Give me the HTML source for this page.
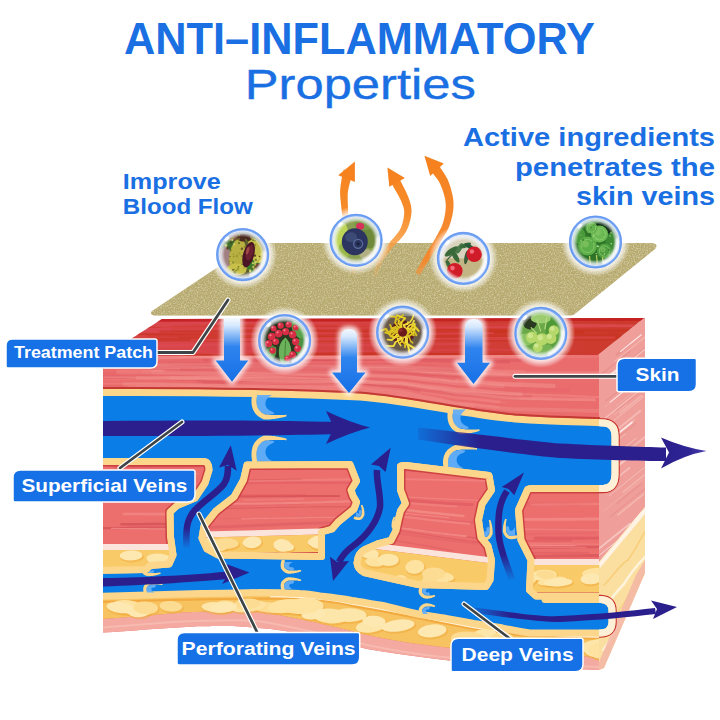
<!DOCTYPE html>
<html><head><meta charset="utf-8">
<style>
html,body{margin:0;padding:0;background:#fff;width:720px;height:720px;overflow:hidden}
svg{display:block}
text{font-family:"Liberation Sans",sans-serif}
</style></head>
<body>
<svg width="720" height="720" viewBox="0 0 720 720">
<defs>
  <clipPath id="front"><path d="M103,356 L599,355 L599,670 C550,668 500,665 453,661 C420,657 390,653 367,649 C330,640 290,630 258,628 C240,626 230,626 227,626 C210,626 195,626.4 195,626.4 C160,628 130,631 103,632.6 Z"/></clipPath>
  <clipPath id="topface"><path d="M162,319 L644,318 L598,355 L103,357 Z"/></clipPath>
  <clipPath id="sideL"><path d="M599,562 L645,507 L645,573 L604,668 L599,670 Z"/></clipPath>
  <clipPath id="sideU"><path d="M598,355 L644,318 L645,318 L645,507 L599,562 Z"/></clipPath>
  <clipPath id="sideOnly"><rect x="599" y="0" width="121" height="720"/></clipPath>
  <clipPath id="leftOfSide"><rect x="0" y="0" width="599" height="720"/></clipPath>
  <clipPath id="rightOfLeft"><rect x="103" y="300" width="560" height="400"/></clipPath>
  <clipPath id="islA"><path d="M95,461.5 L204,461.5 Q209,462 209,470 L205,483 L195,498 L177,505.5 L170,512 L170.5,537 L173,555 L169,564 L150,565.5 L146,569.5 L95,570.5 Z"/></clipPath>
  <clipPath id="islB"><path d="M247,465 L350,464.5 L356.5,481 L351,490 L353,496 L356.5,502 L354,509 L338,522 L332,529 L321.5,532 L321.5,556.5 L218,555 L207,549 L202,538 L204,526 L216,511 L234,497 L243.5,480 Z"/></clipPath>
  <clipPath id="islC"><path d="M400.5,466 Q401,465 406,465.5 L489,475.5 L491.5,490 L482,504 L478.5,520 L481,537.5 L488,546 L491.5,560 L490,580 L486,586.5 L418,584.5 L364,572.5 Q357.5,569 357,563 Q358,553 365,549.5 L377.5,544 L391,540.5 L396,530.5 L398,521 L400.5,511 L405.5,503.5 L400.5,490 Z"/></clipPath>
  <clipPath id="islD"><path d="M527,491 Q527,488.5 532,488.5 L625,488.5 L625,596 L536,596 L529.5,590 L531,560 L521,540 L518.5,510 Z"/></clipPath>
  <linearGradient id="dnArrow" x1="0" y1="0" x2="0" y2="1">
    <stop offset="0" stop-color="#f4f9ff"/>
    <stop offset="0.12" stop-color="#d6e8fd"/>
    <stop offset="0.45" stop-color="#2f84ee"/>
    <stop offset="1" stop-color="#1670e6"/>
  </linearGradient>
  <linearGradient id="fadeB" x1="418" y1="0" x2="480" y2="0" gradientUnits="userSpaceOnUse">
    <stop offset="0" stop-color="#2a1f8c" stop-opacity="0.15"/>
    <stop offset="1" stop-color="#2a1f8c"/>
  </linearGradient>
  <linearGradient id="topGrad" x1="103" y1="0" x2="644" y2="0" gradientUnits="userSpaceOnUse">
    <stop offset="0" stop-color="#da4850"/>
    <stop offset="0.5" stop-color="#d3403e"/>
    <stop offset="1" stop-color="#cc3a2c"/>
  </linearGradient>
  <linearGradient id="headB" x1="661" y1="0" x2="707" y2="0" gradientUnits="userSpaceOnUse">
    <stop offset="0" stop-color="#2a1f8c"/>
    <stop offset="0.6" stop-color="#2e2494"/>
    <stop offset="1" stop-color="#4a42ae"/>
  </linearGradient>
  <linearGradient id="fadeD" x1="470" y1="0" x2="510" y2="0" gradientUnits="userSpaceOnUse">
    <stop offset="0" stop-color="#2a1f8c" stop-opacity="0.1"/>
    <stop offset="1" stop-color="#2a1f8c"/>
  </linearGradient>
  <linearGradient id="fadeP1" x1="0" y1="549" x2="0" y2="528" gradientUnits="userSpaceOnUse">
    <stop offset="0" stop-color="#2a1f8c" stop-opacity="0"/>
    <stop offset="1" stop-color="#2a1f8c"/>
  </linearGradient>
  <linearGradient id="fadeP3" x1="0" y1="581" x2="0" y2="555" gradientUnits="userSpaceOnUse">
    <stop offset="0" stop-color="#2a1f8c" stop-opacity="0"/>
    <stop offset="1" stop-color="#2a1f8c"/>
  </linearGradient>
  <linearGradient id="fadeUp" x1="0" y1="1" x2="0" y2="0">
    <stop offset="0" stop-color="#2a1f8c" stop-opacity="0.1"/>
    <stop offset="0.3" stop-color="#2a1f8c"/>
    <stop offset="1" stop-color="#2a1f8c"/>
  </linearGradient>
  <linearGradient id="orange" x1="0" y1="278" x2="0" y2="160" gradientUnits="userSpaceOnUse">
    <stop offset="0" stop-color="#f9a850" stop-opacity="0.1"/>
    <stop offset="0.3" stop-color="#f89a3c" stop-opacity="0.85"/>
    <stop offset="0.55" stop-color="#f78c2a"/>
    <stop offset="1" stop-color="#f5821f"/>
  </linearGradient>
  <linearGradient id="orange3" x1="0" y1="278" x2="0" y2="160" gradientUnits="userSpaceOnUse">
    <stop offset="0" stop-color="#f7923a" stop-opacity="0.5"/>
    <stop offset="0.15" stop-color="#f6862a" stop-opacity="0.95"/>
    <stop offset="1" stop-color="#f5821f"/>
  </linearGradient>
  <radialGradient id="bubGlow" cx="0.5" cy="0.5" r="0.5">
    <stop offset="0.7" stop-color="#ffffff" stop-opacity="1"/>
    <stop offset="0.82" stop-color="#ffffff" stop-opacity="0.7"/>
    <stop offset="1" stop-color="#ffffff" stop-opacity="0"/>
  </radialGradient>
  <radialGradient id="bubIn" cx="0.5" cy="0.5" r="0.5">
    <stop offset="0.7" stop-color="#ffffff" stop-opacity="0"/>
    <stop offset="0.84" stop-color="#f2f6ff" stop-opacity="0.75"/>
    <stop offset="0.94" stop-color="#e4edfd" stop-opacity="0.95"/>
    <stop offset="1" stop-color="#c9dafb" stop-opacity="1"/>
  </radialGradient>
  <filter id="noise" x="0" y="0" width="100%" height="100%">
    <feTurbulence type="fractalNoise" baseFrequency="0.9" numOctaves="2" seed="3" result="n"/>
    <feColorMatrix type="matrix" values="0 0 0 0 0.62  0 0 0 0 0.56  0 0 0 0 0.34  0 0 0 1.4 -0.62" in="n" result="c"/>
    <feComposite in="c" in2="SourceGraphic" operator="in"/>
  </filter>
  <filter id="noise2" x="0" y="0" width="100%" height="100%">
    <feTurbulence type="fractalNoise" baseFrequency="0.7" numOctaves="2" seed="11" result="n"/>
    <feColorMatrix type="matrix" values="0 0 0 0 0.86  0 0 0 0 0.80  0 0 0 0 0.60  0 0 0 1.4 -0.62" in="n" result="c"/>
    <feComposite in="c" in2="SourceGraphic" operator="in"/>
  </filter>
  <filter id="blur2"><feGaussianBlur stdDeviation="2"/></filter>
  <filter id="blur1"><feGaussianBlur stdDeviation="1"/></filter>
</defs>

<!-- ===== SIDE FACE ===== -->
<path d="M598,355 L644,318 L645,318 L645,507 L599,562 Z" fill="#ef9e99"/>
<g clip-path="url(#sideU)"><line x1="620.5" y1="456.6" x2="657.4" y2="426.9" stroke="#fad4ce" stroke-width="2.0" stroke-opacity="0.43" stroke-linecap="round"/>
<line x1="610.3" y1="516.5" x2="652.4" y2="482.6" stroke="#e48886" stroke-width="0.9" stroke-opacity="0.71" stroke-linecap="round"/>
<line x1="614.4" y1="414.6" x2="627.5" y2="404.1" stroke="#fad4ce" stroke-width="0.9" stroke-opacity="0.41" stroke-linecap="round"/>
<line x1="604.8" y1="407.1" x2="639.7" y2="379.1" stroke="#fad4ce" stroke-width="0.8" stroke-opacity="0.37" stroke-linecap="round"/>
<line x1="616.1" y1="410.5" x2="648.7" y2="384.2" stroke="#e48886" stroke-width="1.3" stroke-opacity="0.56" stroke-linecap="round"/>
<line x1="599.4" y1="454.5" x2="625.7" y2="433.5" stroke="#fad4ce" stroke-width="1.3" stroke-opacity="0.38" stroke-linecap="round"/>
<line x1="598.2" y1="456.4" x2="618.9" y2="439.8" stroke="#e48886" stroke-width="2.4" stroke-opacity="0.50" stroke-linecap="round"/>
<line x1="598.2" y1="556.2" x2="638.9" y2="523.5" stroke="#ffffff" stroke-width="1.0" stroke-opacity="0.56" stroke-linecap="round"/>
<line x1="619.8" y1="564.4" x2="635.6" y2="551.6" stroke="#f7c2bc" stroke-width="2.2" stroke-opacity="0.63" stroke-linecap="round"/>
<line x1="610.1" y1="402.1" x2="649.8" y2="370.2" stroke="#ffffff" stroke-width="1.1" stroke-opacity="0.73" stroke-linecap="round"/>
<line x1="617.1" y1="503.4" x2="641.4" y2="483.8" stroke="#e48886" stroke-width="1.4" stroke-opacity="0.48" stroke-linecap="round"/>
<line x1="617.8" y1="539.1" x2="629.5" y2="529.6" stroke="#e48886" stroke-width="1.0" stroke-opacity="0.72" stroke-linecap="round"/>
<line x1="604.4" y1="510.4" x2="644.2" y2="478.4" stroke="#f7c2bc" stroke-width="0.9" stroke-opacity="0.51" stroke-linecap="round"/>
<line x1="622.8" y1="545.7" x2="636.9" y2="534.4" stroke="#f7c2bc" stroke-width="2.2" stroke-opacity="0.46" stroke-linecap="round"/>
<line x1="614.4" y1="361.6" x2="646.7" y2="335.6" stroke="#fad4ce" stroke-width="1.2" stroke-opacity="0.46" stroke-linecap="round"/>
<line x1="606.8" y1="465.0" x2="624.4" y2="450.8" stroke="#e48886" stroke-width="2.2" stroke-opacity="0.67" stroke-linecap="round"/>
<line x1="623.3" y1="492.0" x2="663.4" y2="459.7" stroke="#fad4ce" stroke-width="2.0" stroke-opacity="0.37" stroke-linecap="round"/>
<line x1="617.8" y1="514.8" x2="643.6" y2="494.1" stroke="#f7c2bc" stroke-width="1.6" stroke-opacity="0.71" stroke-linecap="round"/>
<line x1="608.0" y1="473.8" x2="625.0" y2="460.1" stroke="#f7c2bc" stroke-width="1.3" stroke-opacity="0.65" stroke-linecap="round"/>
<line x1="615.0" y1="569.7" x2="634.8" y2="553.7" stroke="#f7c2bc" stroke-width="1.6" stroke-opacity="0.62" stroke-linecap="round"/>
<line x1="598.2" y1="376.9" x2="629.9" y2="351.4" stroke="#e48886" stroke-width="1.7" stroke-opacity="0.53" stroke-linecap="round"/>
<line x1="608.4" y1="424.9" x2="643.7" y2="396.5" stroke="#fad4ce" stroke-width="1.2" stroke-opacity="0.42" stroke-linecap="round"/>
<line x1="606.7" y1="475.1" x2="628.3" y2="457.7" stroke="#fad4ce" stroke-width="2.2" stroke-opacity="0.65" stroke-linecap="round"/>
<line x1="611.2" y1="442.9" x2="635.8" y2="423.1" stroke="#e48886" stroke-width="1.2" stroke-opacity="0.65" stroke-linecap="round"/>
<line x1="606.4" y1="462.1" x2="636.0" y2="438.3" stroke="#fad4ce" stroke-width="0.9" stroke-opacity="0.71" stroke-linecap="round"/>
<line x1="608.5" y1="436.5" x2="640.3" y2="410.9" stroke="#f7c2bc" stroke-width="2.2" stroke-opacity="0.70" stroke-linecap="round"/>
<line x1="616.6" y1="354.9" x2="629.3" y2="344.7" stroke="#e48886" stroke-width="2.3" stroke-opacity="0.55" stroke-linecap="round"/>
<line x1="622.9" y1="366.5" x2="663.6" y2="333.7" stroke="#e48886" stroke-width="2.4" stroke-opacity="0.45" stroke-linecap="round"/>
<line x1="611.1" y1="374.5" x2="627.6" y2="361.3" stroke="#ffffff" stroke-width="2.3" stroke-opacity="0.64" stroke-linecap="round"/>
<line x1="609.3" y1="495.7" x2="644.8" y2="467.1" stroke="#ffffff" stroke-width="0.8" stroke-opacity="0.40" stroke-linecap="round"/>
<line x1="616.7" y1="478.1" x2="629.6" y2="467.8" stroke="#fad4ce" stroke-width="1.8" stroke-opacity="0.56" stroke-linecap="round"/>
<line x1="598.9" y1="448.4" x2="634.4" y2="419.9" stroke="#f7c2bc" stroke-width="1.6" stroke-opacity="0.58" stroke-linecap="round"/>
<line x1="613.4" y1="437.3" x2="632.1" y2="422.3" stroke="#ffffff" stroke-width="1.7" stroke-opacity="0.75" stroke-linecap="round"/>
<line x1="620.3" y1="412.7" x2="641.9" y2="395.4" stroke="#fad4ce" stroke-width="1.6" stroke-opacity="0.44" stroke-linecap="round"/>
<line x1="616.4" y1="405.6" x2="658.1" y2="372.1" stroke="#f7c2bc" stroke-width="0.9" stroke-opacity="0.43" stroke-linecap="round"/>
<line x1="598.4" y1="549.1" x2="630.2" y2="523.5" stroke="#fad4ce" stroke-width="1.9" stroke-opacity="0.72" stroke-linecap="round"/>
<line x1="605.8" y1="401.0" x2="618.6" y2="390.8" stroke="#e48886" stroke-width="1.4" stroke-opacity="0.51" stroke-linecap="round"/>
<line x1="620.5" y1="351.5" x2="641.3" y2="334.8" stroke="#ffffff" stroke-width="1.1" stroke-opacity="0.74" stroke-linecap="round"/>
<line x1="602.7" y1="420.1" x2="639.9" y2="390.2" stroke="#fad4ce" stroke-width="1.2" stroke-opacity="0.71" stroke-linecap="round"/>
<line x1="613.7" y1="374.5" x2="644.8" y2="349.5" stroke="#fad4ce" stroke-width="1.6" stroke-opacity="0.71" stroke-linecap="round"/></g>
<path d="M599,562 L645,507 L645,573 L604,668 L599,670 Z" fill="#fbdfa0"/>
<path d="M599,563 L645,508 L645,514 L600,568 Z" fill="#fff3e6"/>
<g clip-path="url(#sideL)" fill="none" stroke-linecap="round">
  <path d="M604,585 C612,578 618,566 628,560 C634,552 640,540 646,530" stroke="#f6c66a" stroke-width="1.5" opacity="0.7"/>
  <path d="M603,610 C610,600 616,592 624,584 C630,574 636,566 646,556" stroke="#fff8ea" stroke-width="2.5" opacity="0.8"/>
  <path d="M606,628 C612,620 618,612 626,600 C632,592 638,582 646,572" stroke="#f6c66a" stroke-width="1.3" opacity="0.6"/>
  <path d="M603,650 C610,640 616,630 622,620" stroke="#fff8ea" stroke-width="2" opacity="0.8"/>
  <path d="M610,540 C618,534 626,528 632,522 C638,516 642,512 646,509" stroke="#fff8ea" stroke-width="2" opacity="0.8"/>
</g>
<path d="M645,560 L645,573 L604,668 L599,670 L599,662 L636,575 Z" fill="#f4b3a6" opacity="0.8"/>
<!-- ===== TOP FACE ===== -->
<path d="M162,319 L644,318 L598,355 L103,357 Z" fill="url(#topGrad)"/>
<g clip-path="url(#topface)"><polyline points="171.2,330.7 179.2,330.7 187.2,330.8 195.2,330.8 203.2,330.9 211.2,331.0 219.2,331.1 227.2,331.2 235.2,331.2 243.2,331.3 251.2,331.4 259.2,331.4 267.2,331.4 275.2,331.4 283.2,331.4 291.2,331.3 299.2,331.3 307.2,331.2 315.2,331.1 323.2,330.9 331.2,330.8 339.2,330.7 347.2,330.6 355.2,330.4 363.2,330.3 371.2,330.2 379.2,330.2 387.2,330.1 395.2,330.1 403.2,330.1 411.2,330.1 419.2,330.1 427.2,330.2 435.2,330.2 443.2,330.3 451.2,330.4 459.2,330.5 467.2,330.6 475.2,330.6 483.2,330.7 491.2,330.7 499.2,330.8 507.2,330.8 515.2,330.7" fill="none" stroke="#c8321e" stroke-width="1.4" stroke-opacity="0.38" stroke-linecap="round"/>
<polyline points="111.6,338.1 119.6,338.0 127.6,337.9 135.6,337.8 143.6,337.8 151.6,337.7 159.6,337.7 167.6,337.7 175.6,337.7 183.6,337.7 191.6,337.8 199.6,337.8 207.6,337.9 215.6,338.0 223.6,338.1 231.6,338.2 239.6,338.2 247.6,338.3 255.6,338.3 263.6,338.4 271.6,338.4 279.6,338.3 287.6,338.3 295.6,338.2 303.6,338.1 311.6,338.0 319.6,337.9 327.6,337.8 335.6,337.6 343.6,337.5 351.6,337.4 359.6,337.3 367.6,337.2 375.6,337.1 383.6,337.0 391.6,337.0 399.6,336.9 407.6,336.9 415.6,337.0 423.6,337.0 431.6,337.1 439.6,337.1 447.6,337.2 455.6,337.3 463.6,337.4 471.6,337.5 479.6,337.5 487.6,337.6 495.6,337.6 503.6,337.6 511.6,337.6 519.6,337.5 527.6,337.5 535.6,337.4 543.6,337.3 551.6,337.2 559.6,337.1 567.6,336.9" fill="none" stroke="#e0505a" stroke-width="1.1" stroke-opacity="0.54" stroke-linecap="round"/>
<polyline points="143.1,340.0 151.1,339.9 159.1,339.9 167.1,339.9 175.1,339.9 183.1,339.9 191.1,339.9 199.1,340.0 207.1,340.1 215.1,340.1 223.1,340.2 231.1,340.3 239.1,340.4 247.1,340.4 255.1,340.5 263.1,340.5 271.1,340.5 279.1,340.5 287.1,340.5 295.1,340.4 303.1,340.3 311.1,340.2 319.1,340.1 327.1,340.0 335.1,339.9 343.1,339.7 351.1,339.6 359.1,339.5 367.1,339.4 375.1,339.3 383.1,339.2 391.1,339.1 399.1,339.1 407.1,339.1 415.1,339.1 423.1,339.2 431.1,339.2 439.1,339.3 447.1,339.4 455.1,339.4 463.1,339.5 471.1,339.6 479.1,339.7 487.1,339.7 495.1,339.7 503.1,339.7 511.1,339.7 519.1,339.7 527.1,339.7 535.1,339.6 543.1,339.5 551.1,339.4 559.1,339.3 567.1,339.1 575.1,339.0 583.1,338.9 591.1,338.8 599.1,338.7 607.1,338.6 615.1,338.5 623.1,338.5 631.1,338.5 639.1,338.5 647.1,338.5 655.1,338.5 663.1,338.6 671.1,338.7" fill="none" stroke="#c8321e" stroke-width="3.4" stroke-opacity="0.61" stroke-linecap="round"/>
<polyline points="178.3,351.6 186.3,351.5 194.3,351.3 202.3,351.2 210.3,351.1 218.3,351.0 226.3,350.9 234.3,350.8 242.3,350.7 250.3,350.7 258.3,350.7 266.3,350.7 274.3,350.7 282.3,350.8 290.3,350.8 298.3,350.9 306.3,351.0 314.3,351.0 322.3,351.1 330.3,351.2 338.3,351.2 346.3,351.2 354.3,351.2 362.3,351.2 370.3,351.2 378.3,351.1 386.3,351.1 394.3,350.9 402.3,350.8 410.3,350.7 418.3,350.6 426.3,350.4 434.3,350.3 442.3,350.2 450.3,350.0 458.3,349.9 466.3,349.8 474.3,349.8 482.3,349.7 490.3,349.7 498.3,349.7 506.3,349.8 514.3,349.8 522.3,349.9 530.3,350.0 538.3,350.0 546.3,350.1 554.3,350.2 562.3,350.3 570.3,350.3" fill="none" stroke="#dc4650" stroke-width="1.7" stroke-opacity="0.59" stroke-linecap="round"/>
<polyline points="173.6,322.3 181.6,322.4 189.6,322.4 197.6,322.5 205.6,322.6 213.6,322.7 221.6,322.8 229.6,322.8 237.6,322.9 245.6,323.0 253.6,323.1 261.6,323.1 269.6,323.1 277.6,323.1 285.6,323.1 293.6,323.0 301.6,322.9 309.6,322.8 317.6,322.7 325.6,322.6 333.6,322.5 341.6,322.3 349.6,322.2 357.6,322.1 365.6,322.0 373.6,321.9 381.6,321.9 389.6,321.8 397.6,321.8 405.6,321.8 413.6,321.8 421.6,321.9 429.6,321.9 437.6,322.0" fill="none" stroke="#dc4650" stroke-width="2.4" stroke-opacity="0.52" stroke-linecap="round"/>
<polyline points="157.1,326.9 165.1,326.9 173.1,327.0 181.1,327.1 189.1,327.1 197.1,327.1 205.1,327.1 213.1,327.1 221.1,327.1 229.1,327.0 237.1,326.9 245.1,326.8 253.1,326.7 261.1,326.6 269.1,326.4 277.1,326.3 285.1,326.2 293.1,326.1 301.1,326.0 309.1,325.9 317.1,325.9 325.1,325.9 333.1,325.8 341.1,325.9 349.1,325.9 357.1,326.0 365.1,326.0 373.1,326.1 381.1,326.2 389.1,326.3 397.1,326.4 405.1,326.4 413.1,326.5 421.1,326.5 429.1,326.6 437.1,326.5 445.1,326.5 453.1,326.5 461.1,326.4 469.1,326.3 477.1,326.2 485.1,326.1 493.1,326.0 501.1,325.8 509.1,325.7 517.1,325.6 525.1,325.5 533.1,325.4 541.1,325.3 549.1,325.3 557.1,325.3 565.1,325.3 573.1,325.3 581.1,325.3 589.1,325.4 597.1,325.5 605.1,325.6 613.1,325.7 621.1,325.8 629.1,325.9 637.1,325.9 645.1,326.0 653.1,326.1 661.1,326.1" fill="none" stroke="#e0505a" stroke-width="2.7" stroke-opacity="0.70" stroke-linecap="round"/>
<polyline points="123.7,328.1 131.7,328.1 139.7,328.2 147.7,328.3 155.7,328.4 163.7,328.5 171.7,328.6 179.7,328.6 187.7,328.7 195.7,328.7 203.7,328.7 211.7,328.7 219.7,328.7 227.7,328.7 235.7,328.6 243.7,328.5 251.7,328.4 259.7,328.2 267.7,328.1 275.7,328.0 283.7,327.9 291.7,327.8 299.7,327.6 307.7,327.6 315.7,327.5 323.7,327.5 331.7,327.4 339.7,327.4 347.7,327.5 355.7,327.5 363.7,327.6 371.7,327.6 379.7,327.7 387.7,327.8 395.7,327.9 403.7,328.0 411.7,328.0 419.7,328.1 427.7,328.1 435.7,328.1 443.7,328.1 451.7,328.1 459.7,328.0 467.7,328.0 475.7,327.9 483.7,327.7 491.7,327.6 499.7,327.5 507.7,327.4 515.7,327.2 523.7,327.1 531.7,327.0 539.7,327.0 547.7,326.9" fill="none" stroke="#dc4650" stroke-width="1.4" stroke-opacity="0.39" stroke-linecap="round"/>
<polyline points="147.5,335.5 155.5,335.5 163.5,335.5 171.5,335.6 179.5,335.7 187.5,335.8 195.5,335.8 203.5,335.9 211.5,336.0 219.5,336.1 227.5,336.1 235.5,336.2 243.5,336.2 251.5,336.2 259.5,336.2 267.5,336.1 275.5,336.1 283.5,336.0 291.5,335.9 299.5,335.8 307.5,335.6 315.5,335.5 323.5,335.4 331.5,335.2 339.5,335.1 347.5,335.0 355.5,334.9 363.5,334.9 371.5,334.8 379.5,334.8 387.5,334.8 395.5,334.9 403.5,334.9 411.5,335.0 419.5,335.0 427.5,335.1 435.5,335.2 443.5,335.3 451.5,335.4 459.5,335.4 467.5,335.5 475.5,335.5 483.5,335.5 491.5,335.5 499.5,335.4 507.5,335.3 515.5,335.3 523.5,335.2 531.5,335.0 539.5,334.9 547.5,334.8 555.5,334.7 563.5,334.5 571.5,334.4 579.5,334.3 587.5,334.3 595.5,334.2 603.5,334.2 611.5,334.2 619.5,334.2" fill="none" stroke="#c8321e" stroke-width="2.5" stroke-opacity="0.40" stroke-linecap="round"/>
<polyline points="178.8,337.7 186.8,337.7 194.8,337.8 202.8,337.8 210.8,337.8 218.8,337.8 226.8,337.8 234.8,337.7 242.8,337.6 250.8,337.5 258.8,337.4 266.8,337.3 274.8,337.2 282.8,337.0 290.8,336.9 298.8,336.8 306.8,336.7 314.8,336.6 322.8,336.5 330.8,336.5 338.8,336.5 346.8,336.5 354.8,336.5 362.8,336.5 370.8,336.6 378.8,336.6 386.8,336.7 394.8,336.8 402.8,336.9 410.8,337.0 418.8,337.0 426.8,337.1 434.8,337.1 442.8,337.1 450.8,337.1 458.8,337.0 466.8,337.0 474.8,336.9 482.8,336.8 490.8,336.7 498.8,336.6 506.8,336.4 514.8,336.3 522.8,336.2 530.8,336.1 538.8,336.0 546.8,335.9 554.8,335.8 562.8,335.8 570.8,335.7 578.8,335.7 586.8,335.8 594.8,335.8 602.8,335.9 610.8,336.0 618.8,336.1 626.8,336.2 634.8,336.3 642.8,336.3 650.8,336.4" fill="none" stroke="#c8321e" stroke-width="1.1" stroke-opacity="0.69" stroke-linecap="round"/>
<polyline points="81.9,345.6 89.9,345.7 97.9,345.8 105.9,345.8 113.9,345.9 121.9,345.9 129.9,345.9 137.9,345.8 145.9,345.8 153.9,345.7 161.9,345.6 169.9,345.5 177.9,345.4 185.9,345.2 193.9,345.1 201.9,345.0 209.9,344.9 217.9,344.8 225.9,344.7 233.9,344.6 241.9,344.6 249.9,344.5 257.9,344.5 265.9,344.5 273.9,344.6 281.9,344.6 289.9,344.7 297.9,344.8 305.9,344.9 313.9,344.9 321.9,345.0 329.9,345.1 337.9,345.1 345.9,345.1 353.9,345.1 361.9,345.1 369.9,345.1 377.9,345.0 385.9,344.9 393.9,344.8 401.9,344.7 409.9,344.6 417.9,344.4 425.9,344.3 433.9,344.1 441.9,344.0 449.9,343.9 457.9,343.8 465.9,343.7 473.9,343.7 481.9,343.7 489.9,343.7" fill="none" stroke="#e0505a" stroke-width="2.5" stroke-opacity="0.38" stroke-linecap="round"/>
<polyline points="263.6,321.4 271.6,321.3 279.6,321.2 287.6,321.1 295.6,320.9 303.6,320.8 311.6,320.7 319.6,320.6 327.6,320.6 335.6,320.5 343.6,320.5 351.6,320.5 359.6,320.5 367.6,320.6 375.6,320.6 383.6,320.7 391.6,320.8 399.6,320.9 407.6,321.0 415.6,321.1 423.6,321.1 431.6,321.2 439.6,321.2 447.6,321.2 455.6,321.2 463.6,321.2 471.6,321.2 479.6,321.1 487.6,321.0 495.6,320.9 503.6,320.8 511.6,320.7 519.6,320.5 527.6,320.4 535.6,320.3 543.6,320.2 551.6,320.1 559.6,320.1 567.6,320.0 575.6,320.0 583.6,320.0 591.6,320.0 599.6,320.1 607.6,320.2 615.6,320.2 623.6,320.3 631.6,320.4" fill="none" stroke="#cc3626" stroke-width="2.8" stroke-opacity="0.64" stroke-linecap="round"/>
<polyline points="134.8,333.8 142.8,333.9 150.8,334.0 158.8,334.0 166.8,334.0 174.8,334.0 182.8,334.0 190.8,333.9 198.8,333.9 206.8,333.8 214.8,333.7 222.8,333.6 230.8,333.4 238.8,333.3 246.8,333.2 254.8,333.1 262.8,332.9 270.8,332.9 278.8,332.8 286.8,332.7 294.8,332.7 302.8,332.7 310.8,332.7 318.8,332.8 326.8,332.8 334.8,332.9 342.8,333.0 350.8,333.0 358.8,333.1 366.8,333.2 374.8,333.3 382.8,333.3 390.8,333.4 398.8,333.4 406.8,333.4 414.8,333.3 422.8,333.3 430.8,333.2 438.8,333.1 446.8,333.0 454.8,332.9 462.8,332.7 470.8,332.6 478.8,332.5 486.8,332.4 494.8,332.3 502.8,332.2 510.8,332.1 518.8,332.0 526.8,332.0 534.8,332.0 542.8,332.0 550.8,332.1 558.8,332.1 566.8,332.2 574.8,332.3 582.8,332.4" fill="none" stroke="#c8321e" stroke-width="2.7" stroke-opacity="0.77" stroke-linecap="round"/>
<polyline points="248.2,327.5 256.2,327.5 264.2,327.4 272.2,327.4 280.2,327.3 288.2,327.2 296.2,327.1 304.2,326.9 312.2,326.8 320.2,326.7 328.2,326.6 336.2,326.5 344.2,326.4 352.2,326.3 360.2,326.2 368.2,326.2 376.2,326.2 384.2,326.2 392.2,326.2 400.2,326.3 408.2,326.4 416.2,326.4 424.2,326.5 432.2,326.6 440.2,326.7 448.2,326.8 456.2,326.8 464.2,326.9 472.2,326.9 480.2,326.9 488.2,326.9 496.2,326.8 504.2,326.8 512.2,326.7 520.2,326.6 528.2,326.5 536.2,326.4 544.2,326.2 552.2,326.1" fill="none" stroke="#dc4650" stroke-width="1.7" stroke-opacity="0.53" stroke-linecap="round"/>
<polyline points="237.5,334.2 245.5,334.0 253.5,333.9 261.5,333.8 269.5,333.7 277.5,333.5 285.5,333.4 293.5,333.4 301.5,333.3 309.5,333.3 317.5,333.2 325.5,333.3 333.5,333.3 341.5,333.3 349.5,333.4 357.5,333.5 365.5,333.5 373.5,333.6 381.5,333.7 389.5,333.8 397.5,333.8 405.5,333.9 413.5,333.9 421.5,333.9 429.5,333.9 437.5,333.8 445.5,333.8 453.5,333.7 461.5,333.6 469.5,333.5 477.5,333.3 485.5,333.2 493.5,333.1" fill="none" stroke="#dc4650" stroke-width="1.7" stroke-opacity="0.72" stroke-linecap="round"/>
<polyline points="98.6,332.2 106.6,332.2 114.6,332.1 122.6,332.1 130.6,332.1 138.6,332.1 146.6,332.2 154.6,332.2 162.6,332.3 170.6,332.4 178.6,332.5 186.6,332.6 194.6,332.7 202.6,332.7 210.6,332.8 218.6,332.8 226.6,332.9 234.6,332.9 242.6,332.8 250.6,332.8 258.6,332.7 266.6,332.6 274.6,332.5 282.6,332.4 290.6,332.3 298.6,332.1 306.6,332.0 314.6,331.9 322.6,331.8 330.6,331.7 338.6,331.6 346.6,331.5 354.6,331.5 362.6,331.5 370.6,331.5 378.6,331.6 386.6,331.6 394.6,331.7 402.6,331.8 410.6,331.8 418.6,331.9 426.6,332.0 434.6,332.1 442.6,332.1 450.6,332.2 458.6,332.2 466.6,332.2 474.6,332.1 482.6,332.1" fill="none" stroke="#dc4650" stroke-width="3.2" stroke-opacity="0.42" stroke-linecap="round"/>
<polyline points="92.4,337.5 100.4,337.5 108.4,337.6 116.4,337.7 124.4,337.8 132.4,337.8 140.4,337.8 148.4,337.8 156.4,337.8 164.4,337.8 172.4,337.7 180.4,337.6 188.4,337.5 196.4,337.4 204.4,337.2 212.4,337.1 220.4,337.0 228.4,336.9 236.4,336.8 244.4,336.7 252.4,336.6 260.4,336.6 268.4,336.5 276.4,336.5 284.4,336.5 292.4,336.6 300.4,336.6 308.4,336.7 316.4,336.8 324.4,336.9 332.4,336.9 340.4,337.0 348.4,337.1 356.4,337.1 364.4,337.2 372.4,337.2 380.4,337.2 388.4,337.1 396.4,337.1 404.4,337.0 412.4,336.9 420.4,336.8 428.4,336.6 436.4,336.5 444.4,336.4 452.4,336.3 460.4,336.1 468.4,336.0 476.4,335.9 484.4,335.9 492.4,335.8 500.4,335.8 508.4,335.8 516.4,335.8 524.4,335.8 532.4,335.9 540.4,336.0 548.4,336.0 556.4,336.1" fill="none" stroke="#cc3626" stroke-width="2.5" stroke-opacity="0.48" stroke-linecap="round"/>
<polyline points="238.9,330.3 246.9,330.3 254.9,330.3 262.9,330.3 270.9,330.3 278.9,330.4 286.9,330.4 294.9,330.5 302.9,330.6 310.9,330.7 318.9,330.8 326.9,330.8 334.9,330.9 342.9,330.9 350.9,331.0 358.9,331.0 366.9,331.0 374.9,330.9 382.9,330.9 390.9,330.8 398.9,330.7 406.9,330.6 414.9,330.4 422.9,330.3 430.9,330.2 438.9,330.0 446.9,329.9 454.9,329.8 462.9,329.7 470.9,329.7 478.9,329.6 486.9,329.6 494.9,329.6 502.9,329.7 510.9,329.7 518.9,329.8 526.9,329.9 534.9,329.9 542.9,330.0 550.9,330.1 558.9,330.2 566.9,330.3 574.9,330.3 582.9,330.4 590.9,330.4 598.9,330.4 606.9,330.3 614.9,330.3 622.9,330.2 630.9,330.1 638.9,330.0 646.9,329.9 654.9,329.8 662.9,329.7" fill="none" stroke="#c8321e" stroke-width="1.3" stroke-opacity="0.56" stroke-linecap="round"/>
<polyline points="191.1,339.7 199.1,339.8 207.1,339.9 215.1,340.0 223.1,340.1 231.1,340.1 239.1,340.2 247.1,340.3 255.1,340.3 263.1,340.3 271.1,340.3 279.1,340.3 287.1,340.2 295.1,340.2 303.1,340.1 311.1,340.0 319.1,339.8 327.1,339.7 335.1,339.6 343.1,339.4 351.1,339.3 359.1,339.2 367.1,339.1 375.1,339.0 383.1,338.9 391.1,338.9 399.1,338.9 407.1,338.9 415.1,338.9 423.1,339.0 431.1,339.0 439.1,339.1" fill="none" stroke="#e0505a" stroke-width="2.0" stroke-opacity="0.40" stroke-linecap="round"/>
<polyline points="83.7,326.6 91.7,326.7 99.7,326.8 107.7,326.9 115.7,327.0 123.7,327.1 131.7,327.2 139.7,327.3 147.7,327.3 155.7,327.3 163.7,327.3 171.7,327.3 179.7,327.3 187.7,327.2 195.7,327.1 203.7,327.0 211.7,326.9 219.7,326.8 227.7,326.7 235.7,326.5 243.7,326.4 251.7,326.3 259.7,326.2 267.7,326.1 275.7,326.1 283.7,326.1 291.7,326.1 299.7,326.1 307.7,326.1 315.7,326.2 323.7,326.2 331.7,326.3 339.7,326.4 347.7,326.5 355.7,326.6 363.7,326.6 371.7,326.7 379.7,326.7 387.7,326.8 395.7,326.8 403.7,326.7 411.7,326.7 419.7,326.6 427.7,326.5 435.7,326.4 443.7,326.3 451.7,326.2 459.7,326.1 467.7,325.9 475.7,325.8 483.7,325.7 491.7,325.6 499.7,325.5 507.7,325.5 515.7,325.5 523.7,325.5 531.7,325.5 539.7,325.5 547.7,325.6 555.7,325.7 563.7,325.7 571.7,325.8" fill="none" stroke="#cc3626" stroke-width="1.4" stroke-opacity="0.62" stroke-linecap="round"/>
<polyline points="187.0,355.0 195.0,355.1 203.0,355.1 211.0,355.2 219.0,355.2 227.0,355.2 235.0,355.2 243.0,355.1 251.0,355.0 259.0,354.9 267.0,354.8 275.0,354.7 283.0,354.6 291.0,354.4 299.0,354.3 307.0,354.1 315.0,354.0 323.0,353.9 331.0,353.8 339.0,353.7 347.0,353.7 355.0,353.7 363.0,353.7 371.0,353.7 379.0,353.7 387.0,353.8 395.0,353.8 403.0,353.9 411.0,354.0 419.0,354.1 427.0,354.1 435.0,354.2 443.0,354.2 451.0,354.2 459.0,354.2" fill="none" stroke="#c8321e" stroke-width="2.5" stroke-opacity="0.74" stroke-linecap="round"/>
<polyline points="161.6,332.5 169.6,332.6 177.6,332.6 185.6,332.5 193.6,332.5 201.6,332.4 209.6,332.3 217.6,332.2 225.6,332.1 233.6,332.0 241.6,331.8 249.6,331.7 257.6,331.6 265.6,331.5 273.6,331.4 281.6,331.3 289.6,331.3 297.6,331.3 305.6,331.2 313.6,331.3 321.6,331.3 329.6,331.4 337.6,331.4 345.6,331.5 353.6,331.6 361.6,331.7 369.6,331.7 377.6,331.8 385.6,331.9 393.6,331.9 401.6,331.9 409.6,331.9 417.6,331.9 425.6,331.8 433.6,331.8 441.6,331.7 449.6,331.6 457.6,331.4 465.6,331.3 473.6,331.2 481.6,331.0 489.6,330.9 497.6,330.8 505.6,330.7 513.6,330.7 521.6,330.6 529.6,330.6 537.6,330.6 545.6,330.6 553.6,330.6 561.6,330.7 569.6,330.8 577.6,330.9 585.6,331.0 593.6,331.0 601.6,331.1 609.6,331.2 617.6,331.3 625.6,331.3 633.6,331.4 641.6,331.4 649.6,331.3 657.6,331.3 665.6,331.3 673.6,331.2" fill="none" stroke="#c8321e" stroke-width="1.9" stroke-opacity="0.40" stroke-linecap="round"/>
<polyline points="159.7,331.2 167.7,331.2 175.7,331.2 183.7,331.2 191.7,331.1 199.7,331.0 207.7,330.9 215.7,330.8 223.7,330.7 231.7,330.5 239.7,330.4 247.7,330.3 255.7,330.2 263.7,330.1 271.7,330.0 279.7,330.0 287.7,329.9 295.7,329.9 303.7,329.9 311.7,330.0 319.7,330.0 327.7,330.1 335.7,330.2 343.7,330.3 351.7,330.3 359.7,330.4 367.7,330.5 375.7,330.6 383.7,330.6 391.7,330.6 399.7,330.6 407.7,330.6 415.7,330.5 423.7,330.5 431.7,330.4 439.7,330.3 447.7,330.2 455.7,330.0 463.7,329.9 471.7,329.8 479.7,329.6 487.7,329.5 495.7,329.4 503.7,329.4 511.7,329.3 519.7,329.3 527.7,329.3 535.7,329.3 543.7,329.3 551.7,329.4 559.7,329.5 567.7,329.5 575.7,329.6 583.7,329.7 591.7,329.8 599.7,329.9" fill="none" stroke="#cc3626" stroke-width="1.4" stroke-opacity="0.68" stroke-linecap="round"/>
<polyline points="172.7,327.2 180.7,327.1 188.7,327.1 196.7,327.0 204.7,326.9 212.7,326.8 220.7,326.7 228.7,326.5 236.7,326.4 244.7,326.3 252.7,326.2 260.7,326.1 268.7,326.0 276.7,326.0 284.7,325.9 292.7,325.9 300.7,325.9 308.7,326.0 316.7,326.0 324.7,326.1 332.7,326.2 340.7,326.3 348.7,326.3 356.7,326.4 364.7,326.5 372.7,326.6 380.7,326.6 388.7,326.6 396.7,326.6 404.7,326.6 412.7,326.6 420.7,326.5 428.7,326.4" fill="none" stroke="#cc3626" stroke-width="3.4" stroke-opacity="0.42" stroke-linecap="round"/>
<polyline points="246.5,356.2 254.5,356.2 262.5,356.1 270.5,356.0 278.5,355.8 286.5,355.7 294.5,355.6 302.5,355.4 310.5,355.3 318.5,355.2 326.5,355.0 334.5,354.9 342.5,354.9 350.5,354.8 358.5,354.8 366.5,354.7 374.5,354.8 382.5,354.8 390.5,354.8 398.5,354.9 406.5,355.0 414.5,355.0 422.5,355.1 430.5,355.2 438.5,355.2 446.5,355.3 454.5,355.3 462.5,355.3 470.5,355.3 478.5,355.2 486.5,355.2 494.5,355.1 502.5,355.0 510.5,354.9" fill="none" stroke="#cc3626" stroke-width="3.2" stroke-opacity="0.58" stroke-linecap="round"/>
<polyline points="222.3,339.7 230.3,339.7 238.3,339.7 246.3,339.7 254.3,339.7 262.3,339.6 270.3,339.5 278.3,339.4 286.3,339.3 294.3,339.2 302.3,339.1 310.3,338.9 318.3,338.8 326.3,338.7 334.3,338.6 342.3,338.5 350.3,338.4 358.3,338.4 366.3,338.3 374.3,338.3 382.3,338.4 390.3,338.4 398.3,338.4 406.3,338.5 414.3,338.6 422.3,338.7 430.3,338.8 438.3,338.8 446.3,338.9 454.3,338.9 462.3,339.0 470.3,339.0 478.3,339.0 486.3,338.9 494.3,338.9 502.3,338.8 510.3,338.7 518.3,338.6 526.3,338.4 534.3,338.3 542.3,338.2 550.3,338.1 558.3,337.9 566.3,337.8 574.3,337.8 582.3,337.7 590.3,337.6 598.3,337.6 606.3,337.6 614.3,337.7" fill="none" stroke="#dc4650" stroke-width="2.3" stroke-opacity="0.63" stroke-linecap="round"/>
<polyline points="162.5,327.5 170.5,327.5 178.5,327.5 186.5,327.5 194.5,327.5 202.5,327.5 210.5,327.6 218.5,327.7 226.5,327.7 234.5,327.8 242.5,327.9 250.5,328.0 258.5,328.1 266.5,328.1 274.5,328.2 282.5,328.2 290.5,328.2 298.5,328.2 306.5,328.1 314.5,328.1 322.5,328.0 330.5,327.9 338.5,327.7 346.5,327.6 354.5,327.5 362.5,327.4 370.5,327.2 378.5,327.1 386.5,327.0 394.5,327.0 402.5,326.9 410.5,326.9 418.5,326.9 426.5,326.9 434.5,326.9 442.5,327.0 450.5,327.0 458.5,327.1 466.5,327.2 474.5,327.3 482.5,327.4 490.5,327.5 498.5,327.5 506.5,327.6 514.5,327.6 522.5,327.6 530.5,327.6 538.5,327.5 546.5,327.5 554.5,327.4 562.5,327.3 570.5,327.2 578.5,327.0 586.5,326.9 594.5,326.8 602.5,326.7 610.5,326.6" fill="none" stroke="#dc4650" stroke-width="2.0" stroke-opacity="0.44" stroke-linecap="round"/><path d="M150,320 L650,319" stroke="#c21e22" stroke-width="3.5" opacity="0.85"/></g>

<!-- ===== FRONT FACE ===== -->
<g clip-path="url(#front)">
  <rect x="100" y="350" width="500" height="330" fill="#ea6c6d"/>
  <polyline points="243.6,382.1 251.6,382.3 259.6,382.6 267.6,383.0 275.6,383.3 283.6,383.7 291.6,384.0 299.6,384.3 307.6,384.6 315.6,384.8 323.6,384.9 331.6,385.0 339.6,385.0 347.6,385.2 355.6,385.5 363.6,385.9 371.6,386.3 379.6,386.8 387.6,387.1 395.6,387.4 403.6,388.0 411.6,389.2 419.6,390.6 427.6,392.1 435.6,393.1 443.6,394.4 451.6,396.2 459.6,397.2 467.6,398.0 475.6,398.9 483.6,399.9 491.6,401.0 499.6,401.9" fill="none" stroke="#f48c8a" stroke-width="2.9" stroke-opacity="0.46" stroke-linecap="round"/>
<polyline points="82.3,386.9 90.3,386.8 98.3,386.8 106.3,386.9 114.3,387.0 122.3,387.2 130.3,387.3 138.3,387.5 146.3,387.8 154.3,388.0 162.3,388.2 170.3,388.4 178.3,388.7 186.3,388.8 194.3,389.0 202.3,389.1 210.3,389.2 218.3,389.2 226.3,389.3 234.3,389.2 242.3,389.1 250.3,389.0 258.3,389.0 266.3,389.1 274.3,389.2 282.3,389.3 290.3,389.5 298.3,389.7 306.3,389.9 314.3,390.1 322.3,390.3 330.3,390.6 338.3,390.8 346.3,391.2 354.3,391.8 362.3,392.7 370.3,393.6 378.3,394.5 386.3,395.3 394.3,396.0 402.3,396.9 410.3,398.5 418.3,400.5 426.3,402.4 434.3,403.9 442.3,405.2 450.3,407.3 458.3,408.7 466.3,409.3 474.3,410.1 482.3,411.0 490.3,411.9 498.3,412.8 506.3,413.5" fill="none" stroke="#e6646a" stroke-width="4.4" stroke-opacity="0.27" stroke-linecap="round"/>
<polyline points="153.5,372.3 161.5,372.1 169.5,372.0 177.5,371.9 185.5,371.7 193.5,371.6 201.5,371.5 209.5,371.5 217.5,371.5 225.5,371.5 233.5,371.5 241.5,371.6 249.5,371.7 257.5,371.9 265.5,372.2 273.5,372.5 281.5,372.8 289.5,373.1 297.5,373.4 305.5,373.7 313.5,374.0 321.5,374.2 329.5,374.3 337.5,374.4 345.5,374.5 353.5,374.8 361.5,375.0 369.5,375.2 377.5,375.4 385.5,375.6 393.5,375.7 401.5,375.8 409.5,376.3 417.5,377.1 425.5,377.8 433.5,378.4 441.5,378.9 449.5,379.9 457.5,380.7 465.5,381.0 473.5,381.5 481.5,382.1 489.5,382.8 497.5,383.4 505.5,384.0 513.5,384.5 521.5,384.8 529.5,385.1 537.5,385.4 545.5,385.7 553.5,386.0" fill="none" stroke="#f29490" stroke-width="4.5" stroke-opacity="0.50" stroke-linecap="round"/>
<polyline points="204.6,359.8 212.6,360.0 220.6,360.1 228.6,360.2 236.6,360.2 244.6,360.3 252.6,360.3 260.6,360.2 268.6,360.2 276.6,360.1 284.6,359.9 292.6,359.8 300.6,359.6 308.6,359.5 316.6,359.3 324.6,359.2 332.6,359.0 340.6,358.9 348.6,358.8 356.6,358.8 364.6,358.8 372.6,358.9 380.6,359.0 388.6,359.1 396.6,359.2 404.6,359.5 412.6,359.7 420.6,360.0 428.6,360.4 436.6,360.6 444.6,360.9 452.6,361.2 460.6,361.4 468.6,361.5 476.6,361.6 484.6,361.7 492.6,361.7 500.6,361.7 508.6,361.7" fill="none" stroke="#d85058" stroke-width="3.5" stroke-opacity="0.48" stroke-linecap="round"/>
<polyline points="203.3,382.2 211.3,382.4 219.3,382.6 227.3,382.7 235.3,382.9 243.3,382.9 251.3,383.0 259.3,383.1 267.3,383.3 275.3,383.4 283.3,383.5 291.3,383.7 299.3,383.8 307.3,383.8 315.3,383.9 323.3,384.0 331.3,384.0 339.3,384.0 347.3,384.2 355.3,384.5 363.3,385.1 371.3,385.7 379.3,386.3 387.3,386.8 395.3,387.3 403.3,388.1 411.3,389.5 419.3,391.2" fill="none" stroke="#d85058" stroke-width="2.5" stroke-opacity="0.39" stroke-linecap="round"/>
<polyline points="215.3,387.8 223.3,387.9 231.3,388.0 239.3,388.1 247.3,388.3 255.3,388.5 263.3,388.9 271.3,389.3 279.3,389.8 287.3,390.3 295.3,390.7 303.3,391.2 311.3,391.6 319.3,392.0 327.3,392.3 335.3,392.5 343.3,392.7 351.3,393.1 359.3,393.7 367.3,394.3 375.3,394.9 383.3,395.4 391.3,395.8 399.3,396.1 407.3,397.3 415.3,398.9 423.3,400.7 431.3,402.2" fill="none" stroke="#f29490" stroke-width="1.6" stroke-opacity="0.52" stroke-linecap="round"/>
<polyline points="166.5,387.8 174.5,387.6 182.5,387.6 190.5,387.5 198.5,387.4 206.5,387.4 214.5,387.4 222.5,387.4 230.5,387.5 238.5,387.6 246.5,387.7 254.5,388.0 262.5,388.3 270.5,388.7 278.5,389.2 286.5,389.6 294.5,390.1 302.5,390.6 310.5,391.0 318.5,391.4 326.5,391.8 334.5,392.0 342.5,392.2 350.5,392.6 358.5,393.2 366.5,393.8 374.5,394.5 382.5,395.0 390.5,395.4 398.5,395.7" fill="none" stroke="#e6646a" stroke-width="3.5" stroke-opacity="0.30" stroke-linecap="round"/>
<polyline points="227.6,380.9 235.6,380.9 243.6,381.0 251.6,381.0 259.6,381.0 267.6,381.1 275.6,381.2 283.6,381.2 291.6,381.3 299.6,381.4 307.6,381.4 315.6,381.5 323.6,381.5 331.6,381.6 339.6,381.6 347.6,381.8 355.6,382.2 363.6,382.7 371.6,383.3 379.6,384.0 387.6,384.5 395.6,385.0 403.6,385.8 411.6,387.1 419.6,388.7 427.6,390.1 435.6,391.2 443.6,392.4 451.6,394.1 459.6,395.1 467.6,395.6 475.6,396.3 483.6,397.1 491.6,397.8 499.6,398.5 507.6,399.0 515.6,399.2 523.6,399.2 531.6,399.3 539.6,399.3 547.6,399.5 555.6,399.6 563.6,399.8 571.6,400.0 579.6,400.1 587.6,400.3 595.6,400.5" fill="none" stroke="#f48c8a" stroke-width="1.8" stroke-opacity="0.38" stroke-linecap="round"/>
<polyline points="124.5,365.4 132.5,365.3 140.5,365.1 148.5,365.0 156.5,364.8 164.5,364.6 172.5,364.5 180.5,364.3 188.5,364.2 196.5,364.1 204.5,364.1 212.5,364.1 220.5,364.1 228.5,364.1 236.5,364.2 244.5,364.3 252.5,364.5 260.5,364.7 268.5,364.9 276.5,365.1 284.5,365.4 292.5,365.6 300.5,365.8 308.5,366.0 316.5,366.1 324.5,366.2 332.5,366.2 340.5,366.2 348.5,366.2 356.5,366.3 364.5,366.3 372.5,366.4 380.5,366.4 388.5,366.3 396.5,366.3 404.5,366.3 412.5,366.6 420.5,366.9 428.5,367.3 436.5,367.5 444.5,367.9 452.5,368.4 460.5,368.7 468.5,369.0 476.5,369.3 484.5,369.7 492.5,370.2 500.5,370.6 508.5,370.9 516.5,371.2 524.5,371.4" fill="none" stroke="#f48c8a" stroke-width="2.4" stroke-opacity="0.48" stroke-linecap="round"/>
<polyline points="216.9,358.0 224.9,358.0 232.9,358.0 240.9,358.1 248.9,358.2 256.9,358.4 264.9,358.5 272.9,358.7 280.9,358.9 288.9,359.0 296.9,359.2 304.9,359.3 312.9,359.4 320.9,359.5 328.9,359.5 336.9,359.5 344.9,359.4 352.9,359.4 360.9,359.3 368.9,359.2 376.9,359.0 384.9,358.9 392.9,358.7 400.9,358.6 408.9,358.5 416.9,358.4 424.9,358.4 432.9,358.4 440.9,358.4 448.9,358.5 456.9,358.6 464.9,358.7 472.9,358.9 480.9,359.0 488.9,359.2 496.9,359.5 504.9,359.7 512.9,359.9 520.9,360.0" fill="none" stroke="#d85058" stroke-width="3.7" stroke-opacity="0.45" stroke-linecap="round"/>
<polyline points="66.5,384.4 74.5,384.2 82.5,384.0 90.5,383.9 98.5,383.7 106.5,383.6 114.5,383.6 122.5,383.6 130.5,383.6 138.5,383.6 146.5,383.7 154.5,383.9 162.5,384.0 170.5,384.2 178.5,384.4 186.5,384.7 194.5,384.9 202.5,385.1 210.5,385.3 218.5,385.5 226.5,385.7 234.5,385.8 242.5,385.8 250.5,385.9 258.5,386.0 266.5,386.1 274.5,386.3 282.5,386.4 290.5,386.5 298.5,386.7 306.5,386.8 314.5,386.9 322.5,387.0 330.5,387.0 338.5,387.0 346.5,387.3 354.5,387.7 362.5,388.3 370.5,389.0 378.5,389.7 386.5,390.4 394.5,390.9 402.5,391.7 410.5,393.2 418.5,395.0 426.5,396.8 434.5,398.2 442.5,399.5 450.5,401.6 458.5,402.9 466.5,403.5 474.5,404.4 482.5,405.4 490.5,406.3 498.5,407.2" fill="none" stroke="#f48c8a" stroke-width="1.9" stroke-opacity="0.41" stroke-linecap="round"/>
<polyline points="179.9,356.3 187.9,356.4 195.9,356.5 203.9,356.7 211.9,356.8 219.9,357.0 227.9,357.1 235.9,357.3 243.9,357.4 251.9,357.5 259.9,357.6 267.9,357.6 275.9,357.6 283.9,357.6 291.9,357.5 299.9,357.4 307.9,357.3 315.9,357.1 323.9,356.9 331.9,356.7 339.9,356.5 347.9,356.4 355.9,356.2 363.9,356.0 371.9,355.9 379.9,355.8 387.9,355.8 395.9,355.7 403.9,355.8 411.9,355.8 419.9,355.9 427.9,356.0" fill="none" stroke="#f48c8a" stroke-width="3.9" stroke-opacity="0.29" stroke-linecap="round"/>
<polyline points="83.0,377.7 91.0,377.5 99.0,377.4 107.0,377.4 115.0,377.4 123.0,377.4 131.0,377.5 139.0,377.6 147.0,377.8 155.0,378.0 163.0,378.2 171.0,378.4 179.0,378.6 187.0,378.8 195.0,379.0 203.0,379.2 211.0,379.3 219.0,379.4 227.0,379.5 235.0,379.5 243.0,379.5 251.0,379.5 259.0,379.5 267.0,379.5 275.0,379.5 283.0,379.6 291.0,379.6 299.0,379.7 307.0,379.7 315.0,379.8 323.0,379.8 331.0,379.9 339.0,379.9 347.0,380.2 355.0,380.6 363.0,381.1 371.0,381.7 379.0,382.3 387.0,382.9 395.0,383.4 403.0,384.1 411.0,385.3 419.0,386.8 427.0,388.2 435.0,389.2 443.0,390.3 451.0,391.9 459.0,392.8 467.0,393.3 475.0,393.9 483.0,394.5 491.0,395.2 499.0,395.8 507.0,396.2 515.0,396.5 523.0,396.4 531.0,396.5" fill="none" stroke="#d85058" stroke-width="3.1" stroke-opacity="0.49" stroke-linecap="round"/>
<polyline points="68.3,366.2 76.3,366.1 84.3,365.9 92.3,365.8 100.3,365.6 108.3,365.4 116.3,365.3 124.3,365.1 132.3,365.0 140.3,364.9 148.3,364.9 156.3,364.8 164.3,364.8 172.3,364.9 180.3,365.0 188.3,365.1 196.3,365.2 204.3,365.4 212.3,365.6 220.3,365.7 228.3,365.9 236.3,366.1 244.3,366.2 252.3,366.3 260.3,366.4 268.3,366.6 276.3,366.6 284.3,366.7 292.3,366.7 300.3,366.7 308.3,366.6 316.3,366.6 324.3,366.5 332.3,366.4 340.3,366.2 348.3,366.2 356.3,366.2 364.3,366.2 372.3,366.3 380.3,366.4 388.3,366.6 396.3,366.7 404.3,367.0 412.3,367.5 420.3,368.1 428.3,368.7 436.3,369.2 444.3,369.8 452.3,370.5 460.3,371.0 468.3,371.3 476.3,371.7 484.3,372.1 492.3,372.5 500.3,372.9 508.3,373.1 516.3,373.2 524.3,373.2 532.3,373.2 540.3,373.2 548.3,373.1 556.3,373.1 564.3,373.0 572.3,372.9 580.3,372.9 588.3,372.8 596.3,372.7 604.3,372.6 612.3,372.6" fill="none" stroke="#f29490" stroke-width="3.8" stroke-opacity="0.39" stroke-linecap="round"/>
<polyline points="193.8,367.8 201.8,367.7 209.8,367.5 217.8,367.4 225.8,367.2 233.8,367.1 241.8,366.9 249.8,366.7 257.8,366.7 265.8,366.6 273.8,366.6 281.8,366.7 289.8,366.8 297.8,367.0 305.8,367.1 313.8,367.3 321.8,367.6 329.8,367.8 337.8,368.0 345.8,368.3 353.8,368.6 361.8,369.0 369.8,369.3 377.8,369.7 385.8,370.0 393.8,370.2 401.8,370.4 409.8,370.8 417.8,371.4 425.8,371.8 433.8,372.2 441.8,372.4 449.8,372.9 457.8,373.3 465.8,373.3 473.8,373.4 481.8,373.6 489.8,373.8 497.8,374.1 505.8,374.3" fill="none" stroke="#f29490" stroke-width="4.4" stroke-opacity="0.40" stroke-linecap="round"/>
<polyline points="240.9,371.7 248.9,371.6 256.9,371.5 264.9,371.6 272.9,371.6 280.9,371.8 288.9,371.9 296.9,372.2 304.9,372.4 312.9,372.7 320.9,373.0 328.9,373.2 336.9,373.5 344.9,373.8 352.9,374.2 360.9,374.7 368.9,375.1 376.9,375.6 384.9,376.0 392.9,376.2 400.9,376.5 408.9,377.1 416.9,377.9 424.9,378.7 432.9,379.2 440.9,379.6 448.9,380.5 456.9,381.1" fill="none" stroke="#f29490" stroke-width="4.3" stroke-opacity="0.51" stroke-linecap="round"/>
<polyline points="137.1,387.3 145.1,387.3 153.1,387.3 161.1,387.2 169.1,387.2 177.1,387.1 185.1,387.0 193.1,386.9 201.1,386.7 209.1,386.6 217.1,386.5 225.1,386.5 233.1,386.4 241.1,386.4 249.1,386.4 257.1,386.5 265.1,386.8 273.1,387.1 281.1,387.5 289.1,387.9 297.1,388.4 305.1,388.9 313.1,389.4 321.1,389.8 329.1,390.2 337.1,390.5 345.1,390.9 353.1,391.5 361.1,392.2 369.1,392.9 377.1,393.6 385.1,394.2 393.1,394.6 401.1,395.1 409.1,396.3 417.1,397.8 425.1,399.4 433.1,400.7 441.1,401.6 449.1,403.5 457.1,404.9 465.1,405.4 473.1,406.2" fill="none" stroke="#f48c8a" stroke-width="4.0" stroke-opacity="0.37" stroke-linecap="round"/>
<polyline points="232.4,369.8 240.4,369.8 248.4,369.8 256.4,369.9 264.4,370.0 272.4,370.3 280.4,370.5 288.4,370.8 296.4,371.1 304.4,371.4 312.4,371.7 320.4,372.0 328.4,372.2 336.4,372.4 344.4,372.6 352.4,372.8 360.4,373.1 368.4,373.4 376.4,373.6 384.4,373.8 392.4,373.9 400.4,374.0 408.4,374.4 416.4,375.0 424.4,375.6 432.4,376.1" fill="none" stroke="#e6646a" stroke-width="2.1" stroke-opacity="0.49" stroke-linecap="round"/>
<polyline points="104.5,376.8 112.5,377.0 120.5,377.1 128.5,377.3 136.5,377.5 144.5,377.7 152.5,377.9 160.5,378.1 168.5,378.3 176.5,378.4 184.5,378.6 192.5,378.6 200.5,378.7 208.5,378.7 216.5,378.7 224.5,378.6 232.5,378.5 240.5,378.4 248.5,378.2 256.5,378.1 264.5,378.1 272.5,378.1 280.5,378.1 288.5,378.2 296.5,378.3 304.5,378.5 312.5,378.6 320.5,378.8 328.5,379.0 336.5,379.2 344.5,379.5 352.5,380.0 360.5,380.6 368.5,381.3 376.5,382.0 384.5,382.6 392.5,383.1 400.5,383.6 408.5,384.6 416.5,385.9 424.5,387.2 432.5,388.2 440.5,388.9 448.5,390.2 456.5,391.3 464.5,391.6 472.5,392.0 480.5,392.5 488.5,393.1 496.5,393.6 504.5,394.1 512.5,394.4 520.5,394.5 528.5,394.5 536.5,394.7 544.5,394.9 552.5,395.2 560.5,395.5 568.5,395.8 576.5,396.2 584.5,396.5 592.5,396.9 600.5,397.2 608.5,397.3 616.5,397.5 624.5,397.7" fill="none" stroke="#f48c8a" stroke-width="1.9" stroke-opacity="0.54" stroke-linecap="round"/>
<polyline points="144.5,372.0 152.5,372.2 160.5,372.4 168.5,372.6 176.5,372.8 184.5,372.9 192.5,373.0 200.5,373.1 208.5,373.2 216.5,373.2 224.5,373.2 232.5,373.1 240.5,373.0 248.5,372.9 256.5,372.8 264.5,372.7 272.5,372.7 280.5,372.6 288.5,372.6 296.5,372.6 304.5,372.7 312.5,372.7 320.5,372.8 328.5,372.9 336.5,373.0 344.5,373.2 352.5,373.5 360.5,374.0 368.5,374.5 376.5,375.0 384.5,375.5 392.5,375.9 400.5,376.4 408.5,377.2 416.5,378.2 424.5,379.2 432.5,380.0 440.5,380.6 448.5,381.6 456.5,382.4 464.5,382.7 472.5,383.0 480.5,383.3 488.5,383.7 496.5,384.1 504.5,384.4 512.5,384.5 520.5,384.5" fill="none" stroke="#f48c8a" stroke-width="4.5" stroke-opacity="0.30" stroke-linecap="round"/>
<polyline points="167.6,362.3 175.6,362.3 183.6,362.3 191.6,362.4 199.6,362.5 207.6,362.7 215.6,362.8 223.6,363.0 231.6,363.1 239.6,363.3 247.6,363.5 255.6,363.6 263.6,363.7 271.6,363.9 279.6,364.0 287.6,364.0 295.6,364.0 303.6,364.0 311.6,364.0 319.6,363.9 327.6,363.8 335.6,363.6 343.6,363.5 351.6,363.4 359.6,363.4 367.6,363.4 375.6,363.4 383.6,363.4 391.6,363.4 399.6,363.5 407.6,363.7 415.6,364.1 423.6,364.5 431.6,364.9 439.6,365.3 447.6,365.8 455.6,366.3 463.6,366.6 471.6,366.9 479.6,367.3 487.6,367.6 495.6,367.9 503.6,368.2" fill="none" stroke="#e6646a" stroke-width="2.5" stroke-opacity="0.26" stroke-linecap="round"/>
<polyline points="84.3,366.8 92.3,366.7 100.3,366.6 108.3,366.5 116.3,366.5 124.3,366.5 132.3,366.5 140.3,366.6 148.3,366.7 156.3,366.9 164.3,367.0 172.3,367.2 180.3,367.4 188.3,367.6 196.3,367.8 204.3,367.9 212.3,368.0 220.3,368.1 228.3,368.2 236.3,368.2 244.3,368.2 252.3,368.2 260.3,368.1 268.3,368.1 276.3,368.0 284.3,368.0 292.3,367.9 300.3,367.8 308.3,367.7 316.3,367.7 324.3,367.6 332.3,367.6 340.3,367.5 348.3,367.6 356.3,367.8 364.3,368.1 372.3,368.4 380.3,368.7 388.3,369.0 396.3,369.3 404.3,369.8 412.3,370.5 420.3,371.3 428.3,372.0 436.3,372.6 444.3,373.2 452.3,374.0 460.3,374.4 468.3,374.7 476.3,375.0 484.3,375.3 492.3,375.5 500.3,375.8 508.3,375.9 516.3,375.9 524.3,375.8 532.3,375.7 540.3,375.6 548.3,375.6 556.3,375.6 564.3,375.6 572.3,375.7 580.3,375.7 588.3,375.8 596.3,375.9 604.3,376.0 612.3,376.1" fill="none" stroke="#f29490" stroke-width="3.4" stroke-opacity="0.54" stroke-linecap="round"/>
<polyline points="210.1,385.0 218.1,385.2 226.1,385.4 234.1,385.6 242.1,385.7 250.1,385.8 258.1,386.0 266.1,386.1 274.1,386.3 282.1,386.5 290.1,386.7 298.1,386.8 306.1,387.0 314.1,387.1 322.1,387.1 330.1,387.2 338.1,387.2 346.1,387.3 354.1,387.7 362.1,388.3 370.1,388.9 378.1,389.5 386.1,390.1 394.1,390.7 402.1,391.4 410.1,392.8 418.1,394.6 426.1,396.4 434.1,397.8 442.1,399.1 450.1,401.1 458.1,402.6" fill="none" stroke="#e6646a" stroke-width="1.8" stroke-opacity="0.26" stroke-linecap="round"/>
<polyline points="164.3,371.0 172.3,371.0 180.3,371.1 188.3,371.0 196.3,371.0 204.3,370.9 212.3,370.8 220.3,370.6 228.3,370.5 236.3,370.3 244.3,370.1 252.3,370.0 260.3,369.9 268.3,369.9 276.3,369.9 284.3,370.0 292.3,370.1 300.3,370.2 308.3,370.4 316.3,370.6 324.3,370.8 332.3,371.1 340.3,371.3 348.3,371.6 356.3,372.1 364.3,372.5 372.3,373.0 380.3,373.4 388.3,373.8 396.3,374.1 404.3,374.5 412.3,375.2 420.3,375.9 428.3,376.6 436.3,377.0 444.3,377.5 452.3,378.3 460.3,378.5 468.3,378.7 476.3,378.9 484.3,379.2 492.3,379.5 500.3,379.8 508.3,380.1 516.3,380.2" fill="none" stroke="#e6646a" stroke-width="4.2" stroke-opacity="0.37" stroke-linecap="round"/>
<polyline points="76.7,367.0 84.7,367.1 92.7,367.3 100.7,367.5 108.7,367.6 116.7,367.8 124.7,367.9 132.7,367.9 140.7,368.0 148.7,368.0 156.7,368.0 164.7,367.9 172.7,367.8 180.7,367.7 188.7,367.5 196.7,367.4 204.7,367.2 212.7,367.0 220.7,366.9 228.7,366.7 236.7,366.6 244.7,366.6 252.7,366.5 260.7,366.5 268.7,366.6 276.7,366.8 284.7,367.0 292.7,367.2 300.7,367.4 308.7,367.7 316.7,367.9 324.7,368.2 332.7,368.4 340.7,368.6 348.7,368.9 356.7,369.2 364.7,369.4 372.7,369.7 380.7,369.9 388.7,370.1 396.7,370.2 404.7,370.4 412.7,370.8 420.7,371.2 428.7,371.6 436.7,371.8 444.7,372.2 452.7,372.7 460.7,372.9 468.7,373.0 476.7,373.2 484.7,373.5 492.7,373.8 500.7,374.2 508.7,374.5 516.7,374.8 524.7,374.9 532.7,375.2 540.7,375.4 548.7,375.7 556.7,376.0 564.7,376.3 572.7,376.6 580.7,376.8 588.7,377.0 596.7,377.2 604.7,377.2 612.7,377.2 620.7,377.2" fill="none" stroke="#f48c8a" stroke-width="2.3" stroke-opacity="0.38" stroke-linecap="round"/>
<polyline points="225.9,383.3 233.9,383.2 241.9,383.1 249.9,383.0 257.9,383.0 265.9,383.0 273.9,383.0 281.9,383.1 289.9,383.2 297.9,383.3 305.9,383.5 313.9,383.6 321.9,383.8 329.9,384.0 337.9,384.2 345.9,384.5 353.9,385.0 361.9,385.7 369.9,386.5 377.9,387.2 385.9,388.0 393.9,388.6 401.9,389.3 409.9,390.6 417.9,392.2 425.9,393.8 433.9,395.0 441.9,396.0 449.9,397.8 457.9,398.9 465.9,399.4 473.9,400.0 481.9,400.7 489.9,401.4 497.9,402.1 505.9,402.7" fill="none" stroke="#f48c8a" stroke-width="1.8" stroke-opacity="0.27" stroke-linecap="round"/>
<polyline points="71.2,374.9 79.2,374.9 87.2,374.9 95.2,374.8 103.2,374.7 111.2,374.6 119.2,374.4 127.2,374.3 135.2,374.1 143.2,374.0 151.2,373.9 159.2,373.8 167.2,373.7 175.2,373.6 183.2,373.6 191.2,373.6 199.2,373.7 207.2,373.8 215.2,373.9 223.2,374.1 231.2,374.2 239.2,374.4 247.2,374.6 255.2,374.8 263.2,375.1 271.2,375.4 279.2,375.6 287.2,375.9 295.2,376.1 303.2,376.3 311.2,376.5 319.2,376.6 327.2,376.7 335.2,376.6 343.2,376.6 351.2,376.7 359.2,376.9 367.2,377.2 375.2,377.4 383.2,377.7 391.2,377.8 399.2,378.0 407.2,378.6 415.2,379.5 423.2,380.6 431.2,381.5 439.2,382.1 447.2,383.3 455.2,384.5 463.2,385.0 471.2,385.7 479.2,386.4 487.2,387.2 495.2,387.9 503.2,388.6 511.2,389.2 519.2,389.4 527.2,389.6 535.2,389.8 543.2,390.0 551.2,390.2 559.2,390.3 567.2,390.4" fill="none" stroke="#e6646a" stroke-width="4.3" stroke-opacity="0.44" stroke-linecap="round"/>
<polyline points="121.9,387.9 129.9,387.9 137.9,387.9 145.9,387.8 153.9,387.8 161.9,387.7 169.9,387.6 177.9,387.4 185.9,387.3 193.9,387.2 201.9,387.2 209.9,387.1 217.9,387.1 225.9,387.1 233.9,387.1 241.9,387.2 249.9,387.3 257.9,387.6 265.9,387.9 273.9,388.3 281.9,388.8 289.9,389.3 297.9,389.8 305.9,390.3 313.9,390.7 321.9,391.1 329.9,391.4 337.9,391.6 345.9,392.0 353.9,392.5 361.9,393.2 369.9,393.8 377.9,394.4 385.9,395.0 393.9,395.3 401.9,395.8 409.9,397.1 417.9,398.7 425.9,400.3 433.9,401.6 441.9,402.7 449.9,404.7 457.9,406.1 465.9,406.8" fill="none" stroke="#f48c8a" stroke-width="2.3" stroke-opacity="0.31" stroke-linecap="round"/>
<polyline points="214.7,365.9 222.7,366.1 230.7,366.2 238.7,366.4 246.7,366.6 254.7,366.7 262.7,366.8 270.7,367.0 278.7,367.1 286.7,367.2 294.7,367.2 302.7,367.2 310.7,367.2 318.7,367.1 326.7,367.0 334.7,366.9 342.7,366.8 350.7,366.7 358.7,366.8 366.7,366.8 374.7,366.9 382.7,367.0 390.7,367.1 398.7,367.2 406.7,367.6 414.7,368.2 422.7,368.8 430.7,369.4 438.7,369.8 446.7,370.5 454.7,371.3 462.7,371.6 470.7,372.0 478.7,372.5 486.7,372.9 494.7,373.3 502.7,373.7 510.7,373.9 518.7,374.0 526.7,374.0 534.7,374.0 542.7,374.0 550.7,374.0 558.7,374.0 566.7,373.9 574.7,373.8 582.7,373.8 590.7,373.7 598.7,373.6 606.7,373.5 614.7,373.4 622.7,373.3 630.7,373.3" fill="none" stroke="#f48c8a" stroke-width="3.0" stroke-opacity="0.33" stroke-linecap="round"/>
<polyline points="109.4,358.1 117.4,358.2 125.4,358.3 133.4,358.3 141.4,358.3 149.4,358.3 157.4,358.2 165.4,358.1 173.4,357.9 181.4,357.8 189.4,357.6 197.4,357.4 205.4,357.2 213.4,357.0 221.4,356.9 229.4,356.7 237.4,356.6 245.4,356.6 253.4,356.5 261.4,356.5 269.4,356.6 277.4,356.6 285.4,356.7 293.4,356.9 301.4,357.0 309.4,357.2 317.4,357.3 325.4,357.5 333.4,357.6 341.4,357.7 349.4,357.8 357.4,357.9 365.4,357.9 373.4,357.9 381.4,357.9 389.4,357.8 397.4,357.7 405.4,357.6 413.4,357.4 421.4,357.3 429.4,357.1 437.4,357.0 445.4,356.8 453.4,356.7 461.4,356.6 469.4,356.5 477.4,356.4 485.4,356.4 493.4,356.4 501.4,356.5" fill="none" stroke="#f48c8a" stroke-width="3.0" stroke-opacity="0.40" stroke-linecap="round"/>
<polyline points="137.2,378.1 145.2,378.1 153.2,378.0 161.2,377.9 169.2,377.8 177.2,377.7 185.2,377.6 193.2,377.4 201.2,377.3 209.2,377.2 217.2,377.1 225.2,377.0 233.2,376.9 241.2,376.9 249.2,376.9 257.2,377.0 265.2,377.2 273.2,377.5 281.2,377.8 289.2,378.2 297.2,378.5 305.2,378.9 313.2,379.3 321.2,379.6 329.2,379.9 337.2,380.2 345.2,380.5 353.2,380.9 361.2,381.3 369.2,381.8 377.2,382.3 385.2,382.6 393.2,382.9 401.2,383.1 409.2,383.9 417.2,384.9 425.2,386.0 433.2,386.8 441.2,387.4 449.2,388.6 457.2,389.6 465.2,389.9 473.2,390.4 481.2,391.1 489.2,391.8 497.2,392.6 505.2,393.3 513.2,393.8 521.2,394.2" fill="none" stroke="#f29490" stroke-width="3.5" stroke-opacity="0.50" stroke-linecap="round"/>
<polyline points="128.6,386.9 136.6,386.9 144.6,386.9 152.6,387.0 160.6,387.1 168.6,387.3 176.6,387.5 184.6,387.7 192.6,387.9 200.6,388.1 208.6,388.4 216.6,388.6 224.6,388.8 232.6,388.9 240.6,389.1 248.6,389.2 256.6,389.4 264.6,389.6 272.6,389.8 280.6,390.0 288.6,390.2 296.6,390.4 304.6,390.6 312.6,390.7 320.6,390.8 328.6,390.9 336.6,390.9 344.6,391.1 352.6,391.5 360.6,392.1 368.6,392.8 376.6,393.5 384.6,394.2 392.6,394.8 400.6,395.5 408.6,396.9" fill="none" stroke="#f48c8a" stroke-width="2.5" stroke-opacity="0.37" stroke-linecap="round"/>
<polyline points="73.5,358.4 81.5,358.4 89.5,358.4 97.5,358.4 105.5,358.5 113.5,358.6 121.5,358.7 129.5,358.9 137.5,359.0 145.5,359.2 153.5,359.3 161.5,359.5 169.5,359.6 177.5,359.8 185.5,359.8 193.5,359.9 201.5,359.9 209.5,359.9 217.5,359.8 225.5,359.7 233.5,359.6 241.5,359.4 249.5,359.2 257.5,359.1 265.5,358.9 273.5,358.7 281.5,358.6 289.5,358.5 297.5,358.3 305.5,358.3 313.5,358.2 321.5,358.2 329.5,358.3 337.5,358.3 345.5,358.4 353.5,358.6 361.5,358.8 369.5,359.0 377.5,359.2 385.5,359.4 393.5,359.6 401.5,359.7 409.5,359.9 417.5,360.2 425.5,360.3 433.5,360.4 441.5,360.5 449.5,360.6 457.5,360.6 465.5,360.5 473.5,360.4 481.5,360.3 489.5,360.2 497.5,360.1 505.5,360.0 513.5,359.9 521.5,359.7 529.5,359.6 537.5,359.6 545.5,359.5 553.5,359.5" fill="none" stroke="#e6646a" stroke-width="3.7" stroke-opacity="0.38" stroke-linecap="round"/>
<polyline points="118.3,372.0 126.3,372.0 134.3,372.0 142.3,372.0 150.3,372.1 158.3,372.2 166.3,372.3 174.3,372.4 182.3,372.6 190.3,372.8 198.3,373.0 206.3,373.2 214.3,373.4 222.3,373.5 230.3,373.7 238.3,373.8 246.3,373.8 254.3,373.9 262.3,374.0 270.3,374.0 278.3,374.1 286.3,374.1 294.3,374.1 302.3,374.1 310.3,374.1 318.3,374.1 326.3,374.0 334.3,374.0 342.3,373.9 350.3,374.1 358.3,374.3 366.3,374.6 374.3,375.0 382.3,375.4 390.3,375.8 398.3,376.1 406.3,376.8 414.3,377.9 422.3,379.0 430.3,380.0 438.3,380.7 446.3,381.8 454.3,383.0 462.3,383.5 470.3,384.0 478.3,384.5 486.3,385.1 494.3,385.6 502.3,386.1" fill="none" stroke="#f29490" stroke-width="4.4" stroke-opacity="0.32" stroke-linecap="round"/>
<polyline points="166.3,370.2 174.3,370.2 182.3,370.2 190.3,370.2 198.3,370.3 206.3,370.4 214.3,370.6 222.3,370.7 230.3,370.9 238.3,371.1 246.3,371.2 254.3,371.4 262.3,371.7 270.3,371.9 278.3,372.1 286.3,372.3 294.3,372.5 302.3,372.7 310.3,372.7 318.3,372.8 326.3,372.8 334.3,372.8 342.3,372.7 350.3,372.7 358.3,372.8 366.3,373.0 374.3,373.2 382.3,373.3 390.3,373.5 398.3,373.6 406.3,374.0 414.3,374.8 422.3,375.6 430.3,376.4 438.3,377.0 446.3,377.9 454.3,379.0" fill="none" stroke="#e6646a" stroke-width="2.3" stroke-opacity="0.54" stroke-linecap="round"/>
<polyline points="78.8,366.6 86.8,366.7 94.8,366.9 102.8,367.1 110.8,367.2 118.8,367.3 126.8,367.4 134.8,367.4 142.8,367.4 150.8,367.4 158.8,367.3 166.8,367.2 174.8,367.1 182.8,367.0 190.8,366.8 198.8,366.7 206.8,366.5 214.8,366.3 222.8,366.2 230.8,366.1 238.8,366.0 246.8,365.9 254.8,365.9 262.8,366.0 270.8,366.1 278.8,366.3 286.8,366.5 294.8,366.7 302.8,367.0 310.8,367.2 318.8,367.5 326.8,367.7 334.8,367.9 342.8,368.1 350.8,368.4 358.8,368.6 366.8,368.9 374.8,369.1 382.8,369.3 390.8,369.4 398.8,369.4 406.8,369.6 414.8,370.0 422.8,370.4 430.8,370.8 438.8,370.9 446.8,371.3 454.8,371.8 462.8,371.9" fill="none" stroke="#de5a60" stroke-width="2.6" stroke-opacity="0.35" stroke-linecap="round"/>
<polyline points="79.9,365.2 87.9,365.1 95.9,364.9 103.9,364.8 111.9,364.6 119.9,364.4 127.9,364.3 135.9,364.1 143.9,364.0 151.9,364.0 159.9,363.9 167.9,363.9 175.9,364.0 183.9,364.0 191.9,364.2 199.9,364.3 207.9,364.4 215.9,364.6 223.9,364.8 231.9,364.9 239.9,365.1 247.9,365.2 255.9,365.4 263.9,365.5 271.9,365.6 279.9,365.7 287.9,365.8 295.9,365.8 303.9,365.8 311.9,365.7 319.9,365.6 327.9,365.5 335.9,365.4 343.9,365.3 351.9,365.2 359.9,365.2 367.9,365.2 375.9,365.3 383.9,365.4 391.9,365.5 399.9,365.6 407.9,365.9 415.9,366.4 423.9,367.0 431.9,367.5 439.9,367.9 447.9,368.6 455.9,369.2 463.9,369.5 471.9,369.9 479.9,370.3 487.9,370.7" fill="none" stroke="#de5a60" stroke-width="3.8" stroke-opacity="0.33" stroke-linecap="round"/>
<polyline points="243.8,358.2 251.8,358.3 259.8,358.2 267.8,358.2 275.8,358.1 283.8,358.0 291.8,357.8 299.8,357.7 307.8,357.5 315.8,357.3 323.8,357.1 331.8,356.9 339.8,356.8 347.8,356.7 355.8,356.6 363.8,356.5 371.8,356.5 379.8,356.5 387.8,356.6 395.8,356.7 403.8,356.8 411.8,356.9 419.8,357.1 427.8,357.3 435.8,357.5 443.8,357.7 451.8,357.9 459.8,358.0 467.8,358.1 475.8,358.2 483.8,358.2 491.8,358.2 499.8,358.2 507.8,358.1 515.8,358.0 523.8,357.9 531.8,357.7 539.8,357.5 547.8,357.4 555.8,357.2 563.8,357.0 571.8,356.9 579.8,356.8 587.8,356.7 595.8,356.6 603.8,356.6" fill="none" stroke="#f48c8a" stroke-width="2.4" stroke-opacity="0.28" stroke-linecap="round"/>
<polyline points="124.6,384.1 132.6,384.1 140.6,384.1 148.6,384.2 156.6,384.3 164.6,384.4 172.6,384.6 180.6,384.8 188.6,385.0 196.6,385.3 204.6,385.5 212.6,385.7 220.6,385.9 228.6,386.1 236.6,386.2 244.6,386.3 252.6,386.4 260.6,386.5 268.6,386.7 276.6,386.9 284.6,387.1 292.6,387.2 300.6,387.4 308.6,387.5 316.6,387.6 324.6,387.6 332.6,387.7 340.6,387.7 348.6,388.0 356.6,388.4 364.6,389.0 372.6,389.7 380.6,390.4 388.6,391.0 396.6,391.5 404.6,392.5 412.6,394.1 420.6,396.0 428.6,397.7 436.6,399.0 444.6,400.6 452.6,402.7 460.6,403.7 468.6,404.5 476.6,405.4 484.6,406.4 492.6,407.4 500.6,408.3 508.6,409.0 516.6,409.3 524.6,409.4 532.6,409.5 540.6,409.6 548.6,409.8 556.6,410.0 564.6,410.2 572.6,410.4 580.6,410.6 588.6,410.8 596.6,410.9 604.6,411.0 612.6,411.0 620.6,411.1 628.6,411.2" fill="none" stroke="#f29490" stroke-width="3.9" stroke-opacity="0.37" stroke-linecap="round"/>
<polyline points="198.0,380.7 206.0,380.7 214.0,380.6 222.0,380.6 230.0,380.4 238.0,380.3 246.0,380.2 254.0,380.0 262.0,380.0 270.0,380.0 278.0,380.1 286.0,380.2 294.0,380.4 302.0,380.6 310.0,380.8 318.0,381.0 326.0,381.3 334.0,381.5 342.0,381.8 350.0,382.3 358.0,382.9 366.0,383.6 374.0,384.4 382.0,385.0 390.0,385.6 398.0,386.1 406.0,387.0 414.0,388.3 422.0,389.7 430.0,390.9 438.0,391.7 446.0,392.9 454.0,394.3 462.0,394.7 470.0,395.1 478.0,395.7 486.0,396.3 494.0,396.9 502.0,397.5 510.0,398.0 518.0,398.1" fill="none" stroke="#de5a60" stroke-width="3.4" stroke-opacity="0.50" stroke-linecap="round"/>
<polyline points="170.3,378.2 178.3,378.3 186.3,378.4 194.3,378.5 202.3,378.7 210.3,378.9 218.3,379.0 226.3,379.2 234.3,379.4 242.3,379.6 250.3,379.8 258.3,380.0 266.3,380.3 274.3,380.6 282.3,380.8 290.3,381.0 298.3,381.2 306.3,381.4 314.3,381.5 322.3,381.6 330.3,381.6 338.3,381.5 346.3,381.6 354.3,381.8 362.3,382.1 370.3,382.5 378.3,382.9 386.3,383.3 394.3,383.6 402.3,384.1 410.3,385.2 418.3,386.5 426.3,387.9 434.3,389.0 442.3,390.0 450.3,391.7 458.3,392.9 466.3,393.5 474.3,394.3 482.3,395.2 490.3,396.1 498.3,397.0 506.3,397.7 514.3,398.2 522.3,398.3 530.3,398.5 538.3,398.6 546.3,398.8 554.3,399.0 562.3,399.1 570.3,399.2 578.3,399.3 586.3,399.3 594.3,399.4" fill="none" stroke="#f29490" stroke-width="3.0" stroke-opacity="0.48" stroke-linecap="round"/>
<polyline points="70.9,379.1 78.9,379.0 86.9,379.0 94.9,378.9 102.9,378.8 110.9,378.6 118.9,378.5 126.9,378.4 134.9,378.2 142.9,378.1 150.9,378.0 158.9,377.9 166.9,377.8 174.9,377.8 182.9,377.8 190.9,377.9 198.9,378.0 206.9,378.1 214.9,378.3 222.9,378.4 230.9,378.6 238.9,378.8 246.9,379.0 254.9,379.2 262.9,379.5 270.9,379.8 278.9,380.1 286.9,380.4 294.9,380.7 302.9,380.9 310.9,381.1 318.9,381.2 326.9,381.3 334.9,381.3 342.9,381.3 350.9,381.5 358.9,381.7 366.9,382.1 374.9,382.4 382.9,382.8 390.9,383.1 398.9,383.3 406.9,384.1 414.9,385.3 422.9,386.6 430.9,387.7 438.9,388.6 446.9,390.0 454.9,391.5 462.9,392.2 470.9,392.9 478.9,393.8 486.9,394.7 494.9,395.6 502.9,396.4 510.9,397.0 518.9,397.3 526.9,397.6 534.9,397.8 542.9,398.0 550.9,398.2" fill="none" stroke="#f48c8a" stroke-width="3.9" stroke-opacity="0.28" stroke-linecap="round"/>
<polyline points="181.2,369.6 189.2,369.6 197.2,369.5 205.2,369.4 213.2,369.3 221.2,369.2 229.2,369.0 237.2,368.8 245.2,368.7 253.2,368.5 261.2,368.4 269.2,368.4 277.2,368.4 285.2,368.5 293.2,368.6 301.2,368.7 309.2,368.9 317.2,369.0 325.2,369.3 333.2,369.5 341.2,369.7 349.2,370.0 357.2,370.4 365.2,370.8 373.2,371.3 381.2,371.7 389.2,372.0 397.2,372.2 405.2,372.7 413.2,373.3 421.2,374.0 429.2,374.5 437.2,374.8 445.2,375.4 453.2,376.0 461.2,376.2 469.2,376.3 477.2,376.5 485.2,376.7 493.2,377.0 501.2,377.2 509.2,377.4 517.2,377.5 525.2,377.6 533.2,377.7 541.2,377.9 549.2,378.1 557.2,378.4" fill="none" stroke="#de5a60" stroke-width="2.9" stroke-opacity="0.44" stroke-linecap="round"/>
<polyline points="80.4,357.5 88.4,357.7 96.4,357.8 104.4,357.8 112.4,357.9 120.4,357.9 128.4,357.8 136.4,357.7 144.4,357.6 152.4,357.5 160.4,357.3 168.4,357.2 176.4,357.0 184.4,356.8 192.4,356.6 200.4,356.4 208.4,356.3 216.4,356.2 224.4,356.1 232.4,356.1 240.4,356.1 248.4,356.1 256.4,356.2 264.4,356.3 272.4,356.4 280.4,356.5 288.4,356.7 296.4,356.8 304.4,357.0 312.4,357.1 320.4,357.2 328.4,357.3 336.4,357.4 344.4,357.4 352.4,357.4 360.4,357.4 368.4,357.3 376.4,357.2 384.4,357.0 392.4,356.8 400.4,356.7 408.4,356.5 416.4,356.3 424.4,356.1 432.4,356.0 440.4,355.8 448.4,355.7 456.4,355.6 464.4,355.6 472.4,355.6 480.4,355.6 488.4,355.7 496.4,355.8 504.4,355.9 512.4,356.1 520.4,356.2" fill="none" stroke="#f29490" stroke-width="3.9" stroke-opacity="0.52" stroke-linecap="round"/>
  <!-- bottom pink band & fat layer -->
  <path d="M95,619.5 C150,616 180,612 195,612 C230,610.5 250,610.5 258,611.5 C300,618 340,628 367,635 C400,642 430,646 453,648 C500,652 550,655 600,657 L600,690 L95,690 Z" fill="#f4aaa0"/>
  <path d="M95,628 C150,624 180,621 195,621 C230,620 250,620 258,621 C300,628 340,638 367,645 C400,652 430,656 453,658 C500,662 550,665 600,667" fill="none" stroke="#f7c0b6" stroke-width="2" opacity="0.7"/>
  <path d="M95,592 C200,590 260,588 300,589 C330,590 345,592 352,594 C390,601 430,612 474,623 C500,628 530,630 600,631 L600,657 C550,655 500,652 453,648 C430,646 400,642 367,635 C340,628 300,618 258,611.5 C250,610.5 230,610.5 195,612 C180,612 150,616 95,619.5 Z" fill="#f7c260"/>
  <path d="M95,602 C200,599 260,598 300,599 C330,601 345,604 352,606 C390,612 430,621 474,629 C500,634 530,637 600,638.5" fill="none" stroke="#f0a032" stroke-width="2.2" stroke-opacity="0.7"/><path d="M270,596.5 C300,597 330,599 352,604 C390,610 430,619 474,627.5 C500,632 530,635 600,637" fill="none" stroke="#fff6e6" stroke-width="1.6" stroke-opacity="0.9"/><ellipse cx="129.0" cy="608.5" rx="17.0" ry="7.4" fill="#f0ac3e" opacity="0.55" transform="rotate(7.6 128.2 607.1)"/>
<ellipse cx="171.8" cy="607.7" rx="12.1" ry="5.8" fill="#f0ac3e" opacity="0.55" transform="rotate(3.7 171.0 606.3)"/>
<ellipse cx="599.6" cy="646.7" rx="20.0" ry="6.9" fill="#f0ac3e" opacity="0.55" transform="rotate(-7.5 598.8 645.3)"/>
<ellipse cx="433.0" cy="632.3" rx="15.0" ry="7.1" fill="#f0ac3e" opacity="0.55" transform="rotate(-6.3 432.2 630.9)"/>
<ellipse cx="139.9" cy="612.2" rx="12.3" ry="7.1" fill="#f0ac3e" opacity="0.55" transform="rotate(-1.9 139.1 610.8)"/>
<ellipse cx="485.2" cy="638.5" rx="14.4" ry="8.8" fill="#f0ac3e" opacity="0.55" transform="rotate(-4.9 484.4 637.1)"/>
<ellipse cx="371.6" cy="627.7" rx="15.6" ry="6.9" fill="#f0ac3e" opacity="0.55" transform="rotate(-7.5 370.8 626.3)"/>
<ellipse cx="306.2" cy="607.6" rx="18.9" ry="8.7" fill="#f0ac3e" opacity="0.55" transform="rotate(-0.6 305.4 606.2)"/>
<ellipse cx="502.5" cy="639.8" rx="12.2" ry="6.4" fill="#f0ac3e" opacity="0.55" transform="rotate(-2.2 501.7 638.4)"/>
<ellipse cx="268.3" cy="608.6" rx="20.2" ry="5.8" fill="#f0ac3e" opacity="0.55" transform="rotate(6.8 267.5 607.2)"/>
<ellipse cx="249.5" cy="607.8" rx="18.1" ry="6.1" fill="#f0ac3e" opacity="0.55" transform="rotate(-7.6 248.7 606.4)"/>
<ellipse cx="217.7" cy="608.9" rx="15.9" ry="5.9" fill="#f0ac3e" opacity="0.55" transform="rotate(4.6 216.9 607.5)"/>
<ellipse cx="557.6" cy="647.8" rx="18.9" ry="6.1" fill="#f0ac3e" opacity="0.55" transform="rotate(4.8 556.8 646.4)"/>
<ellipse cx="470.0" cy="641.1" rx="19.0" ry="8.7" fill="#f0ac3e" opacity="0.55" transform="rotate(5.8 469.2 639.7)"/>
<ellipse cx="331.2" cy="617.4" rx="18.7" ry="8.0" fill="#f0ac3e" opacity="0.55" transform="rotate(4.0 330.4 616.0)"/>
<ellipse cx="224.5" cy="607.1" rx="12.2" ry="5.7" fill="#f0ac3e" opacity="0.55" transform="rotate(-5.4 223.7 605.7)"/>
<ellipse cx="314.1" cy="615.4" rx="12.5" ry="5.9" fill="#f0ac3e" opacity="0.55" transform="rotate(-6.5 313.3 614.0)"/>
<ellipse cx="350.0" cy="616.5" rx="18.0" ry="7.4" fill="#f0ac3e" opacity="0.55" transform="rotate(-0.6 349.2 615.1)"/>
<ellipse cx="546.4" cy="648.8" rx="13.7" ry="7.7" fill="#f0ac3e" opacity="0.55" transform="rotate(4.5 545.6 647.4)"/>
<ellipse cx="247.8" cy="605.4" rx="14.1" ry="6.0" fill="#f0ac3e" opacity="0.55" transform="rotate(-4.8 247.0 604.0)"/>
<ellipse cx="224.5" cy="608.5" rx="13.8" ry="5.9" fill="#f0ac3e" opacity="0.55" transform="rotate(-2.8 223.7 607.1)"/>
<ellipse cx="298.8" cy="608.3" rx="20.5" ry="7.6" fill="#f0ac3e" opacity="0.55" transform="rotate(2.5 298.0 606.9)"/>
<ellipse cx="596.3" cy="651.8" rx="12.5" ry="7.5" fill="#f0ac3e" opacity="0.55" transform="rotate(6.6 595.5 650.4)"/>
<ellipse cx="121.0" cy="609.0" rx="14.2" ry="6.1" fill="#f0ac3e" opacity="0.55" transform="rotate(6.9 120.2 607.6)"/>
<ellipse cx="286.9" cy="607.5" rx="19.4" ry="7.4" fill="#f0ac3e" opacity="0.55" transform="rotate(-6.3 286.1 606.1)"/>
<ellipse cx="398.9" cy="627.0" rx="17.2" ry="6.5" fill="#f0ac3e" opacity="0.55" transform="rotate(-7.3 398.1 625.6)"/>
<ellipse cx="600.7" cy="652.1" rx="11.9" ry="8.5" fill="#f0ac3e" opacity="0.55" transform="rotate(5.1 599.9 650.7)"/>
<ellipse cx="305.3" cy="607.6" rx="14.9" ry="8.1" fill="#f0ac3e" opacity="0.55" transform="rotate(4.7 304.5 606.2)"/>
<ellipse cx="374.8" cy="622.6" rx="12.2" ry="6.0" fill="#f0ac3e" opacity="0.55" transform="rotate(2.2 374.0 621.2)"/>
<ellipse cx="146.4" cy="609.3" rx="13.1" ry="6.9" fill="#f0ac3e" opacity="0.55" transform="rotate(2.7 145.6 607.9)"/>
<ellipse cx="128.2" cy="607.1" rx="16.4" ry="6.8" fill="#fde2a0" transform="rotate(7.6 128.2 607.1)"/>
<ellipse cx="171.0" cy="606.3" rx="11.5" ry="5.2" fill="#fcdc92" transform="rotate(3.7 171.0 606.3)"/>
<ellipse cx="598.8" cy="645.3" rx="19.4" ry="6.3" fill="#fde6aa" transform="rotate(-7.5 598.8 645.3)"/>
<ellipse cx="432.2" cy="630.9" rx="14.4" ry="6.5" fill="#fee8b2" transform="rotate(-6.3 432.2 630.9)"/>
<ellipse cx="139.1" cy="610.8" rx="11.7" ry="6.5" fill="#fee8b2" transform="rotate(-1.9 139.1 610.8)"/>
<ellipse cx="484.4" cy="637.1" rx="13.8" ry="8.2" fill="#fde6aa" transform="rotate(-4.9 484.4 637.1)"/>
<ellipse cx="370.8" cy="626.3" rx="15.0" ry="6.3" fill="#fde6aa" transform="rotate(-7.5 370.8 626.3)"/>
<ellipse cx="305.4" cy="606.2" rx="18.3" ry="8.1" fill="#fde2a0" transform="rotate(-0.6 305.4 606.2)"/>
<ellipse cx="501.7" cy="638.4" rx="11.6" ry="5.8" fill="#fcdc92" transform="rotate(-2.2 501.7 638.4)"/>
<ellipse cx="267.5" cy="607.2" rx="19.6" ry="5.2" fill="#fcdc92" transform="rotate(6.8 267.5 607.2)"/>
<ellipse cx="248.7" cy="606.4" rx="17.5" ry="5.5" fill="#fde2a0" transform="rotate(-7.6 248.7 606.4)"/>
<ellipse cx="216.9" cy="607.5" rx="15.3" ry="5.3" fill="#fde6aa" transform="rotate(4.6 216.9 607.5)"/>
<ellipse cx="556.8" cy="646.4" rx="18.3" ry="5.5" fill="#fde2a0" transform="rotate(4.8 556.8 646.4)"/>
<ellipse cx="469.2" cy="639.7" rx="18.4" ry="8.1" fill="#fcdc92" transform="rotate(5.8 469.2 639.7)"/>
<ellipse cx="330.4" cy="616.0" rx="18.1" ry="7.4" fill="#fde6aa" transform="rotate(4.0 330.4 616.0)"/>
<ellipse cx="223.7" cy="605.7" rx="11.6" ry="5.1" fill="#fcdc92" transform="rotate(-5.4 223.7 605.7)"/>
<ellipse cx="313.3" cy="614.0" rx="11.9" ry="5.3" fill="#fee8b2" transform="rotate(-6.5 313.3 614.0)"/>
<ellipse cx="349.2" cy="615.1" rx="17.4" ry="6.8" fill="#fde6aa" transform="rotate(-0.6 349.2 615.1)"/>
<ellipse cx="545.6" cy="647.4" rx="13.1" ry="7.1" fill="#fde2a0" transform="rotate(4.5 545.6 647.4)"/>
<ellipse cx="247.0" cy="604.0" rx="13.5" ry="5.4" fill="#fcdc92" transform="rotate(-4.8 247.0 604.0)"/>
<ellipse cx="223.7" cy="607.1" rx="13.2" ry="5.3" fill="#fee8b2" transform="rotate(-2.8 223.7 607.1)"/>
<ellipse cx="298.0" cy="606.9" rx="19.9" ry="7.0" fill="#fde2a0" transform="rotate(2.5 298.0 606.9)"/>
<ellipse cx="595.5" cy="650.4" rx="11.9" ry="6.9" fill="#fde6aa" transform="rotate(6.6 595.5 650.4)"/>
<ellipse cx="120.2" cy="607.6" rx="13.6" ry="5.5" fill="#fee8b2" transform="rotate(6.9 120.2 607.6)"/>
<ellipse cx="286.1" cy="606.1" rx="18.8" ry="6.8" fill="#fde2a0" transform="rotate(-6.3 286.1 606.1)"/>
<ellipse cx="398.1" cy="625.6" rx="16.6" ry="5.9" fill="#fee8b2" transform="rotate(-7.3 398.1 625.6)"/>
<ellipse cx="599.9" cy="650.7" rx="11.3" ry="7.9" fill="#fde2a0" transform="rotate(5.1 599.9 650.7)"/>
<ellipse cx="304.5" cy="606.2" rx="14.3" ry="7.5" fill="#fde2a0" transform="rotate(4.7 304.5 606.2)"/>
<ellipse cx="374.0" cy="621.2" rx="11.6" ry="5.4" fill="#fee8b2" transform="rotate(2.2 374.0 621.2)"/>
<ellipse cx="145.6" cy="607.9" rx="12.5" ry="6.3" fill="#fcdc92" transform="rotate(2.7 145.6 607.9)"/>
</g>

<!-- ===== BLUE VEIN NETWORK ===== -->
<path d="M95,392.5 C200,392 300,394 360,397 C420,402 460,414 515,419 C560,422 590,422 604,423 Q615,424 615,436 L615,474 Q615,488.5 603,488.5 L545,488.5 L545,599.5 L601,599.5 Q612,600 612,611 L612,622 Q612,633 600,633 L530,633 C515,631 505,628.5 500,627.5 C490,626 480,624.5 474,623.5 C460,621 450,619 440,617.5 C430,616 425,615 420,614.5 C405,611.5 395,608 380,605 C370,603.5 360,601.5 352,600.5 C340,598 330,597 320,596 C310,594 305,593.5 300,593.5 C280,592.5 270,592.5 260,592.5 C240,593 220,593.5 200,593.5 L95,596.5 Z" fill="none" stroke="#c83434" stroke-width="9.5" stroke-linejoin="round" clip-path="url(#sideOnly)"/>
<g clip-path="url(#rightOfLeft)">
<path d="M95,392.5 C200,392 300,394 360,397 C420,402 460,414 515,419 C560,422 590,422 604,423 Q615,424 615,436 L615,474 Q615,488.5 603,488.5 L545,488.5 L545,599.5 L601,599.5 Q612,600 612,611 L612,622 Q612,633 600,633 L530,633 C515,631 505,628.5 500,627.5 C490,626 480,624.5 474,623.5 C460,621 450,619 440,617.5 C430,616 425,615 420,614.5 C405,611.5 395,608 380,605 C370,603.5 360,601.5 352,600.5 C340,598 330,597 320,596 C310,594 305,593.5 300,593.5 C280,592.5 270,592.5 260,592.5 C240,593 220,593.5 200,593.5 L95,596.5 Z" fill="#0b7de6" stroke="#fcd68a" stroke-width="7" stroke-linejoin="round"/>
</g>
<path d="M95,392.5 C200,392 300,394 360,397 C420,402 460,414 515,419 C560,422 590,422 604,423 Q615,424 615,436 L615,474 Q615,488.5 603,488.5 L545,488.5 L545,599.5 L601,599.5 Q612,600 612,611 L612,622 Q612,633 600,633 L530,633 C515,631 505,628.5 500,627.5 C490,626 480,624.5 474,623.5 C460,621 450,619 440,617.5 C430,616 425,615 420,614.5 C405,611.5 395,608 380,605 C370,603.5 360,601.5 352,600.5 C340,598 330,597 320,596 C310,594 305,593.5 300,593.5 C280,592.5 270,592.5 260,592.5 C240,593 220,593.5 200,593.5 L95,596.5 Z" fill="none" stroke="#fdf0d6" stroke-width="7" stroke-linejoin="round" clip-path="url(#sideOnly)"/>
<path d="M95,388 C200,387.5 300,389.5 360,392.5 C420,397.5 460,409.5 515,414.5 C560,417.5 590,417.5 600,418" fill="none" stroke="#c33a34" stroke-width="2" clip-path="url(#rightOfLeft)"/>
<path d="M257.0,395.0 C255.5,406.0 257.0,413.5 267.5,414.5 C277.1,414.5 274.3,413.0 272.1,411.5 C262.5,408.2 264.1,398.3 272.1,395.0 Z" fill="#64aef7" opacity="0.95"/><path d="M252.5,392.5 L252.3,393.7 L252.1,395.0 L251.9,396.3 L251.7,397.5 L251.6,398.8 L251.5,400.0 L251.5,401.3 L251.5,402.5 L251.6,403.8 L251.7,405.0 L252.0,406.2 L252.3,407.5 L252.7,408.7 L253.1,409.8 L253.7,411.0 L254.4,412.1 L255.1,413.2 L256.0,414.2 L257.0,415.2 L258.0,416.1 L259.2,417.0 L260.5,417.8 L261.9,418.6 L263.7,419.4 L265.4,419.5 L266.4,419.6 L267.5,419.5 L268.5,419.5 L269.5,419.4 L270.6,419.3 L271.6,419.2 L272.5,419.1 L273.5,419.0 L274.5,418.9 L275.4,418.7 L276.4,418.6 L277.3,418.4 L278.2,418.3 L279.1,418.1 L280.0,418.0 L280.9,417.8 L281.7,417.6 L282.6,417.4 L283.4,417.2 L284.3,417.0 L285.1,416.8 L285.9,416.5 L286.7,416.3 L286.3,414.7 L285.5,414.8 L284.7,414.9 L283.9,414.9 L283.1,415.0 L282.3,415.0 L281.4,415.1 L280.6,415.1 L279.7,415.1 L278.8,415.1 L277.9,415.1 L277.0,415.1 L276.1,415.1 L275.2,415.1 L274.3,415.1 L273.4,415.0 L272.4,415.0 L271.5,414.9 L270.5,414.9 L269.5,414.8 L268.5,414.7 L267.5,414.6 L266.5,414.6 L265.5,414.5 L265.1,414.6 L264.2,414.1 L263.1,413.5 L262.1,412.9 L261.2,412.2 L260.4,411.5 L259.7,410.8 L259.1,410.1 L258.5,409.4 L258.1,408.6 L257.7,407.8 L257.4,407.0 L257.1,406.1 L256.9,405.2 L256.7,404.3 L256.6,403.3 L256.5,402.3 L256.5,401.3 L256.5,400.3 L256.6,399.2 L256.7,398.1 L256.8,397.0 L257.0,395.8 L257.2,394.7 L257.5,393.5 Z" fill="#fcd68a"/>
<path d="M257.0,461.0 C255.5,449.5 257.0,441.5 267.5,440.5 C277.1,440.5 274.3,442.0 272.1,443.5 C262.5,447.2 264.1,457.6 272.1,461.0 Z" fill="#64aef7" opacity="0.95"/><path d="M257.5,462.5 L257.2,461.3 L257.0,460.1 L256.8,458.9 L256.7,457.7 L256.6,456.6 L256.5,455.4 L256.5,454.3 L256.5,453.3 L256.6,452.2 L256.7,451.2 L256.9,450.2 L257.1,449.2 L257.4,448.3 L257.7,447.4 L258.1,446.6 L258.6,445.8 L259.1,445.0 L259.7,444.2 L260.4,443.5 L261.2,442.8 L262.1,442.1 L263.1,441.5 L264.2,440.9 L265.1,440.4 L265.5,440.5 L266.5,440.4 L267.5,440.4 L268.5,440.3 L269.5,440.2 L270.5,440.1 L271.5,440.1 L272.4,440.0 L273.4,440.0 L274.3,439.9 L275.2,439.9 L276.1,439.9 L277.0,439.9 L277.9,439.9 L278.8,439.9 L279.7,439.9 L280.6,439.9 L281.4,439.9 L282.3,440.0 L283.1,440.0 L283.9,440.1 L284.7,440.1 L285.5,440.2 L286.3,440.3 L286.7,438.7 L285.9,438.5 L285.1,438.2 L284.3,438.0 L283.4,437.8 L282.6,437.6 L281.7,437.4 L280.9,437.2 L280.0,437.0 L279.1,436.9 L278.2,436.7 L277.3,436.6 L276.4,436.4 L275.4,436.3 L274.5,436.1 L273.5,436.0 L272.5,435.9 L271.6,435.8 L270.6,435.7 L269.5,435.6 L268.5,435.5 L267.5,435.5 L266.4,435.4 L265.4,435.5 L263.7,435.6 L261.9,436.4 L260.5,437.2 L259.2,438.0 L258.0,438.9 L256.9,439.9 L256.0,440.9 L255.1,442.0 L254.3,443.1 L253.7,444.3 L253.1,445.5 L252.6,446.7 L252.3,447.9 L252.0,449.2 L251.7,450.5 L251.6,451.8 L251.5,453.1 L251.5,454.4 L251.5,455.7 L251.6,457.0 L251.7,458.3 L251.9,459.6 L252.1,460.9 L252.3,462.2 L252.5,463.5 Z" fill="#fcd68a"/>
<path d="M453.0,409.5 C451.5,420.5 453.0,428.0 463.5,429.0 C471.4,429.0 468.5,427.5 466.4,426.0 C457.8,422.7 459.2,412.8 466.4,409.5 Z" fill="#64aef7" opacity="0.95"/><path d="M448.5,407.0 L448.3,408.2 L448.1,409.5 L447.9,410.8 L447.7,412.0 L447.6,413.3 L447.5,414.5 L447.5,415.8 L447.5,417.0 L447.6,418.3 L447.7,419.5 L448.0,420.7 L448.3,422.0 L448.7,423.2 L449.1,424.3 L449.7,425.5 L450.4,426.6 L451.1,427.7 L452.0,428.7 L453.0,429.7 L454.0,430.6 L455.2,431.5 L456.5,432.3 L457.9,433.1 L459.7,433.9 L461.2,434.0 L462.2,434.1 L463.1,434.0 L464.0,434.0 L464.9,433.9 L465.8,433.8 L466.7,433.7 L467.5,433.6 L468.4,433.5 L469.2,433.4 L470.0,433.2 L470.8,433.1 L471.6,432.9 L472.4,432.8 L473.2,432.6 L474.0,432.5 L474.7,432.3 L475.5,432.1 L476.2,431.9 L476.9,431.7 L477.6,431.5 L478.3,431.2 L479.0,431.0 L479.7,430.8 L479.3,429.2 L478.6,429.3 L477.9,429.4 L477.2,429.4 L476.5,429.5 L475.8,429.5 L475.1,429.6 L474.4,429.6 L473.6,429.6 L472.9,429.6 L472.1,429.6 L471.3,429.6 L470.6,429.6 L469.8,429.6 L469.0,429.6 L468.2,429.5 L467.4,429.5 L466.5,429.4 L465.7,429.4 L464.9,429.3 L464.0,429.2 L463.2,429.1 L462.3,429.1 L461.4,429.0 L461.1,429.1 L460.2,428.6 L459.1,428.0 L458.1,427.4 L457.2,426.7 L456.4,426.0 L455.7,425.3 L455.1,424.6 L454.5,423.9 L454.1,423.1 L453.7,422.3 L453.4,421.5 L453.1,420.6 L452.9,419.7 L452.7,418.8 L452.6,417.8 L452.5,416.8 L452.5,415.8 L452.5,414.8 L452.6,413.7 L452.7,412.6 L452.8,411.5 L453.0,410.3 L453.2,409.2 L453.5,408.0 Z" fill="#fcd68a"/>
<path d="M448.5,468.0 C447.0,457.8 448.5,451.0 459.0,450.0 C468.0,450.0 465.2,451.5 463.1,453.0 C453.8,455.7 455.3,464.9 463.1,468.0 Z" fill="#64aef7" opacity="0.95"/><path d="M448.9,469.5 L448.7,468.4 L448.5,467.3 L448.3,466.2 L448.2,465.2 L448.1,464.2 L448.0,463.2 L448.0,462.2 L448.0,461.3 L448.1,460.4 L448.2,459.5 L448.4,458.7 L448.6,457.9 L448.8,457.1 L449.2,456.4 L449.5,455.6 L450.0,454.9 L450.5,454.2 L451.1,453.6 L451.8,452.9 L452.6,452.2 L453.5,451.6 L454.5,451.0 L455.7,450.4 L456.6,449.9 L457.0,450.0 L458.0,449.9 L458.9,449.9 L459.9,449.8 L460.8,449.7 L461.7,449.6 L462.7,449.6 L463.6,449.5 L464.5,449.5 L465.4,449.4 L466.2,449.4 L467.1,449.4 L468.0,449.4 L468.8,449.4 L469.7,449.4 L470.5,449.4 L471.3,449.4 L472.1,449.4 L472.9,449.5 L473.7,449.5 L474.5,449.6 L475.3,449.6 L476.1,449.7 L476.8,449.8 L477.2,448.2 L476.4,448.0 L475.7,447.8 L474.9,447.5 L474.1,447.3 L473.3,447.1 L472.5,446.9 L471.7,446.7 L470.8,446.5 L470.0,446.4 L469.1,446.2 L468.2,446.1 L467.4,445.9 L466.5,445.8 L465.6,445.6 L464.6,445.5 L463.7,445.4 L462.8,445.3 L461.8,445.2 L460.8,445.1 L459.8,445.0 L458.9,445.0 L457.8,444.9 L456.8,445.0 L455.2,445.1 L453.4,445.9 L452.0,446.6 L450.8,447.4 L449.6,448.3 L448.5,449.1 L447.5,450.1 L446.7,451.0 L445.9,452.1 L445.2,453.1 L444.7,454.2 L444.2,455.3 L443.8,456.4 L443.5,457.6 L443.3,458.7 L443.1,459.9 L443.0,461.1 L443.0,462.2 L443.0,463.4 L443.1,464.6 L443.2,465.8 L443.4,467.0 L443.6,468.2 L443.8,469.3 L444.1,470.5 Z" fill="#fcd68a"/>
<path d="M146.1,569.0 C144.6,571.8 146.1,571.9 149.5,572.9 C154.7,572.9 154.4,571.4 153.3,569.9 C148.5,572.3 149.3,569.8 153.3,569.0 Z" fill="#64aef7" opacity="0.95"/><path d="M143.6,566.3 L143.3,566.8 L143.1,567.3 L142.9,567.8 L142.7,568.3 L142.5,568.7 L142.4,569.2 L142.3,569.7 L142.2,570.2 L142.1,570.6 L142.1,571.1 L142.1,571.6 L142.2,572.1 L142.4,572.5 L142.5,573.0 L142.8,573.4 L143.1,573.8 L143.4,574.2 L143.8,574.5 L144.2,574.9 L144.6,575.1 L145.1,575.4 L145.6,575.6 L146.2,575.8 L146.9,576.1 L147.7,576.1 L148.4,576.2 L149.0,576.2 L149.6,576.1 L150.2,576.1 L150.8,576.0 L151.4,576.0 L152.0,575.9 L152.6,575.9 L153.2,575.8 L153.8,575.7 L154.4,575.6 L154.9,575.5 L155.5,575.4 L156.0,575.2 L156.6,575.1 L157.1,575.0 L157.7,574.8 L158.2,574.7 L158.7,574.5 L159.2,574.3 L159.8,574.1 L160.3,574.0 L160.7,573.8 L160.3,572.2 L159.8,572.4 L159.3,572.5 L158.8,572.6 L158.3,572.7 L157.8,572.7 L157.2,572.8 L156.7,572.9 L156.2,573.0 L155.7,573.0 L155.2,573.1 L154.6,573.1 L154.1,573.1 L153.5,573.1 L153.0,573.1 L152.4,573.1 L151.9,573.1 L151.3,573.1 L150.8,573.1 L150.2,573.1 L149.6,573.0 L149.1,573.0 L148.5,573.0 L147.9,572.9 L147.5,572.9 L147.3,572.8 L146.9,572.7 L146.5,572.5 L146.3,572.4 L146.0,572.2 L145.8,572.1 L145.7,571.9 L145.6,571.8 L145.5,571.7 L145.4,571.6 L145.4,571.5 L145.3,571.4 L145.3,571.2 L145.3,571.0 L145.3,570.8 L145.3,570.6 L145.4,570.4 L145.5,570.1 L145.6,569.7 L145.7,569.4 L145.8,569.0 L146.0,568.6 L146.2,568.2 L146.4,567.7 Z" fill="#fcd68a"/>
<path d="M147.1,592.5 C145.6,587.8 147.1,585.6 152.7,584.6 C157.2,584.6 156.0,586.1 154.8,587.6 C149.8,586.8 150.6,591.1 154.8,592.5 Z" fill="#64aef7" opacity="0.95"/><path d="M147.5,594.0 L147.3,593.3 L147.1,592.7 L146.9,592.1 L146.7,591.6 L146.6,591.0 L146.5,590.5 L146.5,590.1 L146.4,589.6 L146.4,589.2 L146.4,588.8 L146.5,588.4 L146.6,588.1 L146.7,587.7 L146.8,587.4 L147.0,587.1 L147.2,586.8 L147.4,586.5 L147.7,586.2 L148.1,585.9 L148.5,585.6 L149.0,585.3 L149.5,585.0 L150.1,584.8 L150.6,584.6 L150.9,584.6 L151.4,584.5 L152.0,584.5 L152.5,584.5 L153.0,584.4 L153.6,584.4 L154.1,584.4 L154.6,584.4 L155.1,584.4 L155.6,584.4 L156.1,584.4 L156.6,584.4 L157.1,584.4 L157.6,584.4 L158.1,584.5 L158.6,584.5 L159.0,584.6 L159.5,584.7 L160.0,584.7 L160.4,584.8 L160.9,584.9 L161.3,585.0 L161.8,585.1 L162.2,585.3 L162.8,583.7 L162.3,583.6 L161.9,583.4 L161.4,583.2 L160.9,583.0 L160.5,582.8 L160.0,582.7 L159.5,582.5 L159.0,582.4 L158.5,582.3 L158.0,582.1 L157.4,582.0 L156.9,581.9 L156.4,581.8 L155.8,581.7 L155.3,581.6 L154.7,581.6 L154.2,581.5 L153.6,581.5 L153.0,581.4 L152.5,581.4 L151.9,581.3 L151.3,581.3 L150.7,581.4 L149.8,581.4 L148.8,581.8 L148.1,582.2 L147.4,582.6 L146.7,583.0 L146.1,583.4 L145.6,583.9 L145.1,584.4 L144.6,584.9 L144.3,585.4 L143.9,586.0 L143.7,586.6 L143.5,587.2 L143.3,587.8 L143.3,588.5 L143.2,589.1 L143.2,589.7 L143.3,590.4 L143.4,591.0 L143.5,591.7 L143.6,592.4 L143.8,593.0 L144.0,593.7 L144.3,594.4 L144.5,595.0 Z" fill="#fcd68a"/>
<path d="M284.7,562.0 C283.2,567.0 284.7,569.3 290.5,570.3 C295.4,570.3 294.2,568.8 292.9,567.3 C287.5,568.0 288.4,563.5 292.9,562.0 Z" fill="#64aef7" opacity="0.95"/><path d="M281.9,559.4 L281.7,560.1 L281.4,560.8 L281.2,561.5 L281.0,562.2 L280.9,562.9 L280.8,563.6 L280.7,564.3 L280.6,564.9 L280.6,565.6 L280.7,566.3 L280.8,566.9 L280.9,567.6 L281.1,568.2 L281.4,568.9 L281.7,569.5 L282.1,570.0 L282.6,570.6 L283.1,571.1 L283.7,571.6 L284.3,572.0 L285.0,572.5 L285.7,572.9 L286.5,573.2 L287.5,573.6 L288.5,573.7 L289.1,573.8 L289.7,573.7 L290.4,573.7 L291.0,573.7 L291.6,573.6 L292.2,573.6 L292.8,573.5 L293.3,573.4 L293.9,573.3 L294.5,573.2 L295.1,573.1 L295.6,573.0 L296.2,572.9 L296.7,572.8 L297.2,572.6 L297.8,572.5 L298.3,572.4 L298.8,572.2 L299.3,572.0 L299.8,571.8 L300.3,571.7 L300.8,571.5 L301.3,571.3 L300.7,569.7 L300.3,569.9 L299.8,570.0 L299.3,570.1 L298.8,570.1 L298.3,570.2 L297.8,570.3 L297.3,570.4 L296.8,570.4 L296.3,570.5 L295.8,570.5 L295.3,570.5 L294.8,570.6 L294.2,570.6 L293.7,570.6 L293.2,570.6 L292.6,570.6 L292.1,570.6 L291.5,570.5 L290.9,570.5 L290.4,570.5 L289.8,570.4 L289.2,570.4 L288.6,570.3 L288.4,570.4 L287.9,570.1 L287.2,569.8 L286.7,569.5 L286.2,569.2 L285.8,568.9 L285.4,568.6 L285.1,568.3 L284.8,568.0 L284.6,567.7 L284.4,567.4 L284.3,567.0 L284.2,566.7 L284.1,566.3 L284.1,565.9 L284.0,565.5 L284.0,565.1 L284.1,564.6 L284.1,564.1 L284.2,563.6 L284.3,563.0 L284.5,562.4 L284.7,561.8 L284.9,561.2 L285.1,560.6 Z" fill="#fcd68a"/>
<path d="M284.7,589.0 C283.2,584.0 284.7,581.7 290.5,580.7 C295.4,580.7 294.2,582.2 292.9,583.7 C287.5,583.0 288.4,587.5 292.9,589.0 Z" fill="#64aef7" opacity="0.95"/><path d="M285.1,590.4 L284.9,589.8 L284.7,589.2 L284.5,588.6 L284.3,588.0 L284.2,587.4 L284.1,586.9 L284.1,586.4 L284.0,585.9 L284.0,585.5 L284.1,585.1 L284.1,584.7 L284.2,584.3 L284.3,584.0 L284.4,583.6 L284.6,583.3 L284.8,583.0 L285.1,582.7 L285.4,582.4 L285.8,582.1 L286.2,581.8 L286.7,581.5 L287.2,581.2 L287.9,580.9 L288.4,580.6 L288.6,580.7 L289.2,580.6 L289.8,580.6 L290.4,580.5 L290.9,580.5 L291.5,580.5 L292.1,580.4 L292.6,580.4 L293.2,580.4 L293.7,580.4 L294.2,580.4 L294.8,580.4 L295.3,580.5 L295.8,580.5 L296.3,580.5 L296.8,580.6 L297.3,580.6 L297.8,580.7 L298.3,580.8 L298.8,580.9 L299.3,580.9 L299.8,581.0 L300.3,581.1 L300.7,581.3 L301.3,579.7 L300.8,579.5 L300.3,579.3 L299.8,579.2 L299.3,579.0 L298.8,578.8 L298.3,578.6 L297.8,578.5 L297.2,578.4 L296.7,578.2 L296.2,578.1 L295.6,578.0 L295.1,577.9 L294.5,577.8 L293.9,577.7 L293.3,577.6 L292.8,577.5 L292.2,577.4 L291.6,577.4 L291.0,577.3 L290.4,577.3 L289.7,577.3 L289.1,577.2 L288.5,577.3 L287.5,577.4 L286.5,577.8 L285.7,578.1 L285.0,578.5 L284.3,579.0 L283.7,579.4 L283.1,579.9 L282.6,580.4 L282.1,581.0 L281.7,581.5 L281.4,582.1 L281.1,582.8 L280.9,583.4 L280.8,584.1 L280.7,584.7 L280.6,585.4 L280.6,586.1 L280.7,586.7 L280.8,587.4 L280.9,588.1 L281.0,588.8 L281.2,589.5 L281.4,590.2 L281.7,590.9 L281.9,591.6 Z" fill="#fcd68a"/>
<path d="M422.7,588.0 C421.2,592.5 422.7,594.3 427.9,595.3 C430.9,595.3 429.7,593.8 428.7,592.3 C424.5,593.4 425.2,589.4 428.7,588.0 Z" fill="#64aef7" opacity="0.95"/><path d="M419.9,585.4 L419.7,586.1 L419.4,586.7 L419.2,587.4 L419.0,588.0 L418.9,588.7 L418.8,589.3 L418.7,589.9 L418.6,590.6 L418.6,591.2 L418.6,591.8 L418.7,592.4 L418.9,593.0 L419.0,593.6 L419.3,594.2 L419.6,594.8 L420.0,595.3 L420.4,595.8 L420.9,596.3 L421.4,596.8 L422.0,597.2 L422.7,597.6 L423.3,597.9 L424.1,598.3 L425.0,598.6 L425.8,598.7 L426.3,598.8 L426.8,598.7 L427.2,598.7 L427.7,598.7 L428.2,598.6 L428.6,598.6 L429.1,598.5 L429.5,598.4 L429.9,598.3 L430.4,598.2 L430.8,598.1 L431.2,598.0 L431.6,597.9 L432.0,597.8 L432.4,597.6 L432.8,597.5 L433.2,597.3 L433.6,597.2 L433.9,597.0 L434.3,596.8 L434.7,596.6 L435.0,596.4 L435.3,596.2 L434.7,594.8 L434.3,594.9 L434.0,595.0 L433.6,595.1 L433.3,595.2 L432.9,595.3 L432.6,595.3 L432.2,595.4 L431.9,595.4 L431.5,595.5 L431.1,595.5 L430.8,595.5 L430.4,595.6 L430.0,595.6 L429.6,595.6 L429.2,595.6 L428.9,595.6 L428.5,595.6 L428.1,595.5 L427.7,595.5 L427.3,595.5 L426.9,595.4 L426.4,595.4 L426.0,595.3 L425.9,595.4 L425.4,595.2 L424.8,594.9 L424.3,594.6 L423.9,594.4 L423.5,594.1 L423.2,593.8 L422.9,593.5 L422.7,593.3 L422.5,593.0 L422.4,592.7 L422.2,592.4 L422.1,592.2 L422.1,591.8 L422.0,591.5 L422.0,591.1 L422.0,590.7 L422.0,590.3 L422.1,589.9 L422.2,589.4 L422.3,588.9 L422.5,588.3 L422.7,587.8 L422.9,587.2 L423.1,586.6 Z" fill="#fcd68a"/>
<path d="M422.7,614.0 C421.2,609.5 422.7,607.7 427.9,606.7 C430.9,606.7 429.7,608.2 428.7,609.7 C424.5,608.6 425.2,612.6 428.7,614.0 Z" fill="#64aef7" opacity="0.95"/><path d="M423.1,615.4 L422.9,614.8 L422.7,614.2 L422.5,613.7 L422.3,613.1 L422.2,612.6 L422.1,612.1 L422.0,611.7 L422.0,611.3 L422.0,610.9 L422.0,610.5 L422.1,610.2 L422.1,609.8 L422.2,609.6 L422.4,609.3 L422.5,609.0 L422.7,608.7 L422.9,608.5 L423.2,608.2 L423.5,607.9 L423.9,607.6 L424.3,607.4 L424.8,607.1 L425.4,606.8 L425.9,606.6 L426.0,606.7 L426.4,606.6 L426.9,606.6 L427.3,606.5 L427.7,606.5 L428.1,606.5 L428.5,606.4 L428.9,606.4 L429.2,606.4 L429.6,606.4 L430.0,606.4 L430.4,606.4 L430.8,606.5 L431.1,606.5 L431.5,606.5 L431.9,606.6 L432.2,606.6 L432.6,606.7 L432.9,606.7 L433.3,606.8 L433.6,606.9 L434.0,607.0 L434.3,607.1 L434.7,607.2 L435.3,605.8 L435.0,605.6 L434.7,605.4 L434.3,605.2 L433.9,605.0 L433.6,604.8 L433.2,604.7 L432.8,604.5 L432.4,604.4 L432.0,604.2 L431.6,604.1 L431.2,604.0 L430.8,603.9 L430.4,603.8 L429.9,603.7 L429.5,603.6 L429.1,603.5 L428.6,603.4 L428.2,603.4 L427.7,603.3 L427.2,603.3 L426.8,603.3 L426.3,603.2 L425.8,603.3 L425.0,603.4 L424.1,603.7 L423.3,604.1 L422.7,604.4 L422.0,604.8 L421.4,605.2 L420.9,605.7 L420.4,606.2 L420.0,606.7 L419.6,607.2 L419.3,607.8 L419.0,608.4 L418.9,609.0 L418.7,609.6 L418.6,610.2 L418.6,610.8 L418.6,611.4 L418.7,612.1 L418.8,612.7 L418.9,613.3 L419.0,614.0 L419.2,614.6 L419.4,615.3 L419.7,615.9 L419.9,616.6 Z" fill="#fcd68a"/>
<g transform="translate(482,538) rotate(-90)"><path d="M1.6,0.0 C0.1,4.5 1.6,6.4 7.0,7.4 C12.1,7.4 11.2,5.9 9.9,4.4 C4.5,5.4 5.4,1.3 9.9,0.0 Z" fill="#64aef7" opacity="0.95"/><path d="M-1.0,-2.6 L-1.2,-1.9 L-1.5,-1.3 L-1.7,-0.6 L-1.9,0.0 L-2.0,0.7 L-2.1,1.3 L-2.2,1.9 L-2.3,2.6 L-2.3,3.2 L-2.3,3.8 L-2.2,4.4 L-2.0,5.0 L-1.9,5.6 L-1.6,6.2 L-1.3,6.7 L-0.9,7.3 L-0.5,7.8 L-0.0,8.2 L0.5,8.7 L1.1,9.1 L1.7,9.5 L2.4,9.8 L3.1,10.2 L4.1,10.6 L5.0,10.6 L5.7,10.7 L6.3,10.7 L6.9,10.6 L7.6,10.6 L8.2,10.5 L8.8,10.5 L9.4,10.4 L10.0,10.4 L10.6,10.3 L11.2,10.2 L11.8,10.1 L12.4,10.0 L12.9,9.9 L13.5,9.7 L14.1,9.6 L14.6,9.5 L15.2,9.3 L15.7,9.2 L16.2,9.0 L16.7,8.8 L17.3,8.6 L17.8,8.5 L18.2,8.3 L17.8,6.7 L17.3,6.9 L16.8,7.0 L16.3,7.1 L15.8,7.2 L15.2,7.2 L14.7,7.3 L14.2,7.4 L13.7,7.5 L13.1,7.5 L12.6,7.5 L12.1,7.6 L11.5,7.6 L11.0,7.6 L10.4,7.6 L9.8,7.6 L9.3,7.6 L8.7,7.6 L8.1,7.6 L7.5,7.6 L7.0,7.5 L6.4,7.5 L5.8,7.5 L5.2,7.4 L4.8,7.4 L4.4,7.2 L3.8,7.0 L3.3,6.7 L2.8,6.4 L2.5,6.2 L2.1,5.9 L1.8,5.6 L1.6,5.3 L1.4,5.1 L1.3,4.8 L1.1,4.5 L1.0,4.2 L1.0,3.9 L0.9,3.5 L0.9,3.1 L0.9,2.7 L0.9,2.3 L1.0,1.8 L1.1,1.4 L1.2,0.9 L1.4,0.3 L1.6,-0.2 L1.8,-0.8 L2.0,-1.4 Z" fill="#fcd68a"/></g>
<g transform="translate(515,537) rotate(-90) scale(1,-1)"><path d="M1.6,0.0 C0.1,5.2 1.6,7.9 7.8,8.9 C12.5,8.9 11.2,7.4 9.9,5.9 C4.5,6.3 5.4,1.6 9.9,0.0 Z" fill="#64aef7" opacity="0.95"/><path d="M-1.0,-2.5 L-1.3,-1.8 L-1.5,-1.1 L-1.7,-0.4 L-1.9,0.4 L-2.0,1.1 L-2.1,1.8 L-2.2,2.4 L-2.3,3.1 L-2.3,3.8 L-2.2,4.5 L-2.1,5.2 L-2.0,5.8 L-1.7,6.5 L-1.5,7.1 L-1.1,7.7 L-0.7,8.3 L-0.3,8.9 L0.3,9.4 L0.8,9.9 L1.5,10.4 L2.2,10.8 L2.9,11.2 L3.7,11.6 L4.8,12.0 L5.7,12.1 L6.3,12.2 L7.0,12.2 L7.6,12.1 L8.2,12.1 L8.8,12.0 L9.4,12.0 L9.9,11.9 L10.5,11.9 L11.1,11.8 L11.6,11.7 L12.2,11.6 L12.7,11.5 L13.3,11.4 L13.8,11.2 L14.3,11.1 L14.9,11.0 L15.4,10.8 L15.9,10.7 L16.4,10.5 L16.8,10.3 L17.3,10.1 L17.8,10.0 L18.3,9.8 L17.7,8.2 L17.3,8.4 L16.8,8.5 L16.3,8.6 L15.9,8.7 L15.4,8.8 L14.9,8.8 L14.4,8.9 L13.9,9.0 L13.4,9.0 L12.9,9.1 L12.4,9.1 L11.9,9.1 L11.4,9.1 L10.9,9.1 L10.3,9.1 L9.8,9.1 L9.2,9.1 L8.7,9.1 L8.1,9.1 L7.6,9.0 L7.0,9.0 L6.5,9.0 L5.9,8.9 L5.6,9.0 L5.0,8.7 L4.4,8.4 L3.8,8.1 L3.3,7.7 L2.8,7.4 L2.4,7.1 L2.1,6.7 L1.8,6.4 L1.6,6.1 L1.4,5.7 L1.3,5.3 L1.1,5.0 L1.0,4.6 L1.0,4.2 L0.9,3.7 L0.9,3.2 L1.0,2.7 L1.0,2.2 L1.1,1.7 L1.2,1.1 L1.4,0.5 L1.6,-0.2 L1.8,-0.8 L2.0,-1.5 Z" fill="#fcd68a"/></g>
<g transform="translate(356,518) rotate(-90)"><path d="M1.4,0.0 C-0.1,3.5 1.4,4.6 5.9,5.6 C8.9,5.6 8.1,4.1 7.2,2.6 C3.2,4.2 3.9,1.1 7.2,0.0 Z" fill="#64aef7" opacity="0.95"/><path d="M-0.8,-2.6 L-1.0,-2.0 L-1.3,-1.4 L-1.5,-0.9 L-1.7,-0.3 L-1.8,0.2 L-1.9,0.7 L-2.0,1.3 L-2.1,1.8 L-2.1,2.3 L-2.1,2.8 L-2.1,3.3 L-2.0,3.9 L-1.8,4.4 L-1.6,4.8 L-1.4,5.3 L-1.1,5.8 L-0.7,6.2 L-0.3,6.5 L0.2,6.9 L0.6,7.2 L1.2,7.5 L1.7,7.8 L2.3,8.1 L3.1,8.4 L3.8,8.4 L4.3,8.5 L4.8,8.5 L5.2,8.4 L5.7,8.4 L6.1,8.4 L6.6,8.3 L7.0,8.3 L7.4,8.2 L7.9,8.1 L8.3,8.1 L8.7,8.0 L9.1,7.9 L9.6,7.8 L10.0,7.6 L10.4,7.5 L10.7,7.4 L11.1,7.3 L11.5,7.1 L11.9,6.9 L12.3,6.8 L12.6,6.6 L13.0,6.4 L13.3,6.2 L12.7,4.8 L12.3,4.9 L12.0,5.0 L11.6,5.1 L11.3,5.2 L10.9,5.3 L10.6,5.4 L10.2,5.5 L9.9,5.5 L9.5,5.6 L9.1,5.7 L8.7,5.7 L8.4,5.7 L8.0,5.8 L7.6,5.8 L7.2,5.8 L6.8,5.8 L6.4,5.8 L6.0,5.8 L5.6,5.8 L5.2,5.7 L4.8,5.7 L4.4,5.7 L4.0,5.6 L3.8,5.6 L3.4,5.5 L2.9,5.3 L2.5,5.1 L2.1,4.9 L1.8,4.6 L1.5,4.4 L1.3,4.2 L1.1,4.0 L1.0,3.8 L0.9,3.6 L0.8,3.4 L0.7,3.2 L0.7,2.9 L0.7,2.7 L0.6,2.4 L0.7,2.1 L0.7,1.7 L0.8,1.3 L0.9,0.9 L1.0,0.5 L1.2,0.1 L1.3,-0.4 L1.5,-0.9 L1.8,-1.4 Z" fill="#fcd68a"/></g>
<g transform="translate(400,530) rotate(-90) scale(1,-1)"><path d="M1.4,0.0 C-0.1,3.5 1.4,4.6 5.9,5.6 C8.9,5.6 8.1,4.1 7.2,2.6 C3.2,4.2 3.9,1.1 7.2,0.0 Z" fill="#64aef7" opacity="0.95"/><path d="M-0.8,-2.6 L-1.0,-2.0 L-1.3,-1.4 L-1.5,-0.9 L-1.7,-0.3 L-1.8,0.2 L-1.9,0.7 L-2.0,1.3 L-2.1,1.8 L-2.1,2.3 L-2.1,2.8 L-2.1,3.3 L-2.0,3.9 L-1.8,4.4 L-1.6,4.8 L-1.4,5.3 L-1.1,5.8 L-0.7,6.2 L-0.3,6.5 L0.2,6.9 L0.6,7.2 L1.2,7.5 L1.7,7.8 L2.3,8.1 L3.1,8.4 L3.8,8.4 L4.3,8.5 L4.8,8.5 L5.2,8.4 L5.7,8.4 L6.1,8.4 L6.6,8.3 L7.0,8.3 L7.4,8.2 L7.9,8.1 L8.3,8.1 L8.7,8.0 L9.1,7.9 L9.6,7.8 L10.0,7.6 L10.4,7.5 L10.7,7.4 L11.1,7.3 L11.5,7.1 L11.9,6.9 L12.3,6.8 L12.6,6.6 L13.0,6.4 L13.3,6.2 L12.7,4.8 L12.3,4.9 L12.0,5.0 L11.6,5.1 L11.3,5.2 L10.9,5.3 L10.6,5.4 L10.2,5.5 L9.9,5.5 L9.5,5.6 L9.1,5.7 L8.7,5.7 L8.4,5.7 L8.0,5.8 L7.6,5.8 L7.2,5.8 L6.8,5.8 L6.4,5.8 L6.0,5.8 L5.6,5.8 L5.2,5.7 L4.8,5.7 L4.4,5.7 L4.0,5.6 L3.8,5.6 L3.4,5.5 L2.9,5.3 L2.5,5.1 L2.1,4.9 L1.8,4.6 L1.5,4.4 L1.3,4.2 L1.1,4.0 L1.0,3.8 L0.9,3.6 L0.8,3.4 L0.7,3.2 L0.7,2.9 L0.7,2.7 L0.6,2.4 L0.7,2.1 L0.7,1.7 L0.8,1.3 L0.9,0.9 L1.0,0.5 L1.2,0.1 L1.3,-0.4 L1.5,-0.9 L1.8,-1.4 Z" fill="#fcd68a"/></g>

<!-- ===== ISLANDS ===== -->
<g stroke="#fcd68a" stroke-width="7" stroke-linejoin="round">
  <path d="M95,461.5 L204,461.5 Q209,462 209,470 L205,483 L195,498 L177,505.5 L170,512 L170.5,537 L173,555 L169,564 L150,565.5 L146,569.5 L95,570.5 Z" fill="#ec6f6e" clip-path="url(#rightOfLeft)"/>
  <path d="M247,465 L350,464.5 L356.5,481 L351,490 L353,496 L356.5,502 L354,509 L338,522 L332,529 L321.5,532 L321.5,556.5 L218,555 L207,549 L202,538 L204,526 L216,511 L234,497 L243.5,480 Z" fill="#ec6f6e"/>
  <path d="M400.5,466 Q401,465 406,465.5 L489,475.5 L491.5,490 L482,504 L478.5,520 L481,537.5 L488,546 L491.5,560 L490,580 L486,586.5 L418,584.5 L364,572.5 Q357.5,569 357,563 Q358,553 365,549.5 L377.5,544 L391,540.5 L396,530.5 L398,521 L400.5,511 L405.5,503.5 L400.5,490 Z" fill="#ec6f6e"/>
  <path d="M527,491 Q527,488.5 532,488.5 L625,488.5 L625,596 L536,596 L529.5,590 L531,560 L521,540 L518.5,510 Z" fill="#ec6f6e" clip-path="url(#leftOfSide)"/>
</g>
<g clip-path="url(#rightOfLeft)"><g clip-path="url(#islA)">
<polyline points="92.9,496.7 97.9,496.7 102.9,496.7 107.9,496.8 112.9,496.8 117.9,496.8 122.9,496.7 127.9,496.7 132.9,496.7 137.9,496.7 142.9,496.6 147.9,496.6 152.9,496.5 157.9,496.4 162.9,496.4 167.9,496.3" fill="none" stroke="#f6968f" stroke-width="0.9" stroke-opacity="0.75" stroke-linecap="round"/>
<polyline points="77.7,528.3 82.7,528.3 87.7,528.3 92.7,528.3 97.7,528.2 102.7,528.2 107.7,528.2 112.7,528.1 117.7,528.1 122.7,528.0 127.7,527.9 132.7,527.9 137.7,527.8 142.7,527.7 147.7,527.7 152.7,527.6 157.7,527.5 162.7,527.5 167.7,527.4" fill="none" stroke="#d24d54" stroke-width="2.2" stroke-opacity="0.68" stroke-linecap="round"/>
<polyline points="89.3,496.7 94.3,496.6 99.3,496.6 104.3,496.5 109.3,496.5 114.3,496.4 119.3,496.4 124.3,496.3 129.3,496.3 134.3,496.3 139.3,496.3 144.3,496.2 149.3,496.3 154.3,496.3 159.3,496.3 164.3,496.3 169.3,496.4 174.3,496.4 179.3,496.5 184.3,496.5 189.3,496.6 194.3,496.6 199.3,496.7 204.3,496.8 209.3,496.8 214.3,496.9 219.3,497.0 224.3,497.0 229.3,497.1" fill="none" stroke="#d24d54" stroke-width="2.6" stroke-opacity="0.61" stroke-linecap="round"/>
<polyline points="107.9,466.1 112.9,466.2 117.9,466.3 122.9,466.3 127.9,466.4 132.9,466.5 137.9,466.5 142.9,466.6 147.9,466.6 152.9,466.7 157.9,466.7 162.9,466.7 167.9,466.7 172.9,466.7 177.9,466.7 182.9,466.7 187.9,466.7 192.9,466.7 197.9,466.6" fill="none" stroke="#d24d54" stroke-width="1.1" stroke-opacity="0.39" stroke-linecap="round"/>
<polyline points="67.8,474.1 72.8,474.2 77.8,474.2 82.8,474.3 87.8,474.3 92.8,474.4 97.8,474.4 102.8,474.4 107.8,474.5 112.8,474.5 117.8,474.5 122.8,474.5 127.8,474.4 132.8,474.4 137.8,474.4 142.8,474.3 147.8,474.3 152.8,474.2 157.8,474.2 162.8,474.1 167.8,474.0 172.8,474.0 177.8,473.9 182.8,473.8 187.8,473.8 192.8,473.7 197.8,473.7" fill="none" stroke="#f6968f" stroke-width="1.4" stroke-opacity="0.43" stroke-linecap="round"/>
<polyline points="131.0,527.1 136.0,527.2 141.0,527.2 146.0,527.3 151.0,527.3 156.0,527.4 161.0,527.4 166.0,527.4 171.0,527.4 176.0,527.5 181.0,527.5 186.0,527.4 191.0,527.4 196.0,527.4 201.0,527.4 206.0,527.3 211.0,527.3 216.0,527.2 221.0,527.2 226.0,527.1 231.0,527.0 236.0,527.0 241.0,526.9 246.0,526.8" fill="none" stroke="#e05e64" stroke-width="2.6" stroke-opacity="0.41" stroke-linecap="round"/>
<polyline points="114.4,466.7 119.4,466.7 124.4,466.6 129.4,466.5 134.4,466.5 139.4,466.4 144.4,466.3 149.4,466.3 154.4,466.2 159.4,466.1 164.4,466.1 169.4,466.0 174.4,466.0 179.4,466.0 184.4,465.9 189.4,465.9 194.4,465.9 199.4,465.9 204.4,465.9 209.4,465.9 214.4,465.9 219.4,465.9" fill="none" stroke="#d24d54" stroke-width="2.8" stroke-opacity="0.39" stroke-linecap="round"/>
<polyline points="124.0,514.0 129.0,514.0 134.0,514.0 139.0,514.0 144.0,514.0 149.0,514.1 154.0,514.1 159.0,514.1 164.0,514.2 169.0,514.2 174.0,514.3 179.0,514.4 184.0,514.4 189.0,514.5 194.0,514.6 199.0,514.6 204.0,514.7 209.0,514.8 214.0,514.8 219.0,514.9 224.0,514.9 229.0,514.9 234.0,515.0" fill="none" stroke="#f6968f" stroke-width="2.7" stroke-opacity="0.53" stroke-linecap="round"/>
<polyline points="88.9,480.3 93.9,480.2 98.9,480.2 103.9,480.1 108.9,480.1 113.9,480.0 118.9,479.9 123.9,479.9 128.9,479.8 133.9,479.7 138.9,479.7 143.9,479.6 148.9,479.6 153.9,479.5 158.9,479.5 163.9,479.4 168.9,479.4 173.9,479.4 178.9,479.4" fill="none" stroke="#f6968f" stroke-width="1.7" stroke-opacity="0.42" stroke-linecap="round"/>
<polyline points="111.5,528.4 116.5,528.4 121.5,528.5 126.5,528.5 131.5,528.6 136.5,528.6 141.5,528.7 146.5,528.7 151.5,528.8 156.5,528.9 161.5,528.9 166.5,529.0 171.5,529.1 176.5,529.1 181.5,529.2 186.5,529.2 191.5,529.3 196.5,529.3 201.5,529.3 206.5,529.4 211.5,529.4 216.5,529.4 221.5,529.4" fill="none" stroke="#f6968f" stroke-width="1.2" stroke-opacity="0.73" stroke-linecap="round"/>
<polyline points="85.2,493.5 90.2,493.5 95.2,493.5 100.2,493.5 105.2,493.5 110.2,493.6 115.2,493.6 120.2,493.7 125.2,493.7 130.2,493.8 135.2,493.9 140.2,493.9 145.2,494.0 150.2,494.1 155.2,494.1 160.2,494.2 165.2,494.3 170.2,494.3 175.2,494.4 180.2,494.4 185.2,494.4" fill="none" stroke="#e05e64" stroke-width="1.8" stroke-opacity="0.64" stroke-linecap="round"/>
<polyline points="107.6,491.7 112.6,491.6 117.6,491.6 122.6,491.6 127.6,491.6 132.6,491.7 137.6,491.7 142.6,491.7 147.6,491.8 152.6,491.8 157.6,491.9 162.6,491.9 167.6,492.0 172.6,492.1 177.6,492.1 182.6,492.2 187.6,492.3 192.6,492.3 197.6,492.4 202.6,492.4 207.6,492.5" fill="none" stroke="#f48c88" stroke-width="1.9" stroke-opacity="0.36" stroke-linecap="round"/>
<polyline points="121.4,524.3 126.4,524.3 131.4,524.2 136.4,524.2 141.4,524.2 146.4,524.1 151.4,524.1 156.4,524.1 161.4,524.1 166.4,524.1 171.4,524.1 176.4,524.2 181.4,524.2 186.4,524.2 191.4,524.3 196.4,524.3" fill="none" stroke="#d24d54" stroke-width="2.5" stroke-opacity="0.73" stroke-linecap="round"/>
<polyline points="110.4,491.1 115.4,491.0 120.4,491.0 125.4,491.0 130.4,490.9 135.4,490.9 140.4,490.9 145.4,490.9 150.4,490.9 155.4,490.9 160.4,491.0 165.4,491.0 170.4,491.0" fill="none" stroke="#d24d54" stroke-width="1.6" stroke-opacity="0.58" stroke-linecap="round"/>
<path d="M95,461.5 L204,461.5 Q209,462 209,470 L205,483 L195,498 L177,505.5 L170,512 L170.5,537 L173,555 L169,564 L150,565.5 L146,569.5 L95,570.5 Z" fill="none" stroke="#c8383c" stroke-width="10" stroke-opacity="0.85" stroke-linejoin="round"/>
<path d="M83.0,544.0 L230.0,544.0 L230.0,550.0 L83.0,550.0 Z" fill="#fbe4dc"/>
<path d="M83.0,550.0 L230.0,550.0 L230.0,573.0 L83.0,573.0 Z" fill="#f9ca68"/>
<ellipse cx="202.5" cy="558.0" rx="10.8" ry="6.8" fill="#f0ac3e" opacity="0.55" transform="rotate(2.4 201.7 556.6)"/>
<ellipse cx="187.7" cy="564.5" rx="8.8" ry="4.8" fill="#f0ac3e" opacity="0.55" transform="rotate(-4.9 186.9 563.1)"/>
<ellipse cx="208.8" cy="567.4" rx="12.0" ry="7.5" fill="#f0ac3e" opacity="0.55" transform="rotate(3.0 208.0 566.0)"/>
<ellipse cx="181.0" cy="564.1" rx="10.1" ry="7.1" fill="#f0ac3e" opacity="0.55" transform="rotate(-5.5 180.2 562.7)"/>
<ellipse cx="199.7" cy="558.9" rx="10.5" ry="7.0" fill="#f0ac3e" opacity="0.55" transform="rotate(-4.7 198.9 557.5)"/>
<ellipse cx="131.9" cy="556.9" rx="12.1" ry="5.6" fill="#f0ac3e" opacity="0.55" transform="rotate(-1.5 131.1 555.5)"/>
<ellipse cx="171.9" cy="561.3" rx="10.5" ry="5.6" fill="#f0ac3e" opacity="0.55" transform="rotate(-6.2 171.1 559.9)"/>
<ellipse cx="160.6" cy="567.7" rx="13.1" ry="5.7" fill="#f0ac3e" opacity="0.55" transform="rotate(-4.0 159.8 566.3)"/>
<ellipse cx="161.1" cy="561.4" rx="14.6" ry="6.8" fill="#f0ac3e" opacity="0.55" transform="rotate(7.8 160.3 560.0)"/>
<ellipse cx="201.7" cy="556.6" rx="10.2" ry="6.2" fill="#fde6aa" transform="rotate(2.4 201.7 556.6)"/>
<ellipse cx="186.9" cy="563.1" rx="8.2" ry="4.2" fill="#fde2a0" transform="rotate(-4.9 186.9 563.1)"/>
<ellipse cx="208.0" cy="566.0" rx="11.4" ry="6.9" fill="#fee8b2" transform="rotate(3.0 208.0 566.0)"/>
<ellipse cx="180.2" cy="562.7" rx="9.5" ry="6.5" fill="#fcdc92" transform="rotate(-5.5 180.2 562.7)"/>
<ellipse cx="198.9" cy="557.5" rx="9.9" ry="6.4" fill="#fde6aa" transform="rotate(-4.7 198.9 557.5)"/>
<ellipse cx="131.1" cy="555.5" rx="11.5" ry="5.0" fill="#fee8b2" transform="rotate(-1.5 131.1 555.5)"/>
<ellipse cx="171.1" cy="559.9" rx="9.9" ry="5.0" fill="#fcdc92" transform="rotate(-6.2 171.1 559.9)"/>
<ellipse cx="159.8" cy="566.3" rx="12.5" ry="5.1" fill="#fde2a0" transform="rotate(-4.0 159.8 566.3)"/>
<ellipse cx="160.3" cy="560.0" rx="14.0" ry="6.2" fill="#fde6aa" transform="rotate(7.8 160.3 560.0)"/>
</g>
<g clip-path="url(#islB)">
<polyline points="180.2,503.7 185.2,503.7 190.2,503.7 195.2,503.8 200.2,503.8 205.2,503.8 210.2,503.8 215.2,503.8 220.2,503.8 225.2,503.8 230.2,503.8 235.2,503.8 240.2,503.7 245.2,503.7 250.2,503.7 255.2,503.6 260.2,503.5 265.2,503.5 270.2,503.4 275.2,503.3 280.2,503.2 285.2,503.1 290.2,503.0 295.2,502.8 300.2,502.7 305.2,502.6 310.2,502.4 315.2,502.3 320.2,502.1 325.2,502.0 330.2,501.8 335.2,501.7 340.2,501.5 345.2,501.4 350.2,501.2 355.2,501.1 360.2,501.0 365.2,500.9 370.2,500.8" fill="none" stroke="#dc555c" stroke-width="1.6" stroke-opacity="0.55" stroke-linecap="round"/>
<polyline points="241.9,518.7 246.9,518.6 251.9,518.5 256.9,518.4 261.9,518.3 266.9,518.2 271.9,518.1 276.9,518.0 281.9,517.9 286.9,517.8 291.9,517.8 296.9,517.7 301.9,517.6 306.9,517.5 311.9,517.4 316.9,517.4 321.9,517.3 326.9,517.2 331.9,517.1 336.9,517.0 341.9,516.9 346.9,516.8 351.9,516.7 356.9,516.7 361.9,516.6 366.9,516.5" fill="none" stroke="#f6968f" stroke-width="1.4" stroke-opacity="0.77" stroke-linecap="round"/>
<polyline points="196.3,481.1 201.3,481.0 206.3,480.9 211.3,480.9 216.3,480.8 221.3,480.7 226.3,480.6 231.3,480.5 236.3,480.4 241.3,480.3 246.3,480.2 251.3,480.1 256.3,480.0 261.3,479.9 266.3,479.8 271.3,479.7 276.3,479.7 281.3,479.6 286.3,479.5 291.3,479.5 296.3,479.5 301.3,479.4" fill="none" stroke="#d24d54" stroke-width="1.4" stroke-opacity="0.54" stroke-linecap="round"/>
<polyline points="195.5,506.9 200.5,506.9 205.5,506.8 210.5,506.8 215.5,506.7 220.5,506.6 225.5,506.5 230.5,506.4 235.5,506.2 240.5,506.1 245.5,505.9 250.5,505.8 255.5,505.6 260.5,505.4 265.5,505.3 270.5,505.1 275.5,504.9 280.5,504.7 285.5,504.6 290.5,504.4 295.5,504.2 300.5,504.1 305.5,503.9" fill="none" stroke="#dc555c" stroke-width="0.9" stroke-opacity="0.35" stroke-linecap="round"/>
<polyline points="196.5,480.8 201.5,480.9 206.5,480.9 211.5,480.9 216.5,481.0 221.5,481.0 226.5,481.0 231.5,481.0 236.5,481.0 241.5,481.0 246.5,481.0 251.5,481.0 256.5,480.9 261.5,480.9 266.5,480.8 271.5,480.8 276.5,480.7 281.5,480.6 286.5,480.5 291.5,480.4 296.5,480.3 301.5,480.2 306.5,480.1 311.5,480.0 316.5,479.9 321.5,479.8 326.5,479.7 331.5,479.6 336.5,479.5 341.5,479.4 346.5,479.4 351.5,479.3 356.5,479.3 361.5,479.2 366.5,479.2 371.5,479.2 376.5,479.2" fill="none" stroke="#f6968f" stroke-width="2.1" stroke-opacity="0.41" stroke-linecap="round"/>
<polyline points="170.5,467.2 175.5,467.2 180.5,467.1 185.5,467.0 190.5,467.0 195.5,466.9 200.5,466.8 205.5,466.8 210.5,466.7 215.5,466.7 220.5,466.6 225.5,466.5 230.5,466.5 235.5,466.5 240.5,466.4 245.5,466.4 250.5,466.4 255.5,466.4 260.5,466.4 265.5,466.4 270.5,466.5 275.5,466.5 280.5,466.5 285.5,466.6 290.5,466.6 295.5,466.7 300.5,466.8 305.5,466.8 310.5,466.9" fill="none" stroke="#f48c88" stroke-width="2.6" stroke-opacity="0.55" stroke-linecap="round"/>
<polyline points="235.5,483.2 240.5,483.1 245.5,483.1 250.5,483.0 255.5,482.9 260.5,482.8 265.5,482.8 270.5,482.7 275.5,482.7 280.5,482.7 285.5,482.6 290.5,482.6 295.5,482.6 300.5,482.6 305.5,482.6 310.5,482.6 315.5,482.7 320.5,482.7 325.5,482.7 330.5,482.7 335.5,482.8 340.5,482.8 345.5,482.8 350.5,482.8 355.5,482.9 360.5,482.9 365.5,482.9 370.5,482.9 375.5,482.9 380.5,483.0 385.5,483.0" fill="none" stroke="#dc555c" stroke-width="2.6" stroke-opacity="0.38" stroke-linecap="round"/>
<polyline points="186.3,503.8 191.3,503.8 196.3,503.8 201.3,503.9 206.3,503.9 211.3,503.9 216.3,503.9 221.3,503.9 226.3,503.8 231.3,503.8 236.3,503.8 241.3,503.8 246.3,503.7 251.3,503.7 256.3,503.6 261.3,503.6 266.3,503.5 271.3,503.4 276.3,503.3 281.3,503.2 286.3,503.1 291.3,503.0 296.3,502.9 301.3,502.7 306.3,502.6 311.3,502.5 316.3,502.3 321.3,502.2 326.3,502.0 331.3,501.9 336.3,501.7 341.3,501.6 346.3,501.4 351.3,501.3 356.3,501.2 361.3,501.1 366.3,501.0 371.3,500.9 376.3,500.9 381.3,500.8 386.3,500.8" fill="none" stroke="#f6968f" stroke-width="2.1" stroke-opacity="0.68" stroke-linecap="round"/>
<polyline points="243.3,500.0 248.3,499.9 253.3,499.8 258.3,499.7 263.3,499.6 268.3,499.5 273.3,499.4 278.3,499.3 283.3,499.3 288.3,499.2 293.3,499.2 298.3,499.1 303.3,499.1" fill="none" stroke="#f48c88" stroke-width="1.7" stroke-opacity="0.42" stroke-linecap="round"/>
<polyline points="217.2,508.8 222.2,508.7 227.2,508.6 232.2,508.4 237.2,508.3 242.2,508.1 247.2,508.0 252.2,507.9 257.2,507.8 262.2,507.7 267.2,507.6 272.2,507.5 277.2,507.4 282.2,507.3 287.2,507.2 292.2,507.2 297.2,507.1 302.2,507.0 307.2,507.0 312.2,506.9 317.2,506.9 322.2,506.9 327.2,506.8 332.2,506.8 337.2,506.8 342.2,506.7 347.2,506.7" fill="none" stroke="#d24d54" stroke-width="1.2" stroke-opacity="0.44" stroke-linecap="round"/>
<polyline points="218.8,518.9 223.8,518.7 228.8,518.6 233.8,518.5 238.8,518.3 243.8,518.2 248.8,518.1 253.8,518.0 258.8,517.9 263.8,517.8 268.8,517.7 273.8,517.6 278.8,517.5 283.8,517.4 288.8,517.3 293.8,517.3 298.8,517.2 303.8,517.1 308.8,517.0 313.8,517.0 318.8,516.9 323.8,516.8 328.8,516.7 333.8,516.6 338.8,516.6 343.8,516.5 348.8,516.4 353.8,516.3 358.8,516.2 363.8,516.2 368.8,516.1 373.8,516.1 378.8,516.0 383.8,516.0 388.8,515.9 393.8,515.9" fill="none" stroke="#e05e64" stroke-width="1.2" stroke-opacity="0.38" stroke-linecap="round"/>
<polyline points="229.0,496.7 234.0,496.6 239.0,496.6 244.0,496.5 249.0,496.4 254.0,496.4 259.0,496.3 264.0,496.3 269.0,496.3 274.0,496.2 279.0,496.2 284.0,496.2 289.0,496.2 294.0,496.2 299.0,496.1 304.0,496.1 309.0,496.1 314.0,496.1 319.0,496.1 324.0,496.0 329.0,496.0 334.0,496.0 339.0,495.9" fill="none" stroke="#d24d54" stroke-width="2.0" stroke-opacity="0.73" stroke-linecap="round"/>
<polyline points="220.3,495.2 225.3,495.2 230.3,495.2 235.3,495.2 240.3,495.1 245.3,495.1 250.3,495.1 255.3,495.1 260.3,495.1 265.3,495.1 270.3,495.1 275.3,495.1 280.3,495.0 285.3,495.0 290.3,495.0 295.3,494.9 300.3,494.9 305.3,494.8" fill="none" stroke="#dc555c" stroke-width="1.3" stroke-opacity="0.47" stroke-linecap="round"/>
<polyline points="187.8,527.6 192.8,527.6 197.8,527.5 202.8,527.4 207.8,527.3 212.8,527.2 217.8,527.0 222.8,526.8 227.8,526.7 232.8,526.5 237.8,526.3 242.8,526.1 247.8,525.8 252.8,525.6 257.8,525.4 262.8,525.2 267.8,524.9 272.8,524.7 277.8,524.5 282.8,524.3 287.8,524.1 292.8,523.9 297.8,523.7 302.8,523.5 307.8,523.4 312.8,523.2 317.8,523.1 322.8,523.0 327.8,522.9 332.8,522.8 337.8,522.7 342.8,522.6 347.8,522.6" fill="none" stroke="#e05e64" stroke-width="2.9" stroke-opacity="0.67" stroke-linecap="round"/>
<path d="M247,465 L350,464.5 L356.5,481 L351,490 L353,496 L356.5,502 L354,509 L338,522 L332,529 L321.5,532 L321.5,556.5 L218,555 L207,549 L202,538 L204,526 L216,511 L234,497 L243.5,480 Z" fill="none" stroke="#c8383c" stroke-width="10" stroke-opacity="0.85" stroke-linejoin="round"/>
<path d="M185.0,532.0 L378.0,527.0 L378.0,533.0 L185.0,538.0 Z" fill="#fbe4dc"/>
<path d="M185.0,538.0 L378.0,533.0 L378.0,552.0 L185.0,552.0 Z" fill="#f9ca68"/>
<ellipse cx="326.4" cy="545.6" rx="12.3" ry="5.4" fill="#f0ac3e" opacity="0.55" transform="rotate(-6.6 325.6 544.2)"/>
<ellipse cx="283.4" cy="546.8" rx="9.8" ry="6.9" fill="#f0ac3e" opacity="0.55" transform="rotate(7.1 282.6 545.4)"/>
<ellipse cx="320.0" cy="543.6" rx="10.9" ry="7.2" fill="#f0ac3e" opacity="0.55" transform="rotate(-1.9 319.2 542.2)"/>
<ellipse cx="336.1" cy="546.3" rx="15.1" ry="7.5" fill="#f0ac3e" opacity="0.55" transform="rotate(-0.4 335.3 544.9)"/>
<ellipse cx="287.0" cy="548.6" rx="8.6" ry="4.7" fill="#f0ac3e" opacity="0.55" transform="rotate(1.1 286.2 547.2)"/>
<ellipse cx="252.9" cy="543.7" rx="10.1" ry="6.4" fill="#f0ac3e" opacity="0.55" transform="rotate(-5.7 252.1 542.3)"/>
<ellipse cx="209.9" cy="545.5" rx="9.3" ry="5.8" fill="#f0ac3e" opacity="0.55" transform="rotate(3.2 209.1 544.1)"/>
<ellipse cx="210.5" cy="544.3" rx="9.6" ry="5.8" fill="#f0ac3e" opacity="0.55" transform="rotate(3.8 209.7 542.9)"/>
<ellipse cx="215.9" cy="547.5" rx="12.7" ry="5.7" fill="#f0ac3e" opacity="0.55" transform="rotate(6.1 215.1 546.1)"/>
<ellipse cx="321.4" cy="542.6" rx="13.6" ry="5.8" fill="#f0ac3e" opacity="0.55" transform="rotate(-6.2 320.6 541.2)"/>
<ellipse cx="211.1" cy="546.7" rx="14.5" ry="5.8" fill="#f0ac3e" opacity="0.55" transform="rotate(-0.4 210.3 545.3)"/>
<ellipse cx="226.1" cy="545.1" rx="14.1" ry="6.0" fill="#f0ac3e" opacity="0.55" transform="rotate(-1.2 225.3 543.7)"/>
<ellipse cx="325.6" cy="544.2" rx="11.7" ry="4.8" fill="#fee8b2" transform="rotate(-6.6 325.6 544.2)"/>
<ellipse cx="282.6" cy="545.4" rx="9.2" ry="6.3" fill="#fee8b2" transform="rotate(7.1 282.6 545.4)"/>
<ellipse cx="319.2" cy="542.2" rx="10.3" ry="6.6" fill="#fee8b2" transform="rotate(-1.9 319.2 542.2)"/>
<ellipse cx="335.3" cy="544.9" rx="14.5" ry="6.9" fill="#fde6aa" transform="rotate(-0.4 335.3 544.9)"/>
<ellipse cx="286.2" cy="547.2" rx="8.0" ry="4.1" fill="#fee8b2" transform="rotate(1.1 286.2 547.2)"/>
<ellipse cx="252.1" cy="542.3" rx="9.5" ry="5.8" fill="#fee8b2" transform="rotate(-5.7 252.1 542.3)"/>
<ellipse cx="209.1" cy="544.1" rx="8.7" ry="5.2" fill="#fee8b2" transform="rotate(3.2 209.1 544.1)"/>
<ellipse cx="209.7" cy="542.9" rx="9.0" ry="5.2" fill="#fde2a0" transform="rotate(3.8 209.7 542.9)"/>
<ellipse cx="215.1" cy="546.1" rx="12.1" ry="5.1" fill="#fde2a0" transform="rotate(6.1 215.1 546.1)"/>
<ellipse cx="320.6" cy="541.2" rx="13.0" ry="5.2" fill="#fee8b2" transform="rotate(-6.2 320.6 541.2)"/>
<ellipse cx="210.3" cy="545.3" rx="13.9" ry="5.2" fill="#fcdc92" transform="rotate(-0.4 210.3 545.3)"/>
<ellipse cx="225.3" cy="543.7" rx="13.5" ry="5.4" fill="#fcdc92" transform="rotate(-1.2 225.3 543.7)"/>
</g>
<g clip-path="url(#islC)">
<polyline points="376.6,471.8 381.6,471.8 386.6,471.7 391.6,471.7 396.6,471.6 401.6,471.6 406.6,471.5 411.6,471.5 416.6,471.4 421.6,471.4 426.6,471.4 431.6,471.3 436.6,471.3 441.6,471.3 446.6,471.3 451.6,471.3 456.6,471.3 461.6,471.3 466.6,471.3 471.6,471.3 476.6,471.4 481.6,471.4 486.6,471.5 491.6,471.5 496.6,471.6 501.6,471.7 506.6,471.7 511.6,471.8 516.6,471.9 521.6,471.9" fill="none" stroke="#e05e64" stroke-width="1.4" stroke-opacity="0.37" stroke-linecap="round"/>
<polyline points="317.5,510.5 322.5,510.5 327.5,510.5 332.5,510.6 337.5,510.6 342.5,510.7 347.5,510.8 352.5,511.2 357.5,511.5 362.5,511.9 367.5,512.3 372.5,512.8 377.5,513.2 382.5,513.7 387.5,514.2 392.5,514.7 397.5,515.3 402.5,515.8 407.5,516.4 412.5,516.9 417.5,517.4 422.5,518.0 427.5,518.5 432.5,519.0 437.5,519.5 442.5,520.0 447.5,520.4 452.5,520.9 457.5,521.3 462.5,521.7 467.5,522.1 472.5,522.4" fill="none" stroke="#e05e64" stroke-width="1.8" stroke-opacity="0.63" stroke-linecap="round"/>
<polyline points="332.6,522.5 337.6,522.4 342.6,522.4 347.6,522.5 352.6,522.7 357.6,523.0 362.6,523.4 367.6,523.8 372.6,524.3 377.6,524.8 382.6,525.3 387.6,525.9 392.6,526.5 397.6,527.2 402.6,527.8 407.6,528.5 412.6,529.2 417.6,529.9 422.6,530.7 427.6,531.4 432.6,532.1 437.6,532.9 442.6,533.6 447.6,534.3 452.6,535.0 457.6,535.7 462.6,536.3 467.6,537.0 472.6,537.5 477.6,538.1 482.6,538.6 487.6,539.1 492.6,539.5 497.6,539.8 502.6,540.1 507.6,540.1 512.6,540.1 517.6,540.0" fill="none" stroke="#dc555c" stroke-width="1.6" stroke-opacity="0.59" stroke-linecap="round"/>
<polyline points="338.4,525.7 343.4,525.7 348.4,525.8 353.4,526.1 358.4,526.4 363.4,526.8 368.4,527.2 373.4,527.7 378.4,528.3 383.4,528.8 388.4,529.4 393.4,530.1 398.4,530.7 403.4,531.4 408.4,532.1 413.4,532.9 418.4,533.6 423.4,534.4 428.4,535.2 433.4,535.9 438.4,536.7 443.4,537.5 448.4,538.2 453.4,538.9 458.4,539.7 463.4,540.3 468.4,541.0 473.4,541.6 478.4,542.2 483.4,542.7 488.4,543.2 493.4,543.7 498.4,544.0 503.4,544.3" fill="none" stroke="#dc555c" stroke-width="1.2" stroke-opacity="0.59" stroke-linecap="round"/>
<polyline points="363.1,494.5 368.1,494.7 373.1,495.0 378.1,495.3 383.1,495.6 388.1,495.9 393.1,496.2 398.1,496.5 403.1,496.7 408.1,497.0 413.1,497.3 418.1,497.6 423.1,497.9 428.1,498.1 433.1,498.4 438.1,498.7 443.1,498.9 448.1,499.1 453.1,499.3 458.1,499.5 463.1,499.7 468.1,499.9 473.1,500.1 478.1,500.3 483.1,500.4 488.1,500.5 493.1,500.7 498.1,500.8 503.1,500.9 508.1,500.8 513.1,500.8 518.1,500.8 523.1,500.8" fill="none" stroke="#f48c88" stroke-width="1.0" stroke-opacity="0.79" stroke-linecap="round"/>
<polyline points="333.8,509.7 338.8,509.6 343.8,509.6 348.8,509.7 353.8,509.8 358.8,510.1 363.8,510.3 368.8,510.6 373.8,510.9 378.8,511.2 383.8,511.6 388.8,512.0 393.8,512.4 398.8,512.8 403.8,513.2 408.8,513.7 413.8,514.2 418.8,514.7 423.8,515.2 428.8,515.7 433.8,516.2 438.8,516.8 443.8,517.3 448.8,517.8" fill="none" stroke="#f48c88" stroke-width="1.1" stroke-opacity="0.77" stroke-linecap="round"/>
<polyline points="365.9,523.6 370.9,524.1 375.9,524.7 380.9,525.3 385.9,525.9 390.9,526.6 395.9,527.3 400.9,528.0 405.9,528.6 410.9,529.3 415.9,530.0 420.9,530.7 425.9,531.4 430.9,532.1 435.9,532.7 440.9,533.4 445.9,534.0 450.9,534.6 455.9,535.2 460.9,535.7 465.9,536.2" fill="none" stroke="#f6968f" stroke-width="1.9" stroke-opacity="0.70" stroke-linecap="round"/>
<polyline points="367.4,497.4 372.4,497.7 377.4,498.0 382.4,498.3 387.4,498.7 392.4,499.1 397.4,499.4 402.4,499.8 407.4,500.2 412.4,500.6 417.4,501.0 422.4,501.4 427.4,501.8 432.4,502.2 437.4,502.6 442.4,502.9 447.4,503.3 452.4,503.6 457.4,503.9 462.4,504.2 467.4,504.5 472.4,504.7" fill="none" stroke="#dc555c" stroke-width="2.8" stroke-opacity="0.54" stroke-linecap="round"/>
<polyline points="386.7,501.5 391.7,501.9 396.7,502.3 401.7,502.7 406.7,503.1 411.7,503.4 416.7,503.8 421.7,504.2 426.7,504.5 431.7,504.9 436.7,505.2 441.7,505.6 446.7,505.9 451.7,506.2 456.7,506.4" fill="none" stroke="#f48c88" stroke-width="2.0" stroke-opacity="0.52" stroke-linecap="round"/>
<polyline points="343.3,505.8 348.3,505.9 353.3,506.1 358.3,506.3 363.3,506.6 368.3,506.9 373.3,507.2 378.3,507.6 383.3,508.0 388.3,508.4 393.3,508.9 398.3,509.3 403.3,509.8 408.3,510.3 413.3,510.8 418.3,511.4 423.3,511.9 428.3,512.4 433.3,513.0 438.3,513.5 443.3,514.0 448.3,514.5 453.3,515.0 458.3,515.5 463.3,515.9" fill="none" stroke="#f6968f" stroke-width="2.5" stroke-opacity="0.64" stroke-linecap="round"/>
<polyline points="350.6,528.0 355.6,528.4 360.6,528.9 365.6,529.4 370.6,529.9 375.6,530.5 380.6,531.1 385.6,531.8 390.6,532.4 395.6,533.1 400.6,533.8 405.6,534.4 410.6,535.1 415.6,535.8 420.6,536.5 425.6,537.2 430.6,537.9 435.6,538.5 440.6,539.2 445.6,539.8 450.6,540.5 455.6,541.1 460.6,541.7 465.6,542.2 470.6,542.8 475.6,543.3 480.6,543.7 485.6,544.2 490.6,544.6 495.6,545.0 500.6,545.3 505.6,545.4" fill="none" stroke="#e05e64" stroke-width="2.3" stroke-opacity="0.43" stroke-linecap="round"/>
<polyline points="336.7,479.1 341.7,479.1 346.7,479.0 351.7,479.1 356.7,479.1 361.7,479.1 366.7,479.1 371.7,479.1 376.7,479.2 381.7,479.2 386.7,479.2 391.7,479.2 396.7,479.3 401.7,479.3 406.7,479.4 411.7,479.4 416.7,479.5 421.7,479.5 426.7,479.6 431.7,479.7 436.7,479.8 441.7,479.9 446.7,480.0 451.7,480.1 456.7,480.2 461.7,480.3 466.7,480.4 471.7,480.5 476.7,480.7 481.7,480.8 486.7,480.9 491.7,481.1 496.7,481.2 501.7,481.3 506.7,481.4" fill="none" stroke="#f48c88" stroke-width="1.8" stroke-opacity="0.58" stroke-linecap="round"/>
<polyline points="363.9,512.6 368.9,513.0 373.9,513.4 378.9,513.9 383.9,514.4 388.9,514.9 393.9,515.4 398.9,516.0 403.9,516.6 408.9,517.2 413.9,517.8 418.9,518.4 423.9,519.0 428.9,519.6 433.9,520.2 438.9,520.8 443.9,521.3 448.9,521.9 453.9,522.4 458.9,522.9 463.9,523.4 468.9,523.8" fill="none" stroke="#f48c88" stroke-width="2.4" stroke-opacity="0.68" stroke-linecap="round"/>
<polyline points="368.4,536.7 373.4,537.3 378.4,538.0 383.4,538.7 388.4,539.4 393.4,540.2 398.4,541.0 403.4,541.9 408.4,542.7 413.4,543.6 418.4,544.5 423.4,545.4 428.4,546.3 433.4,547.2 438.4,548.1 443.4,549.0 448.4,549.8 453.4,550.7" fill="none" stroke="#dc555c" stroke-width="1.4" stroke-opacity="0.42" stroke-linecap="round"/>
<path d="M400.5,466 Q401,465 406,465.5 L489,475.5 L491.5,490 L482,504 L478.5,520 L481,537.5 L488,546 L491.5,560 L490,580 L486,586.5 L418,584.5 L364,572.5 Q357.5,569 357,563 Q358,553 365,549.5 L377.5,544 L391,540.5 L396,530.5 L398,521 L400.5,511 L405.5,503.5 L400.5,490 Z" fill="none" stroke="#c8383c" stroke-width="10" stroke-opacity="0.85" stroke-linejoin="round"/>
<path d="M335.0,538.0 L512.0,560.0 L512.0,566.0 L335.0,544.0 Z" fill="#fbe4dc"/>
<path d="M335.0,544.0 L512.0,566.0 L512.0,590.0 L335.0,590.0 Z" fill="#f9ca68"/>
<ellipse cx="376.1" cy="563.1" rx="10.7" ry="5.5" fill="#f0ac3e" opacity="0.55" transform="rotate(2.2 375.3 561.7)"/>
<ellipse cx="370.4" cy="554.9" rx="10.0" ry="5.8" fill="#f0ac3e" opacity="0.55" transform="rotate(5.7 369.6 553.5)"/>
<ellipse cx="415.6" cy="568.3" rx="10.2" ry="7.5" fill="#f0ac3e" opacity="0.55" transform="rotate(-5.7 414.8 566.9)"/>
<ellipse cx="438.5" cy="583.7" rx="11.4" ry="6.8" fill="#f0ac3e" opacity="0.55" transform="rotate(3.2 437.7 582.3)"/>
<ellipse cx="436.3" cy="578.4" rx="13.1" ry="7.1" fill="#f0ac3e" opacity="0.55" transform="rotate(2.9 435.5 577.0)"/>
<ellipse cx="443.7" cy="578.2" rx="11.8" ry="5.5" fill="#f0ac3e" opacity="0.55" transform="rotate(6.3 442.9 576.8)"/>
<ellipse cx="389.0" cy="561.3" rx="11.4" ry="6.7" fill="#f0ac3e" opacity="0.55" transform="rotate(-0.3 388.2 559.9)"/>
<ellipse cx="358.5" cy="574.7" rx="14.6" ry="6.2" fill="#f0ac3e" opacity="0.55" transform="rotate(6.3 357.7 573.3)"/>
<ellipse cx="400.7" cy="583.0" rx="8.7" ry="7.1" fill="#f0ac3e" opacity="0.55" transform="rotate(-7.4 399.9 581.6)"/>
<ellipse cx="430.2" cy="584.3" rx="9.7" ry="6.9" fill="#f0ac3e" opacity="0.55" transform="rotate(-6.4 429.4 582.9)"/>
<ellipse cx="434.5" cy="575.0" rx="12.4" ry="6.8" fill="#f0ac3e" opacity="0.55" transform="rotate(0.3 433.7 573.6)"/>
<ellipse cx="375.3" cy="561.7" rx="10.1" ry="4.9" fill="#fde2a0" transform="rotate(2.2 375.3 561.7)"/>
<ellipse cx="369.6" cy="553.5" rx="9.4" ry="5.2" fill="#fde6aa" transform="rotate(5.7 369.6 553.5)"/>
<ellipse cx="414.8" cy="566.9" rx="9.6" ry="6.9" fill="#fde2a0" transform="rotate(-5.7 414.8 566.9)"/>
<ellipse cx="437.7" cy="582.3" rx="10.8" ry="6.2" fill="#fde6aa" transform="rotate(3.2 437.7 582.3)"/>
<ellipse cx="435.5" cy="577.0" rx="12.5" ry="6.5" fill="#fee8b2" transform="rotate(2.9 435.5 577.0)"/>
<ellipse cx="442.9" cy="576.8" rx="11.2" ry="4.9" fill="#fde2a0" transform="rotate(6.3 442.9 576.8)"/>
<ellipse cx="388.2" cy="559.9" rx="10.8" ry="6.1" fill="#fde6aa" transform="rotate(-0.3 388.2 559.9)"/>
<ellipse cx="357.7" cy="573.3" rx="14.0" ry="5.6" fill="#fee8b2" transform="rotate(6.3 357.7 573.3)"/>
<ellipse cx="399.9" cy="581.6" rx="8.1" ry="6.5" fill="#fde2a0" transform="rotate(-7.4 399.9 581.6)"/>
<ellipse cx="429.4" cy="582.9" rx="9.1" ry="6.3" fill="#fcdc92" transform="rotate(-6.4 429.4 582.9)"/>
<ellipse cx="433.7" cy="573.6" rx="11.8" ry="6.2" fill="#fcdc92" transform="rotate(0.3 433.7 573.6)"/>
</g>
<g clip-path="url(#leftOfSide)"><g clip-path="url(#islD)">
<polyline points="488.1,519.0 493.1,519.1 498.1,519.1 503.1,519.2 508.1,519.2 513.1,519.3 518.1,519.3 523.1,519.4 528.1,519.4 533.1,519.4 538.1,519.4 543.1,519.4 548.1,519.4 553.1,519.4 558.1,519.3 563.1,519.3 568.1,519.3 573.1,519.2 578.1,519.1 583.1,519.1 588.1,519.0 593.1,519.0 598.1,518.9 603.1,518.8" fill="none" stroke="#f48c88" stroke-width="2.9" stroke-opacity="0.80" stroke-linecap="round"/>
<polyline points="501.2,541.1 506.2,541.1 511.2,541.1 516.2,541.1 521.2,541.0 526.2,541.0 531.2,541.0 536.2,540.9 541.2,540.9 546.2,540.8 551.2,540.7 556.2,540.7 561.2,540.6 566.2,540.5 571.2,540.5" fill="none" stroke="#dc555c" stroke-width="2.2" stroke-opacity="0.46" stroke-linecap="round"/>
<polyline points="483.2,553.3 488.2,553.2 493.2,553.2 498.2,553.1 503.2,553.1 508.2,553.0 513.2,552.9 518.2,552.9 523.2,552.8 528.2,552.8 533.2,552.8 538.2,552.8 543.2,552.8 548.2,552.8 553.2,552.8 558.2,552.8 563.2,552.8 568.2,552.8 573.2,552.9 578.2,552.9 583.2,553.0 588.2,553.0" fill="none" stroke="#e05e64" stroke-width="2.2" stroke-opacity="0.61" stroke-linecap="round"/>
<polyline points="486.9,556.3 491.9,556.3 496.9,556.3 501.9,556.3 506.9,556.3 511.9,556.3 516.9,556.3 521.9,556.3 526.9,556.3 531.9,556.2 536.9,556.2 541.9,556.1 546.9,556.1 551.9,556.0 556.9,556.0 561.9,555.9 566.9,555.8 571.9,555.8 576.9,555.7 581.9,555.6 586.9,555.6 591.9,555.5 596.9,555.5 601.9,555.4 606.9,555.4 611.9,555.4 616.9,555.4 621.9,555.3 626.9,555.3 631.9,555.4 636.9,555.4" fill="none" stroke="#d24d54" stroke-width="2.9" stroke-opacity="0.56" stroke-linecap="round"/>
<polyline points="529.8,545.1 534.8,545.2 539.8,545.3 544.8,545.3 549.8,545.4 554.8,545.5 559.8,545.5 564.8,545.6 569.8,545.6 574.8,545.7" fill="none" stroke="#f6968f" stroke-width="1.2" stroke-opacity="0.67" stroke-linecap="round"/>
<polyline points="495.5,548.0 500.5,548.0 505.5,548.0 510.5,547.9 515.5,547.9 520.5,547.9 525.5,547.8 530.5,547.8 535.5,547.7 540.5,547.6 545.5,547.6 550.5,547.5 555.5,547.4 560.5,547.4 565.5,547.3 570.5,547.2 575.5,547.2 580.5,547.1 585.5,547.1 590.5,547.1 595.5,547.0 600.5,547.0 605.5,547.0" fill="none" stroke="#d24d54" stroke-width="2.5" stroke-opacity="0.56" stroke-linecap="round"/>
<polyline points="500.9,547.5 505.9,547.4 510.9,547.3 515.9,547.3 520.9,547.3 525.9,547.2 530.9,547.2 535.9,547.2 540.9,547.2 545.9,547.2 550.9,547.2 555.9,547.2 560.9,547.3 565.9,547.3 570.9,547.4 575.9,547.4 580.9,547.5 585.9,547.5" fill="none" stroke="#f48c88" stroke-width="1.6" stroke-opacity="0.47" stroke-linecap="round"/>
<polyline points="519.3,503.2 524.3,503.1 529.3,503.1 534.3,503.2 539.3,503.2 544.3,503.2 549.3,503.2 554.3,503.3 559.3,503.3 564.3,503.4 569.3,503.4 574.3,503.5 579.3,503.6 584.3,503.6 589.3,503.7" fill="none" stroke="#e05e64" stroke-width="0.8" stroke-opacity="0.51" stroke-linecap="round"/>
<polyline points="496.0,533.9 501.0,533.9 506.0,533.9 511.0,533.9 516.0,533.9 521.0,533.8 526.0,533.8 531.0,533.8 536.0,533.7 541.0,533.6 546.0,533.6 551.0,533.5 556.0,533.5 561.0,533.4 566.0,533.3 571.0,533.3 576.0,533.2 581.0,533.1 586.0,533.1 591.0,533.0 596.0,533.0" fill="none" stroke="#e05e64" stroke-width="1.0" stroke-opacity="0.42" stroke-linecap="round"/>
<polyline points="498.8,528.9 503.8,528.9 508.8,529.0 513.8,529.0 518.8,529.1 523.8,529.1 528.8,529.2 533.8,529.2 538.8,529.3 543.8,529.4 548.8,529.4 553.8,529.5 558.8,529.6 563.8,529.6 568.8,529.7 573.8,529.7 578.8,529.8 583.8,529.8 588.8,529.9 593.8,529.9 598.8,529.9 603.8,529.9 608.8,529.9" fill="none" stroke="#f48c88" stroke-width="1.5" stroke-opacity="0.59" stroke-linecap="round"/>
<polyline points="482.7,505.7 487.7,505.7 492.7,505.7 497.7,505.6 502.7,505.6 507.7,505.5 512.7,505.5 517.7,505.4 522.7,505.3 527.7,505.3 532.7,505.2 537.7,505.1 542.7,505.1 547.7,505.0 552.7,504.9 557.7,504.9 562.7,504.9 567.7,504.8 572.7,504.8 577.7,504.8" fill="none" stroke="#e05e64" stroke-width="1.0" stroke-opacity="0.46" stroke-linecap="round"/>
<polyline points="502.6,543.3 507.6,543.3 512.6,543.3 517.6,543.4 522.6,543.4 527.6,543.4 532.6,543.5 537.6,543.6 542.6,543.6 547.6,543.7 552.6,543.7 557.6,543.8 562.6,543.9 567.6,543.9 572.6,544.0 577.6,544.1 582.6,544.1 587.6,544.2 592.6,544.2 597.6,544.2 602.6,544.3 607.6,544.3" fill="none" stroke="#f48c88" stroke-width="1.6" stroke-opacity="0.44" stroke-linecap="round"/>
<polyline points="535.1,538.2 540.1,538.2 545.1,538.2 550.1,538.3 555.1,538.3 560.1,538.3 565.1,538.3 570.1,538.3 575.1,538.2 580.1,538.2 585.1,538.2 590.1,538.1 595.1,538.1 600.1,538.0 605.1,538.0 610.1,537.9 615.1,537.8 620.1,537.8 625.1,537.7" fill="none" stroke="#dc555c" stroke-width="2.9" stroke-opacity="0.65" stroke-linecap="round"/>
<polyline points="531.5,504.7 536.5,504.6 541.5,504.6 546.5,504.5 551.5,504.5 556.5,504.4 561.5,504.3 566.5,504.3 571.5,504.2 576.5,504.1 581.5,504.1 586.5,504.0 591.5,504.0 596.5,504.0 601.5,503.9 606.5,503.9 611.5,503.9 616.5,503.9" fill="none" stroke="#f6968f" stroke-width="2.3" stroke-opacity="0.39" stroke-linecap="round"/>
<path d="M527,491 Q527,488.5 532,488.5 L625,488.5 L625,596 L536,596 L529.5,590 L531,560 L521,540 L518.5,510 Z" fill="none" stroke="#c8383c" stroke-width="10" stroke-opacity="0.85" stroke-linejoin="round"/>
<path d="M496.0,559.0 L623.0,559.0 L623.0,565.0 L496.0,565.0 Z" fill="#fbe4dc"/>
<path d="M496.0,565.0 L623.0,565.0 L623.0,592.0 L496.0,592.0 Z" fill="#f9ca68"/>
<ellipse cx="527.1" cy="579.5" rx="11.5" ry="7.1" fill="#f0ac3e" opacity="0.55" transform="rotate(-0.3 526.3 578.1)"/>
<ellipse cx="595.6" cy="574.1" rx="13.5" ry="5.3" fill="#f0ac3e" opacity="0.55" transform="rotate(-5.4 594.8 572.7)"/>
<ellipse cx="544.7" cy="576.6" rx="13.5" ry="6.1" fill="#f0ac3e" opacity="0.55" transform="rotate(-2.0 543.9 575.2)"/>
<ellipse cx="553.2" cy="582.4" rx="15.3" ry="4.8" fill="#f0ac3e" opacity="0.55" transform="rotate(-7.7 552.4 581.0)"/>
<ellipse cx="520.8" cy="584.4" rx="13.8" ry="7.6" fill="#f0ac3e" opacity="0.55" transform="rotate(0.2 520.0 583.0)"/>
<ellipse cx="559.0" cy="583.8" rx="14.9" ry="4.7" fill="#f0ac3e" opacity="0.55" transform="rotate(-2.6 558.2 582.4)"/>
<ellipse cx="591.8" cy="580.3" rx="11.2" ry="6.0" fill="#f0ac3e" opacity="0.55" transform="rotate(-3.5 591.0 578.9)"/>
<ellipse cx="546.6" cy="576.1" rx="10.4" ry="4.8" fill="#f0ac3e" opacity="0.55" transform="rotate(5.2 545.8 574.7)"/>
<ellipse cx="526.3" cy="578.1" rx="10.9" ry="6.5" fill="#fde2a0" transform="rotate(-0.3 526.3 578.1)"/>
<ellipse cx="594.8" cy="572.7" rx="12.9" ry="4.7" fill="#fde2a0" transform="rotate(-5.4 594.8 572.7)"/>
<ellipse cx="543.9" cy="575.2" rx="12.9" ry="5.5" fill="#fde6aa" transform="rotate(-2.0 543.9 575.2)"/>
<ellipse cx="552.4" cy="581.0" rx="14.7" ry="4.2" fill="#fde2a0" transform="rotate(-7.7 552.4 581.0)"/>
<ellipse cx="520.0" cy="583.0" rx="13.2" ry="7.0" fill="#fde2a0" transform="rotate(0.2 520.0 583.0)"/>
<ellipse cx="558.2" cy="582.4" rx="14.3" ry="4.1" fill="#fee8b2" transform="rotate(-2.6 558.2 582.4)"/>
<ellipse cx="591.0" cy="578.9" rx="10.6" ry="5.4" fill="#fee8b2" transform="rotate(-3.5 591.0 578.9)"/>
<ellipse cx="545.8" cy="574.7" rx="9.8" ry="4.2" fill="#fcdc92" transform="rotate(5.2 545.8 574.7)"/>
</g></g></g>
<g fill="none" stroke="#fcd68a" stroke-width="7" stroke-linejoin="round">
  <path d="M95,461.5 L204,461.5 Q209,462 209,470 L205,483 L195,498 L177,505.5 L170,512 L170.5,537 L173,555 L169,564 L150,565.5 L146,569.5 L95,570.5" clip-path="url(#rightOfLeft)"/>
  <path d="M247,465 L350,464.5 L356.5,481 L351,490 L353,496 L356.5,502 L354,509 L338,522 L332,529 L321.5,532 L321.5,556.5 L218,555 L207,549 L202,538 L204,526 L216,511 L234,497 L243.5,480 Z"/>
  <path d="M400.5,466 Q401,465 406,465.5 L489,475.5 L491.5,490 L482,504 L478.5,520 L481,537.5 L488,546 L491.5,560 L490,580 L486,586.5 L418,584.5 L364,572.5 Q357.5,569 357,563 Q358,553 365,549.5 L377.5,544 L391,540.5 L396,530.5 L398,521 L400.5,511 L405.5,503.5 L400.5,490 Z"/>
  <path d="M603,488.5 L532,488.5 Q527,488.5 527,491 L518.5,510 L521,540 L531,560 L529.5,590 L536,596 L603,596" clip-path="url(#leftOfSide)"/>
</g>

<!-- ===== NAVY ARROWS ===== -->
<g fill="#2a1f8c" stroke="none">
  <path d="M103,421 C200,420 280,420.5 340,422 L340,434 C280,435.5 200,436 103,436 Z"/>
  <path d="M326,411 Q350,422.5 370,427.5 Q350,432.5 326,444 L334,427.5 Z"/>
  <path d="M418,427.5 C470,433 530,441 560,443.5 C600,445.5 640,447 666,447.5 L666,461 C640,461 600,460 560,458 C530,455.5 470,447.5 418,439.5 Z" fill="url(#fadeB)"/>
  <path d="M661,437.5 Q684,447.5 706.5,451 Q684,455 661,468.5 L669,452.5 Z" fill="url(#headB)"/>
  <path d="M103,578 C150,577.5 200,574.5 228,571.5 L228,579 C200,581.5 150,585 103,586.5 Z"/>
  <path d="M222,562.5 L249.5,572.5 L222,584 L229,573 Z"/>
  <path d="M475,607.5 C510,612 540,617 560,616 C600,614 630,611 655,608 L656,614 C630,617 600,620 560,622 C540,622 510,618 475,613 Z" fill="url(#fadeD)"/>
  <path d="M651,600.5 L677,607 L653,619 L657,609 Z"/>
</g>
<g fill="none" stroke-width="6.5" stroke-linecap="butt">
  <path d="M186.5,548 C186,530 186,520 195,510 C205,500 218,492 224,484 C228,478 228,472 228,466" stroke="url(#fadeP1)"/>
  <path d="M377,470 C376,480 381,495 380,507 C378,520 368,535 353,546 C346,551 342,556 339,562" stroke="#2a1f8c"/>
  <path d="M512,580 C507,565 499,548 498.5,532 C498,515 499,503 507,491" stroke="url(#fadeP3)"/>
</g>
<g fill="#2a1f8c">
  <path d="M230.8,445.3 L219,467.5 L228,465 L236.7,470.8 Z"/>
  <path d="M390.7,447.8 L371,464.4 L379,466 L385.6,472 Z"/>
  <path d="M333,581 L330,556.7 L337,562 L349,561 Z"/>
  <path d="M524,472.6 L501.7,487 L508.5,489 L514.3,495.2 Z"/>
</g>

<!-- ===== DOWN ARROWS ===== -->
<g fill="none" stroke="#ffffff" stroke-width="6" stroke-linejoin="round" opacity="0.85" filter="url(#blur2)">
  <path d="M224,318 L240,318 L240,360.6 L248.3,360.6 L232,381.7 L215.6,360.6 L224,360.6 Z"/>
  <path d="M341,337 Q341,329 349,329 Q357,329 357,337 L357,372.5 L365.5,372.5 L349,393 L332,372.5 L341,372.5 Z"/>
  <path d="M465,327.5 Q465,319 473.7,319 Q482.5,319 482.5,327.5 L482.5,362.8 L490,362.8 L473.5,384 L457,362.8 L465,362.8 Z"/>
</g>
<g fill="url(#dnArrow)">
  <path d="M224,318 L240,318 L240,360.6 L248.3,360.6 L232,381.7 L215.6,360.6 L224,360.6 Z"/>
  <path d="M341,337 Q341,329 349,329 Q357,329 357,337 L357,372.5 L365.5,372.5 L349,393 L332,372.5 L341,372.5 Z"/>
  <path d="M465,327.5 Q465,319 473.7,319 Q482.5,319 482.5,327.5 L482.5,362.8 L490,362.8 L473.5,384 L457,362.8 L465,362.8 Z"/>
</g>

<!-- ===== PATCH ===== -->
<path d="M254,243 L652,243 Q659,244 655,249 L576,313 Q574,315.5 570,315.5 L154,315.5 Q149,314 152,311 Z" fill="#b5a86c"/>
<path d="M254,243 L652,243 Q659,244 655,249 L576,313 Q574,315.5 570,315.5 L154,315.5 Q149,314 152,311 Z" fill="#b5a86c" filter="url(#noise)"/>
<path d="M254,243 L652,243 Q659,244 655,249 L576,313 Q574,315.5 570,315.5 L154,315.5 Q149,314 152,311 Z" fill="#b5a86c" filter="url(#noise2)"/>

<!-- ===== ORANGE ARROWS ===== -->
<g>
<path d="M355.7,274.8 L355.6,273.5 L355.4,271.9 L355.2,270.1 L354.9,268.0 L354.6,265.8 L354.3,263.4 L354.0,260.9 L353.7,258.3 L353.4,255.7 L353.0,253.1 L352.7,250.6 L352.4,248.1 L352.1,245.7 L351.8,243.5 L351.5,241.5 L351.3,239.7 L351.1,238.0 L350.8,236.6 L350.7,235.2 L350.5,233.9 L350.3,232.7 L350.1,231.5 L350.0,230.4 L349.8,229.4 L349.7,228.4 L349.5,227.5 L349.4,226.5 L349.3,225.6 L349.1,224.6 L349.0,223.7 L348.9,222.7 L348.8,221.6 L348.7,220.6 L348.6,219.5 L348.5,218.4 L348.4,217.3 L348.4,216.2 L348.3,215.1 L348.2,214.0 L348.2,212.9 L348.1,211.9 L348.1,210.8 L348.0,209.7 L348.0,208.7 L348.0,207.7 L347.9,206.7 L347.9,205.7 L347.9,204.8 L347.8,203.8 L347.8,202.9 L347.8,202.0 L347.7,201.2 L347.7,200.4 L347.7,199.5 L347.7,198.8 L347.7,198.0 L347.7,197.2 L347.7,196.5 L347.7,195.8 L347.7,195.1 L347.7,194.3 L347.8,193.6 L347.8,192.9 L347.9,192.2 L348.0,191.5 L348.1,190.8 L348.2,190.1 L348.3,189.4 L348.5,188.7 L348.6,188.0 L348.8,187.2 L348.9,186.5 L349.1,185.8 L349.3,185.1 L349.5,184.4 L349.6,183.7 L349.8,183.0 L350.0,182.3 L350.2,181.6 L350.4,181.0 L350.5,180.3 L350.7,179.7 L350.9,179.1 L351.1,178.5 L351.3,177.9 L351.5,177.3 L351.7,176.7 L351.9,176.1 L352.1,175.5 L352.3,175.0 L352.5,174.5 L352.7,174.0 L352.9,173.5 L353.0,173.1 L353.2,172.7 L353.3,172.4 L343.7,169.6 L343.6,169.9 L343.6,170.3 L343.5,170.7 L343.4,171.1 L343.3,171.6 L343.1,172.2 L343.0,172.8 L342.8,173.4 L342.7,174.1 L342.5,174.7 L342.4,175.4 L342.2,176.1 L342.1,176.9 L341.9,177.6 L341.8,178.3 L341.6,179.0 L341.5,179.7 L341.4,180.4 L341.3,181.1 L341.2,181.9 L341.1,182.6 L340.9,183.4 L340.8,184.2 L340.7,185.0 L340.6,185.8 L340.5,186.6 L340.4,187.5 L340.3,188.3 L340.2,189.2 L340.2,190.0 L340.1,190.9 L340.1,191.8 L340.1,192.6 L340.1,193.5 L340.1,194.3 L340.1,195.1 L340.2,195.9 L340.2,196.8 L340.3,197.6 L340.4,198.4 L340.5,199.2 L340.6,200.0 L340.7,200.9 L340.7,201.7 L340.8,202.6 L340.9,203.4 L341.0,204.3 L341.1,205.2 L341.2,206.2 L341.3,207.2 L341.4,208.2 L341.5,209.2 L341.6,210.2 L341.8,211.3 L341.9,212.4 L342.0,213.4 L342.1,214.5 L342.3,215.7 L342.4,216.8 L342.5,217.9 L342.7,219.0 L342.9,220.1 L343.0,221.2 L343.2,222.4 L343.4,223.5 L343.6,224.5 L343.7,225.5 L343.9,226.5 L344.1,227.4 L344.3,228.4 L344.5,229.4 L344.8,230.3 L345.0,231.3 L345.2,232.4 L345.4,233.5 L345.7,234.7 L345.9,236.0 L346.2,237.3 L346.5,238.8 L346.7,240.3 L347.0,242.1 L347.4,244.1 L347.7,246.3 L348.1,248.7 L348.5,251.2 L348.9,253.7 L349.3,256.3 L349.7,258.9 L350.1,261.5 L350.5,264.0 L350.8,266.3 L351.2,268.6 L351.5,270.6 L351.8,272.4 L352.1,274.0 L352.3,275.2 Z" fill="url(#orange)"/>
<path d="M354.9,161.5 L338.2,175.2 L354.9,182.0 Z" fill="#f5821f"/>
<path d="M376.4,277.5 L376.6,277.0 L376.8,276.3 L377.0,275.5 L377.3,274.7 L377.5,273.8 L377.8,272.9 L378.1,271.9 L378.4,270.9 L378.7,269.8 L379.1,268.7 L379.4,267.7 L379.8,266.6 L380.2,265.6 L380.7,264.6 L381.1,263.6 L381.6,262.7 L382.1,261.8 L382.6,260.9 L383.2,260.0 L383.8,259.0 L384.4,258.1 L385.1,257.2 L385.8,256.2 L386.5,255.3 L387.2,254.3 L387.9,253.4 L388.6,252.4 L389.4,251.4 L390.2,250.5 L390.9,249.5 L391.7,248.6 L392.4,247.6 L393.2,246.7 L393.9,245.8 L394.7,245.0 L395.6,244.1 L396.5,243.2 L397.3,242.2 L398.2,241.3 L399.2,240.4 L400.1,239.4 L401.0,238.5 L401.8,237.5 L402.7,236.5 L403.5,235.4 L404.3,234.3 L405.1,233.2 L405.8,232.1 L406.4,230.9 L407.0,229.8 L407.5,228.6 L408.0,227.4 L408.5,226.2 L408.9,225.0 L409.3,223.8 L409.6,222.5 L410.0,221.3 L410.3,220.1 L410.5,218.9 L410.8,217.7 L411.0,216.6 L411.1,215.4 L411.3,214.3 L411.4,213.2 L411.5,212.1 L411.5,211.1 L411.5,210.0 L411.4,209.0 L411.3,208.0 L411.2,207.0 L411.1,206.1 L410.9,205.2 L410.7,204.3 L410.4,203.4 L410.2,202.5 L409.9,201.6 L409.6,200.7 L409.3,199.9 L409.0,199.0 L408.7,198.0 L408.3,197.0 L407.9,195.9 L407.4,194.9 L406.9,193.8 L406.4,192.7 L405.9,191.5 L405.4,190.4 L404.8,189.4 L404.3,188.3 L403.7,187.2 L403.2,186.2 L402.7,185.3 L402.2,184.3 L401.8,183.5 L401.4,182.7 L401.0,181.9 L400.7,181.2 L400.4,180.5 L400.1,179.8 L399.8,179.2 L399.5,178.6 L399.3,178.0 L399.0,177.4 L398.8,176.9 L398.6,176.4 L398.4,175.9 L398.2,175.5 L398.0,175.1 L397.8,174.7 L397.7,174.4 L397.6,174.0 L397.5,173.8 L388.5,178.2 L388.7,178.5 L388.9,178.8 L389.0,179.1 L389.3,179.4 L389.5,179.8 L389.7,180.2 L390.0,180.7 L390.2,181.2 L390.5,181.7 L390.8,182.2 L391.1,182.8 L391.5,183.4 L391.8,184.0 L392.2,184.7 L392.6,185.3 L393.0,186.1 L393.4,186.9 L393.9,187.7 L394.4,188.6 L394.9,189.5 L395.5,190.5 L396.1,191.5 L396.7,192.4 L397.2,193.5 L397.8,194.5 L398.4,195.5 L398.9,196.5 L399.4,197.4 L399.9,198.4 L400.3,199.3 L400.7,200.1 L401.1,201.0 L401.4,201.8 L401.8,202.6 L402.1,203.5 L402.4,204.2 L402.7,205.0 L403.0,205.7 L403.2,206.4 L403.4,207.1 L403.6,207.7 L403.8,208.4 L403.9,209.1 L404.0,209.8 L404.1,210.5 L404.2,211.2 L404.2,212.0 L404.2,212.8 L404.2,213.7 L404.1,214.6 L404.0,215.6 L403.9,216.6 L403.7,217.6 L403.6,218.7 L403.3,219.8 L403.1,220.8 L402.8,221.9 L402.6,223.0 L402.2,224.1 L401.9,225.1 L401.5,226.2 L401.1,227.2 L400.7,228.2 L400.2,229.1 L399.8,230.0 L399.2,230.9 L398.6,231.8 L398.0,232.7 L397.2,233.6 L396.5,234.6 L395.7,235.5 L394.9,236.4 L394.0,237.4 L393.2,238.4 L392.3,239.3 L391.5,240.3 L390.6,241.3 L389.8,242.3 L388.9,243.3 L388.2,244.4 L387.5,245.4 L386.7,246.4 L386.0,247.4 L385.3,248.4 L384.6,249.4 L383.9,250.4 L383.2,251.4 L382.5,252.4 L381.8,253.5 L381.1,254.5 L380.5,255.5 L379.8,256.6 L379.2,257.6 L378.7,258.6 L378.1,259.7 L377.6,260.7 L377.1,261.8 L376.7,262.9 L376.3,264.1 L375.9,265.2 L375.5,266.4 L375.2,267.5 L374.9,268.7 L374.6,269.8 L374.3,270.9 L374.1,271.9 L373.8,272.9 L373.6,273.8 L373.5,274.6 L373.3,275.4 L373.2,276.0 L373.0,276.5 Z" fill="url(#orange)"/>
<path d="M387.4,167.4 L389.3,186.8 L404.9,178.0 Z" fill="#f5821f"/>
<path d="M419.7,275.3 L420.1,274.6 L420.6,273.7 L421.2,272.7 L421.9,271.6 L422.6,270.4 L423.4,269.1 L424.2,267.7 L425.1,266.3 L425.9,264.9 L426.8,263.4 L427.7,262.0 L428.5,260.6 L429.4,259.2 L430.2,257.9 L430.9,256.6 L431.6,255.5 L432.3,254.4 L433.0,253.4 L433.7,252.4 L434.3,251.4 L435.0,250.4 L435.6,249.5 L436.3,248.5 L436.9,247.6 L437.5,246.7 L438.2,245.7 L438.8,244.8 L439.4,243.9 L440.0,242.9 L440.6,241.9 L441.2,241.0 L441.8,240.0 L442.4,239.0 L442.9,238.1 L443.5,237.2 L444.0,236.2 L444.6,235.3 L445.2,234.4 L445.7,233.4 L446.3,232.4 L446.8,231.4 L447.3,230.4 L447.9,229.4 L448.4,228.4 L448.8,227.3 L449.3,226.2 L449.7,225.0 L450.1,223.8 L450.5,222.7 L450.8,221.5 L451.2,220.3 L451.5,219.1 L451.8,217.8 L452.1,216.5 L452.4,215.3 L452.6,214.0 L452.9,212.6 L453.1,211.3 L453.2,210.0 L453.4,208.6 L453.5,207.3 L453.5,205.9 L453.5,204.6 L453.5,203.2 L453.5,201.8 L453.3,200.5 L453.2,199.1 L453.0,197.7 L452.7,196.3 L452.5,194.9 L452.2,193.5 L451.8,192.2 L451.5,190.9 L451.1,189.5 L450.8,188.2 L450.4,187.0 L450.0,185.8 L449.6,184.6 L449.2,183.4 L448.8,182.3 L448.3,181.2 L447.9,180.1 L447.4,179.0 L446.8,178.0 L446.3,177.0 L445.7,176.0 L445.2,175.0 L444.6,174.2 L444.1,173.3 L443.6,172.5 L443.0,171.7 L442.5,170.9 L442.1,170.2 L441.6,169.6 L441.2,169.0 L440.8,168.4 L440.4,167.7 L440.0,167.1 L439.6,166.5 L439.1,165.9 L438.7,165.4 L438.3,164.9 L438.0,164.4 L437.6,164.0 L437.3,163.6 L437.0,163.2 L436.7,162.9 L436.4,162.6 L436.2,162.3 L436.0,162.1 L435.9,161.9 L435.8,161.7 L428.2,168.3 L428.4,168.5 L428.7,168.8 L429.0,169.0 L429.3,169.3 L429.5,169.5 L429.8,169.8 L430.1,170.1 L430.4,170.4 L430.7,170.7 L431.1,171.1 L431.4,171.4 L431.7,171.8 L432.1,172.2 L432.4,172.7 L432.8,173.1 L433.2,173.6 L433.6,174.2 L434.1,174.9 L434.6,175.6 L435.1,176.2 L435.6,176.9 L436.1,177.6 L436.7,178.3 L437.2,179.1 L437.7,179.8 L438.2,180.6 L438.7,181.3 L439.2,182.1 L439.6,182.9 L440.0,183.8 L440.4,184.6 L440.8,185.5 L441.2,186.4 L441.6,187.5 L442.0,188.5 L442.4,189.6 L442.8,190.8 L443.2,191.9 L443.5,193.1 L443.9,194.3 L444.2,195.5 L444.5,196.7 L444.8,197.9 L445.1,199.1 L445.3,200.2 L445.4,201.4 L445.6,202.5 L445.7,203.6 L445.7,204.7 L445.8,205.8 L445.7,206.9 L445.7,208.1 L445.6,209.2 L445.5,210.4 L445.4,211.6 L445.2,212.7 L445.0,213.9 L444.8,215.1 L444.6,216.2 L444.4,217.4 L444.1,218.5 L443.9,219.6 L443.6,220.7 L443.3,221.8 L443.0,222.7 L442.7,223.7 L442.3,224.7 L442.0,225.6 L441.6,226.5 L441.2,227.4 L440.7,228.3 L440.3,229.2 L439.8,230.2 L439.3,231.1 L438.8,232.0 L438.3,232.9 L437.8,233.9 L437.3,234.9 L436.7,235.8 L436.2,236.8 L435.7,237.8 L435.2,238.7 L434.6,239.6 L434.1,240.5 L433.5,241.5 L433.0,242.4 L432.4,243.3 L431.8,244.3 L431.2,245.2 L430.6,246.2 L430.0,247.2 L429.4,248.2 L428.7,249.2 L428.1,250.3 L427.4,251.4 L426.8,252.5 L426.1,253.7 L425.3,255.0 L424.6,256.3 L423.7,257.8 L422.9,259.2 L422.1,260.7 L421.2,262.2 L420.4,263.6 L419.6,265.1 L418.8,266.5 L418.1,267.8 L417.4,269.0 L416.8,270.1 L416.2,271.1 L415.7,272.0 L415.3,272.7 Z" fill="url(#orange3)"/>
<path d="M424.4,155.7 L430.2,176.0 L443.8,163.5 Z" fill="#f5821f"/>
</g>

<!-- ===== BUBBLES ===== -->
<g transform="translate(242.6,254.6)"><circle r="34.5" fill="url(#bubGlow)"/><circle r="25.5" fill="#eef3fd"/><clipPath id="bc242"><circle r="23.5"/></clipPath><g clip-path="url(#bc242)"><rect x="-30" y="-30" width="60" height="60" fill="#5a5a30"/><ellipse cx="-14.0" cy="-10.0" rx="9.0" ry="7.0" fill="#3d6b2a" transform="rotate(20 -14.0 -10.0)"/><ellipse cx="14.0" cy="12.0" rx="10.0" ry="7.0" fill="#3d7b2a" transform="rotate(0 14.0 12.0)"/><ellipse cx="-17.0" cy="4.0" rx="6.0" ry="12.0" fill="#a08080" transform="rotate(0 -17.0 4.0)"/><ellipse cx="-5.0" cy="0.0" rx="8.0" ry="16.0" fill="#b8b040" transform="rotate(10 -5.0 0.0)"/><ellipse cx="13.0" cy="-4.0" rx="7.0" ry="13.0" fill="#c4bc48" transform="rotate(-20 13.0 -4.0)"/><ellipse cx="-6.0" cy="15.0" rx="10.0" ry="6.0" fill="#c8c048" transform="rotate(0 -6.0 15.0)"/><ellipse cx="2.0" cy="-17.0" rx="8.0" ry="4.0" fill="#4a2a20" transform="rotate(0 2.0 -17.0)"/><ellipse cx="-10.0" cy="-18.0" rx="5.0" ry="4.0" fill="#7a5040" transform="rotate(0 -10.0 -18.0)"/><ellipse cx="16.0" cy="14.0" rx="5.0" ry="5.0" fill="#6a3a30" transform="rotate(0 16.0 14.0)"/><circle cx="-11.7" cy="8.1" r="0.8" fill="#ece488" opacity="0.66"/><circle cx="4.0" cy="13.4" r="0.7" fill="#e0d868" opacity="0.64"/><circle cx="-4.7" cy="14.6" r="1.2" fill="#8a8a28" opacity="0.68"/><circle cx="-12.0" cy="-4.3" r="1.1" fill="#5a6a20" opacity="0.64"/><circle cx="8.7" cy="0.3" r="1.4" fill="#ece488" opacity="0.84"/><circle cx="13.2" cy="5.2" r="1.1" fill="#5a6a20" opacity="0.78"/><circle cx="-11.7" cy="-11.9" r="1.1" fill="#4a3a20" opacity="0.54"/><circle cx="15.4" cy="3.9" r="1.2" fill="#e0d868" opacity="0.55"/><circle cx="1.6" cy="3.5" r="1.3" fill="#4a3a20" opacity="0.51"/><circle cx="5.2" cy="-5.4" r="0.9" fill="#4a3a20" opacity="0.62"/><circle cx="-4.2" cy="12.3" r="0.9" fill="#5a6a20" opacity="0.75"/><circle cx="-16.9" cy="-9.0" r="1.0" fill="#ece488" opacity="0.52"/><circle cx="13.2" cy="12.2" r="1.1" fill="#5a6a20" opacity="0.70"/><circle cx="12.4" cy="1.1" r="1.1" fill="#4a3a20" opacity="0.94"/><circle cx="-12.7" cy="2.0" r="0.7" fill="#4a3a20" opacity="0.71"/><circle cx="12.6" cy="-9.6" r="1.0" fill="#8a8a28" opacity="0.81"/><circle cx="14.2" cy="13.6" r="0.7" fill="#8a8a28" opacity="0.56"/><circle cx="16.9" cy="1.9" r="0.8" fill="#4a3a20" opacity="0.83"/><circle cx="10.7" cy="-5.6" r="1.3" fill="#4a3a20" opacity="0.88"/><circle cx="-0.7" cy="-5.8" r="1.2" fill="#4a3a20" opacity="0.72"/><circle cx="-9.1" cy="-16.5" r="1.4" fill="#8a8a28" opacity="0.82"/><circle cx="2.4" cy="0.2" r="1.2" fill="#ece488" opacity="0.54"/><circle cx="-6.4" cy="15.8" r="0.7" fill="#5a6a20" opacity="0.77"/><circle cx="-7.9" cy="17.8" r="1.3" fill="#5a6a20" opacity="0.80"/><circle cx="11.0" cy="14.1" r="0.9" fill="#4a3a20" opacity="0.57"/><circle cx="4.4" cy="-13.1" r="1.3" fill="#5a6a20" opacity="0.93"/><circle cx="3.2" cy="-14.7" r="0.9" fill="#8a8a28" opacity="0.78"/><circle cx="-10.4" cy="-14.6" r="1.1" fill="#ece488" opacity="0.83"/><circle cx="7.7" cy="0.8" r="1.3" fill="#ece488" opacity="0.69"/><circle cx="9.4" cy="-7.9" r="1.2" fill="#ece488" opacity="0.85"/><circle cx="1.3" cy="13.4" r="1.2" fill="#a8a038" opacity="0.62"/><circle cx="-13.5" cy="7.2" r="1.3" fill="#8a8a28" opacity="0.63"/><circle cx="12.0" cy="14.6" r="1.5" fill="#e0d868" opacity="0.62"/><circle cx="10.7" cy="-14.5" r="1.2" fill="#5a6a20" opacity="0.66"/><circle cx="12.8" cy="7.6" r="1.3" fill="#e0d868" opacity="0.85"/><circle cx="-3.4" cy="-19.5" r="0.9" fill="#8a8a28" opacity="0.80"/><circle cx="-8.9" cy="2.0" r="0.8" fill="#8a8a28" opacity="0.86"/><circle cx="-5.7" cy="1.5" r="1.3" fill="#8a8a28" opacity="0.60"/><circle cx="-16.6" cy="-9.1" r="1.4" fill="#ece488" opacity="0.64"/><circle cx="-9.0" cy="-0.3" r="0.8" fill="#8a8a28" opacity="0.58"/><circle cx="-3.6" cy="-11.5" r="1.1" fill="#5a6a20" opacity="0.85"/><circle cx="6.2" cy="-7.8" r="1.4" fill="#5a6a20" opacity="0.67"/><circle cx="12.5" cy="9.8" r="1.3" fill="#e0d868" opacity="0.64"/><circle cx="10.4" cy="2.0" r="1.1" fill="#8a8a28" opacity="0.52"/><circle cx="18.6" cy="-1.1" r="1.0" fill="#ece488" opacity="0.60"/><circle cx="9.4" cy="-4.8" r="0.7" fill="#5a6a20" opacity="0.85"/><circle cx="8.2" cy="-17.8" r="0.8" fill="#8a8a28" opacity="0.65"/><circle cx="12.3" cy="-0.4" r="0.6" fill="#8a8a28" opacity="0.75"/><circle cx="9.3" cy="-9.8" r="1.5" fill="#8a8a28" opacity="0.89"/><circle cx="-12.3" cy="-14.8" r="1.2" fill="#8a8a28" opacity="0.62"/><circle cx="-14.7" cy="-6.3" r="1.5" fill="#4a3a20" opacity="0.73"/><circle cx="7.6" cy="16.8" r="0.9" fill="#e0d868" opacity="0.95"/><circle cx="0.7" cy="3.9" r="0.8" fill="#a8a038" opacity="0.53"/><circle cx="-3.2" cy="-1.1" r="1.4" fill="#a8a038" opacity="0.85"/><circle cx="-4.0" cy="-15.6" r="1.5" fill="#8a8a28" opacity="0.55"/><circle cx="-0.6" cy="1.4" r="0.8" fill="#4a3a20" opacity="0.63"/><circle cx="-14.6" cy="-9.5" r="0.7" fill="#a8a038" opacity="0.67"/><circle cx="-9.4" cy="7.8" r="0.9" fill="#5a6a20" opacity="0.61"/><circle cx="10.2" cy="12.9" r="0.6" fill="#4a3a20" opacity="0.91"/><circle cx="2.4" cy="-7.6" r="1.3" fill="#8a8a28" opacity="0.92"/><circle cx="12.6" cy="-14.0" r="0.7" fill="#5a6a20" opacity="0.93"/><circle cx="11.1" cy="-5.6" r="0.6" fill="#8a8a28" opacity="0.70"/><circle cx="-9.7" cy="15.3" r="1.0" fill="#4a3a20" opacity="0.66"/><circle cx="-8.5" cy="14.9" r="0.8" fill="#5a6a20" opacity="0.75"/><circle cx="11.5" cy="14.7" r="0.8" fill="#5a6a20" opacity="0.61"/><circle cx="14.9" cy="2.4" r="0.9" fill="#e0d868" opacity="0.62"/><circle cx="10.4" cy="8.6" r="1.0" fill="#e0d868" opacity="0.94"/><circle cx="17.7" cy="6.6" r="1.2" fill="#e0d868" opacity="0.75"/><circle cx="3.5" cy="-5.9" r="1.3" fill="#a8a038" opacity="0.69"/><circle cx="-0.7" cy="9.7" r="0.8" fill="#5a6a20" opacity="0.63"/><circle cx="3.8" cy="-2.9" r="1.3" fill="#a8a038" opacity="0.56"/><circle cx="-8.5" cy="-10.2" r="1.1" fill="#ece488" opacity="0.56"/><circle cx="18.2" cy="0.2" r="1.1" fill="#e0d868" opacity="0.66"/><circle cx="12.4" cy="3.2" r="0.8" fill="#e0d868" opacity="0.56"/><circle cx="7.5" cy="15.9" r="1.2" fill="#e0d868" opacity="0.77"/><circle cx="9.0" cy="-16.6" r="1.3" fill="#a8a038" opacity="0.58"/><circle cx="10.7" cy="12.4" r="1.2" fill="#e0d868" opacity="0.76"/><circle cx="1.5" cy="4.9" r="1.3" fill="#5a6a20" opacity="0.88"/><circle cx="12.5" cy="-7.2" r="0.9" fill="#a8a038" opacity="0.88"/><circle cx="9.3" cy="-10.6" r="0.6" fill="#5a6a20" opacity="0.56"/><ellipse cx="6.0" cy="0.0" rx="5.5" ry="13.0" fill="#4a1424" transform="rotate(15 6.0 0.0)"/><ellipse cx="7.0" cy="-2.0" rx="3.5" ry="8.0" fill="#6a2030" transform="rotate(15 7.0 -2.0)"/><ellipse cx="5.0" cy="-4.0" rx="1.5" ry="4.0" fill="#a04848" transform="rotate(15 5.0 -4.0)"/></g><circle r="25.5" fill="url(#bubIn)"/><circle r="25.3" fill="none" stroke="#7eaaf4" stroke-width="2.6"/><circle r="25.7" fill="none" stroke="#4f88ee" stroke-width="1" stroke-opacity="0.6"/><path d="M21.9,-2.2 A22.0,22.0 0 0 1 8.0,20.5" fill="none" stroke="#ffffff" stroke-width="3.2" stroke-opacity="0.9" stroke-linecap="round" filter="url(#blur1)"/><ellipse cx="-15.8" cy="-15.8" rx="3" ry="1.6" fill="#ffffff" opacity="0.85" transform="rotate(-45 -15.8 -15.8)"/></g>
<g transform="translate(356.1,240.3)"><circle r="34.5" fill="url(#bubGlow)"/><circle r="25.5" fill="#eef3fd"/><clipPath id="bc356"><circle r="23.5"/></clipPath><g clip-path="url(#bc356)"><rect x="-30" y="-30" width="60" height="60" fill="#8aa050"/><ellipse cx="-17.0" cy="-2.0" rx="8.0" ry="16.0" fill="#bcd458" transform="rotate(15 -17.0 -2.0)"/><ellipse cx="-12.0" cy="10.0" rx="6.0" ry="8.0" fill="#9ab848" transform="rotate(0 -12.0 10.0)"/><ellipse cx="14.0" cy="-6.0" rx="9.0" ry="14.0" fill="#6e8a3a" transform="rotate(0 14.0 -6.0)"/><ellipse cx="8.0" cy="-16.0" rx="10.0" ry="6.0" fill="#7a9a48" transform="rotate(0 8.0 -16.0)"/><ellipse cx="4.0" cy="-14.0" rx="4.0" ry="3.5" fill="#d8305a" transform="rotate(0 4.0 -14.0)"/><ellipse cx="10.0" cy="14.0" rx="7.0" ry="5.0" fill="#b0b080" transform="rotate(0 10.0 14.0)"/><ellipse cx="-1.3" cy="1.5" rx="13" ry="13.5" fill="#2b3560"/><ellipse cx="-5" cy="-3" rx="6" ry="5" fill="#45557f" opacity="0.7"/><circle cx="2" cy="3.5" r="4.5" fill="none" stroke="#5a6c9c" stroke-width="1.3"/><circle cx="2" cy="3.5" r="1.6" fill="#1a2040"/></g><circle r="25.5" fill="url(#bubIn)"/><circle r="25.3" fill="none" stroke="#7eaaf4" stroke-width="2.6"/><circle r="25.7" fill="none" stroke="#4f88ee" stroke-width="1" stroke-opacity="0.6"/><path d="M21.9,-2.2 A22.0,22.0 0 0 1 8.0,20.5" fill="none" stroke="#ffffff" stroke-width="3.2" stroke-opacity="0.9" stroke-linecap="round" filter="url(#blur1)"/><ellipse cx="-15.8" cy="-15.8" rx="3" ry="1.6" fill="#ffffff" opacity="0.85" transform="rotate(-45 -15.8 -15.8)"/></g>
<g transform="translate(463.4,258.4)"><circle r="34.5" fill="url(#bubGlow)"/><circle r="25.5" fill="#eef3fd"/><clipPath id="bc463"><circle r="23.5"/></clipPath><g clip-path="url(#bc463)"><rect x="-30" y="-30" width="60" height="60" fill="#d9d2bc"/><rect x="-30" y="0" width="60" height="30" fill="#c4b684"/><path d="M-18,4 Q-8,-10 6,-14" stroke="#4a6a4a" stroke-width="1.3" fill="none"/><path d="M6,-14 Q8,-8 10,-6" stroke="#4a6a4a" stroke-width="1.2" fill="none"/><ellipse cx="-12.0" cy="-7.0" rx="8.0" ry="2.8" fill="#3a6a3a" transform="rotate(-35 -12.0 -7.0)"/><ellipse cx="-8.0" cy="-2.0" rx="7.0" ry="2.5" fill="#3a6a3a" transform="rotate(60 -8.0 -2.0)"/><ellipse cx="-4.0" cy="-10.0" rx="6.0" ry="2.4" fill="#4a7a4a" transform="rotate(-60 -4.0 -10.0)"/><ellipse cx="2.0" cy="-13.0" rx="6.0" ry="2.2" fill="#3a6a3a" transform="rotate(-20 2.0 -13.0)"/><ellipse cx="6.0" cy="-12.0" rx="5.0" ry="2.0" fill="#2a5a3a" transform="rotate(30 6.0 -12.0)"/><ellipse cx="-15.0" cy="6.0" rx="4.0" ry="2.0" fill="#3a6a3a" transform="rotate(70 -15.0 6.0)"/><ellipse cx="3.0" cy="-1.0" rx="2.0" ry="7.0" fill="#3a5a3a" transform="rotate(10 3.0 -1.0)"/><circle cx="10.8" cy="-4.2" r="7.8" fill="#d01c28"/><circle cx="8.5" cy="-6.9" r="2.3" fill="#ff8090" opacity="0.8"/><circle cx="-8.6" cy="12.4" r="7.8" fill="#d01c28"/><circle cx="-10.9" cy="9.7" r="2.3" fill="#ff8090" opacity="0.8"/></g><circle r="25.5" fill="url(#bubIn)"/><circle r="25.3" fill="none" stroke="#7eaaf4" stroke-width="2.6"/><circle r="25.7" fill="none" stroke="#4f88ee" stroke-width="1" stroke-opacity="0.6"/><path d="M21.9,-2.2 A22.0,22.0 0 0 1 8.0,20.5" fill="none" stroke="#ffffff" stroke-width="3.2" stroke-opacity="0.9" stroke-linecap="round" filter="url(#blur1)"/><ellipse cx="-15.8" cy="-15.8" rx="3" ry="1.6" fill="#ffffff" opacity="0.85" transform="rotate(-45 -15.8 -15.8)"/></g>
<g transform="translate(595.5,242.0)"><circle r="34.5" fill="url(#bubGlow)"/><circle r="25.5" fill="#eef3fd"/><clipPath id="bc595"><circle r="23.5"/></clipPath><g clip-path="url(#bc595)"><rect x="-30" y="-30" width="60" height="60" fill="#2e7428"/><ellipse cx="8.0" cy="-14.0" rx="9.0" ry="5.0" fill="#14301a" transform="rotate(20 8.0 -14.0)"/><ellipse cx="16.0" cy="2.0" rx="6.0" ry="11.0" fill="#3c8a34" transform="rotate(0 16.0 2.0)"/><ellipse cx="-16.0" cy="-6.0" rx="6.0" ry="8.0" fill="#4a9a3c" transform="rotate(0 -16.0 -6.0)"/><circle cx="-8.0" cy="4.0" r="9.5" fill="#5cae48"/><circle cx="-8.0" cy="4.0" r="6.6" fill="none" stroke="#9ad47a" stroke-width="0.8" opacity="0.8"/><circle cx="-9.9" cy="2.1" r="3.3" fill="#88c868" opacity="0.6"/><circle cx="4.0" cy="-8.0" r="8.5" fill="#6cba54"/><circle cx="4.0" cy="-8.0" r="5.9" fill="none" stroke="#9ad47a" stroke-width="0.8" opacity="0.8"/><circle cx="2.3" cy="-9.7" r="3.0" fill="#88c868" opacity="0.6"/><circle cx="9.0" cy="9.0" r="7.5" fill="#4e9e40"/><circle cx="9.0" cy="9.0" r="5.2" fill="none" stroke="#9ad47a" stroke-width="0.8" opacity="0.8"/><circle cx="7.5" cy="7.5" r="2.6" fill="#88c868" opacity="0.6"/><circle cx="-4.0" cy="-14.0" r="6.0" fill="#62b04c"/><circle cx="-4.0" cy="-14.0" r="4.2" fill="none" stroke="#9ad47a" stroke-width="0.8" opacity="0.8"/><circle cx="-5.2" cy="-15.2" r="2.1" fill="#88c868" opacity="0.6"/><circle cx="-5.0" cy="-8.6" r="0.7" fill="#2a6a24" opacity="0.52"/><circle cx="-4.5" cy="-14.5" r="0.9" fill="#2a6a24" opacity="0.73"/><circle cx="-13.5" cy="4.8" r="0.5" fill="#c0e8a0" opacity="0.61"/><circle cx="9.2" cy="-16.7" r="0.9" fill="#2a6a24" opacity="0.76"/><circle cx="8.7" cy="-6.5" r="0.5" fill="#c0e8a0" opacity="0.72"/><circle cx="-14.5" cy="-1.2" r="0.7" fill="#a6dc84" opacity="0.61"/><circle cx="13.4" cy="8.3" r="0.5" fill="#2a6a24" opacity="0.61"/><circle cx="1.4" cy="-3.2" r="0.5" fill="#c0e8a0" opacity="0.83"/><circle cx="-1.3" cy="18.3" r="0.8" fill="#2a6a24" opacity="0.74"/><circle cx="-1.9" cy="-6.1" r="0.9" fill="#c0e8a0" opacity="0.58"/><circle cx="-2.0" cy="13.5" r="0.8" fill="#2a6a24" opacity="0.55"/><circle cx="13.6" cy="13.0" r="0.7" fill="#a6dc84" opacity="0.89"/><circle cx="9.1" cy="12.1" r="0.8" fill="#a6dc84" opacity="0.93"/><circle cx="15.8" cy="1.8" r="0.8" fill="#c0e8a0" opacity="0.88"/><circle cx="-12.4" cy="-2.0" r="1.0" fill="#2a6a24" opacity="0.65"/><circle cx="0.7" cy="11.6" r="0.7" fill="#c0e8a0" opacity="0.86"/><circle cx="15.4" cy="-9.4" r="0.9" fill="#a6dc84" opacity="0.65"/><circle cx="10.0" cy="13.1" r="0.6" fill="#2a6a24" opacity="0.80"/><circle cx="6.6" cy="0.5" r="0.5" fill="#2a6a24" opacity="0.69"/><circle cx="-2.9" cy="-0.1" r="0.5" fill="#2a6a24" opacity="0.85"/><circle cx="14.7" cy="-6.1" r="0.9" fill="#a6dc84" opacity="0.52"/><circle cx="-6.5" cy="-8.0" r="0.8" fill="#2a6a24" opacity="0.78"/><circle cx="1.3" cy="-3.5" r="0.5" fill="#a6dc84" opacity="0.73"/><circle cx="-17.8" cy="7.9" r="0.6" fill="#2a6a24" opacity="0.66"/><circle cx="2.4" cy="4.3" r="1.0" fill="#c0e8a0" opacity="0.91"/><circle cx="13.3" cy="7.8" r="1.0" fill="#2a6a24" opacity="0.56"/><circle cx="7.4" cy="8.0" r="0.6" fill="#2a6a24" opacity="0.62"/><circle cx="-1.5" cy="-17.1" r="0.6" fill="#2a6a24" opacity="0.77"/><circle cx="-14.6" cy="-6.9" r="0.5" fill="#c0e8a0" opacity="0.67"/><circle cx="8.6" cy="-6.9" r="0.7" fill="#2a6a24" opacity="0.51"/><path d="M-6,14 L-5,24 M1,13 L2,24 M7,15 L8,24" stroke="#c0d060" stroke-width="1.2"/></g><circle r="25.5" fill="url(#bubIn)"/><circle r="25.3" fill="none" stroke="#7eaaf4" stroke-width="2.6"/><circle r="25.7" fill="none" stroke="#4f88ee" stroke-width="1" stroke-opacity="0.6"/><path d="M21.9,-2.2 A22.0,22.0 0 0 1 8.0,20.5" fill="none" stroke="#ffffff" stroke-width="3.2" stroke-opacity="0.9" stroke-linecap="round" filter="url(#blur1)"/><ellipse cx="-15.8" cy="-15.8" rx="3" ry="1.6" fill="#ffffff" opacity="0.85" transform="rotate(-45 -15.8 -15.8)"/></g>
<g transform="translate(284.6,340.6)"><circle r="34.5" fill="url(#bubGlow)"/><circle r="25.5" fill="#eef3fd"/><clipPath id="bc284"><circle r="23.5"/></clipPath><g clip-path="url(#bc284)"><rect x="-30" y="-30" width="60" height="60" fill="#2a3a22"/><ellipse cx="14.0" cy="-10.0" rx="5.0" ry="11.0" fill="#5aa04a" transform="rotate(-35 14.0 -10.0)"/><ellipse cx="16.0" cy="6.0" rx="5.0" ry="9.0" fill="#4a9040" transform="rotate(10 16.0 6.0)"/><ellipse cx="-15.0" cy="12.0" rx="4.0" ry="8.0" fill="#4a8a3a" transform="rotate(25 -15.0 12.0)"/><ellipse cx="-12.0" cy="-14.0" rx="6.0" ry="4.0" fill="#1a2a16" transform="rotate(0 -12.0 -14.0)"/><path d="M-3,24 C-8,12 -6,2 1,-3 C7,3 9,14 3,24 Z" fill="#6cb25a"/><path d="M0,22 L1,0" stroke="#3a7a30" stroke-width="0.8"/><path d="M-16,22 C-18,14 -14,8 -9,6 C-7,12 -9,18 -16,22 Z" fill="#5aa04a"/><circle cx="-13.0" cy="-4.0" r="3.8" fill="#d62c44"/><circle cx="-14.1" cy="-5.3" r="1.1" fill="#ff9aa8" opacity="0.8"/><circle cx="-6.0" cy="-7.0" r="3.8" fill="#d62c44"/><circle cx="-7.1" cy="-8.3" r="1.1" fill="#ff9aa8" opacity="0.8"/><circle cx="1.0" cy="-9.0" r="3.6" fill="#d62c44"/><circle cx="-0.1" cy="-10.3" r="1.1" fill="#ff9aa8" opacity="0.8"/><circle cx="8.0" cy="-6.0" r="3.8" fill="#d62c44"/><circle cx="6.9" cy="-7.3" r="1.1" fill="#ff9aa8" opacity="0.8"/><circle cx="-16.0" cy="3.0" r="3.6" fill="#d62c44"/><circle cx="-17.1" cy="1.7" r="1.1" fill="#ff9aa8" opacity="0.8"/><circle cx="-9.0" cy="1.0" r="3.4" fill="#d62c44"/><circle cx="-10.0" cy="-0.2" r="1.0" fill="#ff9aa8" opacity="0.8"/><circle cx="11.0" cy="1.0" r="3.6" fill="#d62c44"/><circle cx="9.9" cy="-0.3" r="1.1" fill="#ff9aa8" opacity="0.8"/><circle cx="13.0" cy="8.0" r="3.5" fill="#d62c44"/><circle cx="11.9" cy="6.8" r="1.1" fill="#ff9aa8" opacity="0.8"/><circle cx="-12.0" cy="10.0" r="3.2" fill="#d62c44"/><circle cx="-13.0" cy="8.9" r="1.0" fill="#ff9aa8" opacity="0.8"/><circle cx="8.0" cy="14.0" r="3.4" fill="#d62c44"/><circle cx="7.0" cy="12.8" r="1.0" fill="#ff9aa8" opacity="0.8"/><circle cx="3.0" cy="18.0" r="3.2" fill="#d62c44"/><circle cx="2.0" cy="16.9" r="1.0" fill="#ff9aa8" opacity="0.8"/><circle cx="-4.0" cy="-15.0" r="3.2" fill="#d62c44"/><circle cx="-5.0" cy="-16.1" r="1.0" fill="#ff9aa8" opacity="0.8"/><circle cx="4.0" cy="-16.0" r="3.2" fill="#d62c44"/><circle cx="3.0" cy="-17.1" r="1.0" fill="#ff9aa8" opacity="0.8"/><circle cx="11.0" cy="-13.0" r="3.0" fill="#d62c44"/><circle cx="10.1" cy="-14.1" r="0.9" fill="#ff9aa8" opacity="0.8"/><circle cx="-11.0" cy="-12.0" r="3.0" fill="#d62c44"/><circle cx="-11.9" cy="-13.1" r="0.9" fill="#ff9aa8" opacity="0.8"/></g><circle r="25.5" fill="url(#bubIn)"/><circle r="25.3" fill="none" stroke="#7eaaf4" stroke-width="2.6"/><circle r="25.7" fill="none" stroke="#4f88ee" stroke-width="1" stroke-opacity="0.6"/><path d="M21.9,-2.2 A22.0,22.0 0 0 1 8.0,20.5" fill="none" stroke="#ffffff" stroke-width="3.2" stroke-opacity="0.9" stroke-linecap="round" filter="url(#blur1)"/><ellipse cx="-15.8" cy="-15.8" rx="3" ry="1.6" fill="#ffffff" opacity="0.85" transform="rotate(-45 -15.8 -15.8)"/></g>
<g transform="translate(402.6,332.2)"><circle r="34.5" fill="url(#bubGlow)"/><circle r="25.5" fill="#eef3fd"/><clipPath id="bc402"><circle r="23.5"/></clipPath><g clip-path="url(#bc402)"><rect x="-30" y="-30" width="60" height="60" fill="#6a5a4a"/><rect x="-30" y="-30" width="60" height="14" fill="#8a8a80"/><circle r="12" fill="#5a1a1e"/><path d="M3.0,-0.1 L5.3,1.4 L8.0,-1.1 L10.3,2.4 L12.5,-3.9" stroke="#e8d228" stroke-width="1.7" fill="none" stroke-linecap="round" stroke-linejoin="round"/><path d="M2.7,1.3 L5.7,-0.2 L8.4,-1.2 L11.1,-1.8 L13.7,2.9" stroke="#d8c020" stroke-width="2.1" fill="none" stroke-linecap="round" stroke-linejoin="round"/><path d="M2.8,1.1 L4.7,2.1 L6.0,4.3 L9.3,1.8 L11.3,3.1" stroke="#d8c020" stroke-width="2.0" fill="none" stroke-linecap="round" stroke-linejoin="round"/><path d="M2.7,1.4 L4.5,3.9 L6.9,5.5 L7.9,8.7 L10.1,10.7" stroke="#d8c020" stroke-width="1.5" fill="none" stroke-linecap="round" stroke-linejoin="round"/><path d="M0.3,3.0 L4.4,6.1 L4.4,11.3 L6.0,15.5 L6.6,20.1" stroke="#f0dc3a" stroke-width="2.1" fill="none" stroke-linecap="round" stroke-linejoin="round"/><path d="M1.4,2.6 L3.8,6.0 L2.6,10.9 L7.5,13.4 L11.3,15.8" stroke="#f0dc3a" stroke-width="2.1" fill="none" stroke-linecap="round" stroke-linejoin="round"/><path d="M0.3,3.0 L0.6,6.0 L-0.7,9.1 L2.7,11.8 L2.3,15.0" stroke="#d8c020" stroke-width="1.9" fill="none" stroke-linecap="round" stroke-linejoin="round"/><path d="M-1.0,2.8 L-2.5,4.3 L-0.7,7.0 L-0.4,9.0 L-2.3,10.8" stroke="#e8d228" stroke-width="1.7" fill="none" stroke-linecap="round" stroke-linejoin="round"/><path d="M-1.5,2.6 L-1.1,5.5 L-5.0,6.6 L-4.1,10.1 L-1.8,13.4" stroke="#f0dc3a" stroke-width="1.6" fill="none" stroke-linecap="round" stroke-linejoin="round"/><path d="M-0.7,2.9 L-1.9,7.3 L-7.0,9.8 L-9.0,13.9 L-16.0,13.6" stroke="#f0dc3a" stroke-width="1.8" fill="none" stroke-linecap="round" stroke-linejoin="round"/><path d="M-2.6,1.5 L-5.9,2.5 L-8.1,5.6 L-10.8,7.8 L-15.0,7.4" stroke="#f0dc3a" stroke-width="1.8" fill="none" stroke-linecap="round" stroke-linejoin="round"/><path d="M-1.9,2.3 L-3.8,3.5 L-5.7,4.6 L-8.0,5.2 L-10.9,4.4" stroke="#e8d228" stroke-width="2.1" fill="none" stroke-linecap="round" stroke-linejoin="round"/><path d="M-3.0,0.3 L-6.3,-0.2 L-9.3,-2.8 L-12.8,2.1 L-16.3,0.6" stroke="#e8d228" stroke-width="1.5" fill="none" stroke-linecap="round" stroke-linejoin="round"/><path d="M-3.0,-0.5 L-7.7,0.5 L-11.7,4.2 L-16.7,-3.4 L-21.7,-1.3" stroke="#d8c020" stroke-width="2.1" fill="none" stroke-linecap="round" stroke-linejoin="round"/><path d="M-3.0,-0.2 L-5.3,-1.2 L-7.7,-1.7 L-10.3,0.1 L-12.7,0.2" stroke="#d8c020" stroke-width="1.9" fill="none" stroke-linecap="round" stroke-linejoin="round"/><path d="M-2.7,-1.2 L-5.8,-3.0 L-9.1,-4.5 L-13.7,0.2 L-17.3,0.4" stroke="#d8c020" stroke-width="2.0" fill="none" stroke-linecap="round" stroke-linejoin="round"/><path d="M-2.2,-2.1 L-4.9,-3.2 L-6.9,-5.2 L-10.9,-3.6 L-12.4,-7.2" stroke="#d8c020" stroke-width="1.9" fill="none" stroke-linecap="round" stroke-linejoin="round"/><path d="M-1.3,-2.7 L-4.8,-5.7 L-7.4,-9.4 L-6.1,-15.2 L-13.5,-15.9" stroke="#d8c020" stroke-width="2.0" fill="none" stroke-linecap="round" stroke-linejoin="round"/><path d="M-2.0,-2.2 L-2.5,-4.6 L-2.2,-7.2 L-4.2,-8.9 L-3.6,-11.5" stroke="#e8d228" stroke-width="1.9" fill="none" stroke-linecap="round" stroke-linejoin="round"/><path d="M-0.9,-2.9 L-1.5,-6.4 L-2.1,-10.0 L-5.0,-12.8 L0.7,-17.4" stroke="#d8c020" stroke-width="1.5" fill="none" stroke-linecap="round" stroke-linejoin="round"/><path d="M-1.0,-2.8 L-1.3,-6.6 L-0.8,-10.4 L2.6,-13.9 L-5.6,-16.9" stroke="#e8d228" stroke-width="1.9" fill="none" stroke-linecap="round" stroke-linejoin="round"/><path d="M1.6,-2.5 L2.5,-4.5 L1.0,-7.2 L4.8,-8.0 L5.3,-10.2" stroke="#f0dc3a" stroke-width="1.7" fill="none" stroke-linecap="round" stroke-linejoin="round"/><path d="M2.2,-2.0 L1.5,-7.3 L7.0,-9.6 L9.6,-13.2 L11.1,-17.5" stroke="#f0dc3a" stroke-width="1.6" fill="none" stroke-linecap="round" stroke-linejoin="round"/><path d="M2.8,-1.1 L4.6,-4.3 L6.7,-7.0 L10.2,-8.1 L11.4,-11.6" stroke="#f0dc3a" stroke-width="1.7" fill="none" stroke-linecap="round" stroke-linejoin="round"/><path d="M2.9,-0.8 L4.7,-3.6 L8.0,-3.7 L11.5,-2.5 L12.2,-8.2" stroke="#f0dc3a" stroke-width="1.8" fill="none" stroke-linecap="round" stroke-linejoin="round"/><path d="M2.8,-1.2 L5.9,-2.0 L8.7,-4.1 L10.5,-7.5 L16.1,-1.2" stroke="#e8d228" stroke-width="2.0" fill="none" stroke-linecap="round" stroke-linejoin="round"/><circle r="4.5" fill="#6a1a1c"/><circle cx="-2" cy="-2" r="2" fill="#8a2a2a"/></g><circle r="25.5" fill="url(#bubIn)"/><circle r="25.3" fill="none" stroke="#7eaaf4" stroke-width="2.6"/><circle r="25.7" fill="none" stroke="#4f88ee" stroke-width="1" stroke-opacity="0.6"/><path d="M21.9,-2.2 A22.0,22.0 0 0 1 8.0,20.5" fill="none" stroke="#ffffff" stroke-width="3.2" stroke-opacity="0.9" stroke-linecap="round" filter="url(#blur1)"/><ellipse cx="-15.8" cy="-15.8" rx="3" ry="1.6" fill="#ffffff" opacity="0.85" transform="rotate(-45 -15.8 -15.8)"/></g>
<g transform="translate(540.8,333.4)"><circle r="34.5" fill="url(#bubGlow)"/><circle r="25.5" fill="#eef3fd"/><clipPath id="bc540"><circle r="23.5"/></clipPath><g clip-path="url(#bc540)"><rect x="-30" y="-30" width="60" height="60" fill="#6aa848"/><ellipse cx="-11.0" cy="-11.0" rx="7.0" ry="7.0" fill="#2a3a20" transform="rotate(0 -11.0 -11.0)"/><ellipse cx="13.0" cy="-8.0" rx="7.0" ry="12.0" fill="#4e9838" transform="rotate(25 13.0 -8.0)"/><ellipse cx="-15.0" cy="6.0" rx="8.0" ry="6.0" fill="#8cc464" transform="rotate(0 -15.0 6.0)"/><ellipse cx="0.0" cy="-15.0" rx="10.0" ry="5.0" fill="#9ccc70" transform="rotate(0 0.0 -15.0)"/><ellipse cx="2.0" cy="17.0" rx="13.0" ry="6.0" fill="#78b454" transform="rotate(0 2.0 17.0)"/><ellipse cx="15.0" cy="10.0" rx="5.0" ry="6.0" fill="#5aa040" transform="rotate(0 15.0 10.0)"/><path d="M-4,-14 L0,-2 M6,-16 L4,-4 M-10,-6 L-4,0" stroke="#b8d880" stroke-width="1.2" fill="none"/><circle cx="-9.0" cy="4.0" r="5.8" fill="#b6d86a"/><circle cx="-10.5" cy="2.2" r="2.6" fill="#d8eea0" opacity="0.7"/><circle cx="1.0" cy="6.0" r="6.2" fill="#b6d86a"/><circle cx="-0.5" cy="4.2" r="2.8" fill="#d8eea0" opacity="0.7"/><circle cx="10.0" cy="5.0" r="5.6" fill="#b6d86a"/><circle cx="8.5" cy="3.2" r="2.5" fill="#d8eea0" opacity="0.7"/><circle cx="13.0" cy="-3.0" r="5.2" fill="#b6d86a"/><circle cx="11.5" cy="-4.8" r="2.3" fill="#d8eea0" opacity="0.7"/><circle cx="-3.0" cy="14.0" r="4.8" fill="#b6d86a"/><circle cx="-4.5" cy="12.2" r="2.2" fill="#d8eea0" opacity="0.7"/></g><circle r="25.5" fill="url(#bubIn)"/><circle r="25.3" fill="none" stroke="#7eaaf4" stroke-width="2.6"/><circle r="25.7" fill="none" stroke="#4f88ee" stroke-width="1" stroke-opacity="0.6"/><path d="M21.9,-2.2 A22.0,22.0 0 0 1 8.0,20.5" fill="none" stroke="#ffffff" stroke-width="3.2" stroke-opacity="0.9" stroke-linecap="round" filter="url(#blur1)"/><ellipse cx="-15.8" cy="-15.8" rx="3" ry="1.6" fill="#ffffff" opacity="0.85" transform="rotate(-45 -15.8 -15.8)"/></g>

<!-- ===== LABEL LINES ===== -->
<g fill="none" stroke-linecap="round" stroke-linejoin="round">
  <g stroke="#fff" stroke-width="5">
    <path d="M157,352.5 L193,352.5 L228,300"/>
    <path d="M515,376.3 L617,376.3"/>
    <path d="M120,468 L182,422"/>
    <path d="M199,514 L257,632"/>
    <path d="M464,604 L509,638"/>
  </g>
  <g stroke="#3f4547" stroke-width="2.8">
    <path d="M157,352.5 L193,352.5 L228,300"/>
    <path d="M515,376.3 L617,376.3"/>
    <path d="M120,468 L182,422"/>
    <path d="M199,514 L257,632"/>
    <path d="M464,604 L509,638"/>
  </g>
</g>

<!-- ===== LABEL BOXES ===== -->
<g fill="#1670e6" stroke="#fff" stroke-width="1.5">
  <path d="M6.0,345.5 Q6.0,339.0 12.5,339.0 L155.0,339.0 Q157.0,339.0 157.0,341.0 L157.0,361.5 Q157.0,368.0 150.5,368.0 L8.0,368.0 Q6.0,368.0 6.0,366.0 Z"/>
  <path d="M617.0,365.8 Q617.0,358.3 624.5,358.3 L694.5,358.3 Q696.5,358.3 696.5,360.3 L696.5,384.2 Q696.5,391.7 689.0,391.7 L619.0,391.7 Q617.0,391.7 617.0,389.7 Z"/>
  <path d="M13.0,477.5 Q13.0,470.0 20.5,470.0 L193.0,470.0 Q195.0,470.0 195.0,472.0 L195.0,494.5 Q195.0,502.0 187.5,502.0 L15.0,502.0 Q13.0,502.0 13.0,500.0 Z"/>
  <path d="M177.0,640.0 Q177.0,632.5 184.5,632.5 L357.7,632.5 Q359.7,632.5 359.7,634.5 L359.7,657.5 Q359.7,665.0 352.2,665.0 L179.0,665.0 Q177.0,665.0 177.0,663.0 Z"/>
  <path d="M451.0,645.8 Q451.0,638.3 458.5,638.3 L581.0,638.3 Q583.0,638.3 583.0,640.3 L583.0,664.2 Q583.0,671.7 575.5,671.7 L453.0,671.7 Q451.0,671.7 451.0,669.7 Z"/>
</g>
<g fill="#fff" font-weight="bold" font-size="16">
  <text x="14" y="357.8" textLength="139" lengthAdjust="spacingAndGlyphs">Treatment Patch</text>
  <text x="635.6" y="380.8" font-size="18.5" textLength="44" lengthAdjust="spacingAndGlyphs">Skin</text>
  <text x="21.4" y="491.5" font-size="18.5" textLength="166" lengthAdjust="spacingAndGlyphs">Superficial Veins</text>
  <text x="181.6" y="654.7" font-size="18" textLength="174" lengthAdjust="spacingAndGlyphs">Perforating Veins</text>
  <text x="461.6" y="661" font-size="18" textLength="112" lengthAdjust="spacingAndGlyphs">Deep Veins</text>
</g>

<!-- ===== HEADINGS ===== -->
<g fill="#1a6fe2">
  <text x="124" y="54" font-size="43.5" font-weight="bold" textLength="471" lengthAdjust="spacingAndGlyphs">ANTI–INFLAMMATORY</text>
  <text x="244.8" y="98.5" font-size="42" stroke="#1a6fe2" stroke-width="0.35" textLength="231" lengthAdjust="spacingAndGlyphs">Properties</text>
  <text x="122.8" y="189.3" font-size="22" font-weight="bold" textLength="98" lengthAdjust="spacingAndGlyphs">Improve</text>
  <text x="122.8" y="214" font-size="22" font-weight="bold" textLength="130" lengthAdjust="spacingAndGlyphs">Blood Flow</text>
  <text x="463" y="146.2" font-size="26" font-weight="bold" textLength="252" lengthAdjust="spacingAndGlyphs">Active ingredients</text>
  <text x="515" y="175.6" font-size="26" font-weight="bold" textLength="200" lengthAdjust="spacingAndGlyphs">penetrates the</text>
  <text x="576" y="205" font-size="26" font-weight="bold" textLength="139" lengthAdjust="spacingAndGlyphs">skin veins</text>
</g>
</svg>
</body></html>
